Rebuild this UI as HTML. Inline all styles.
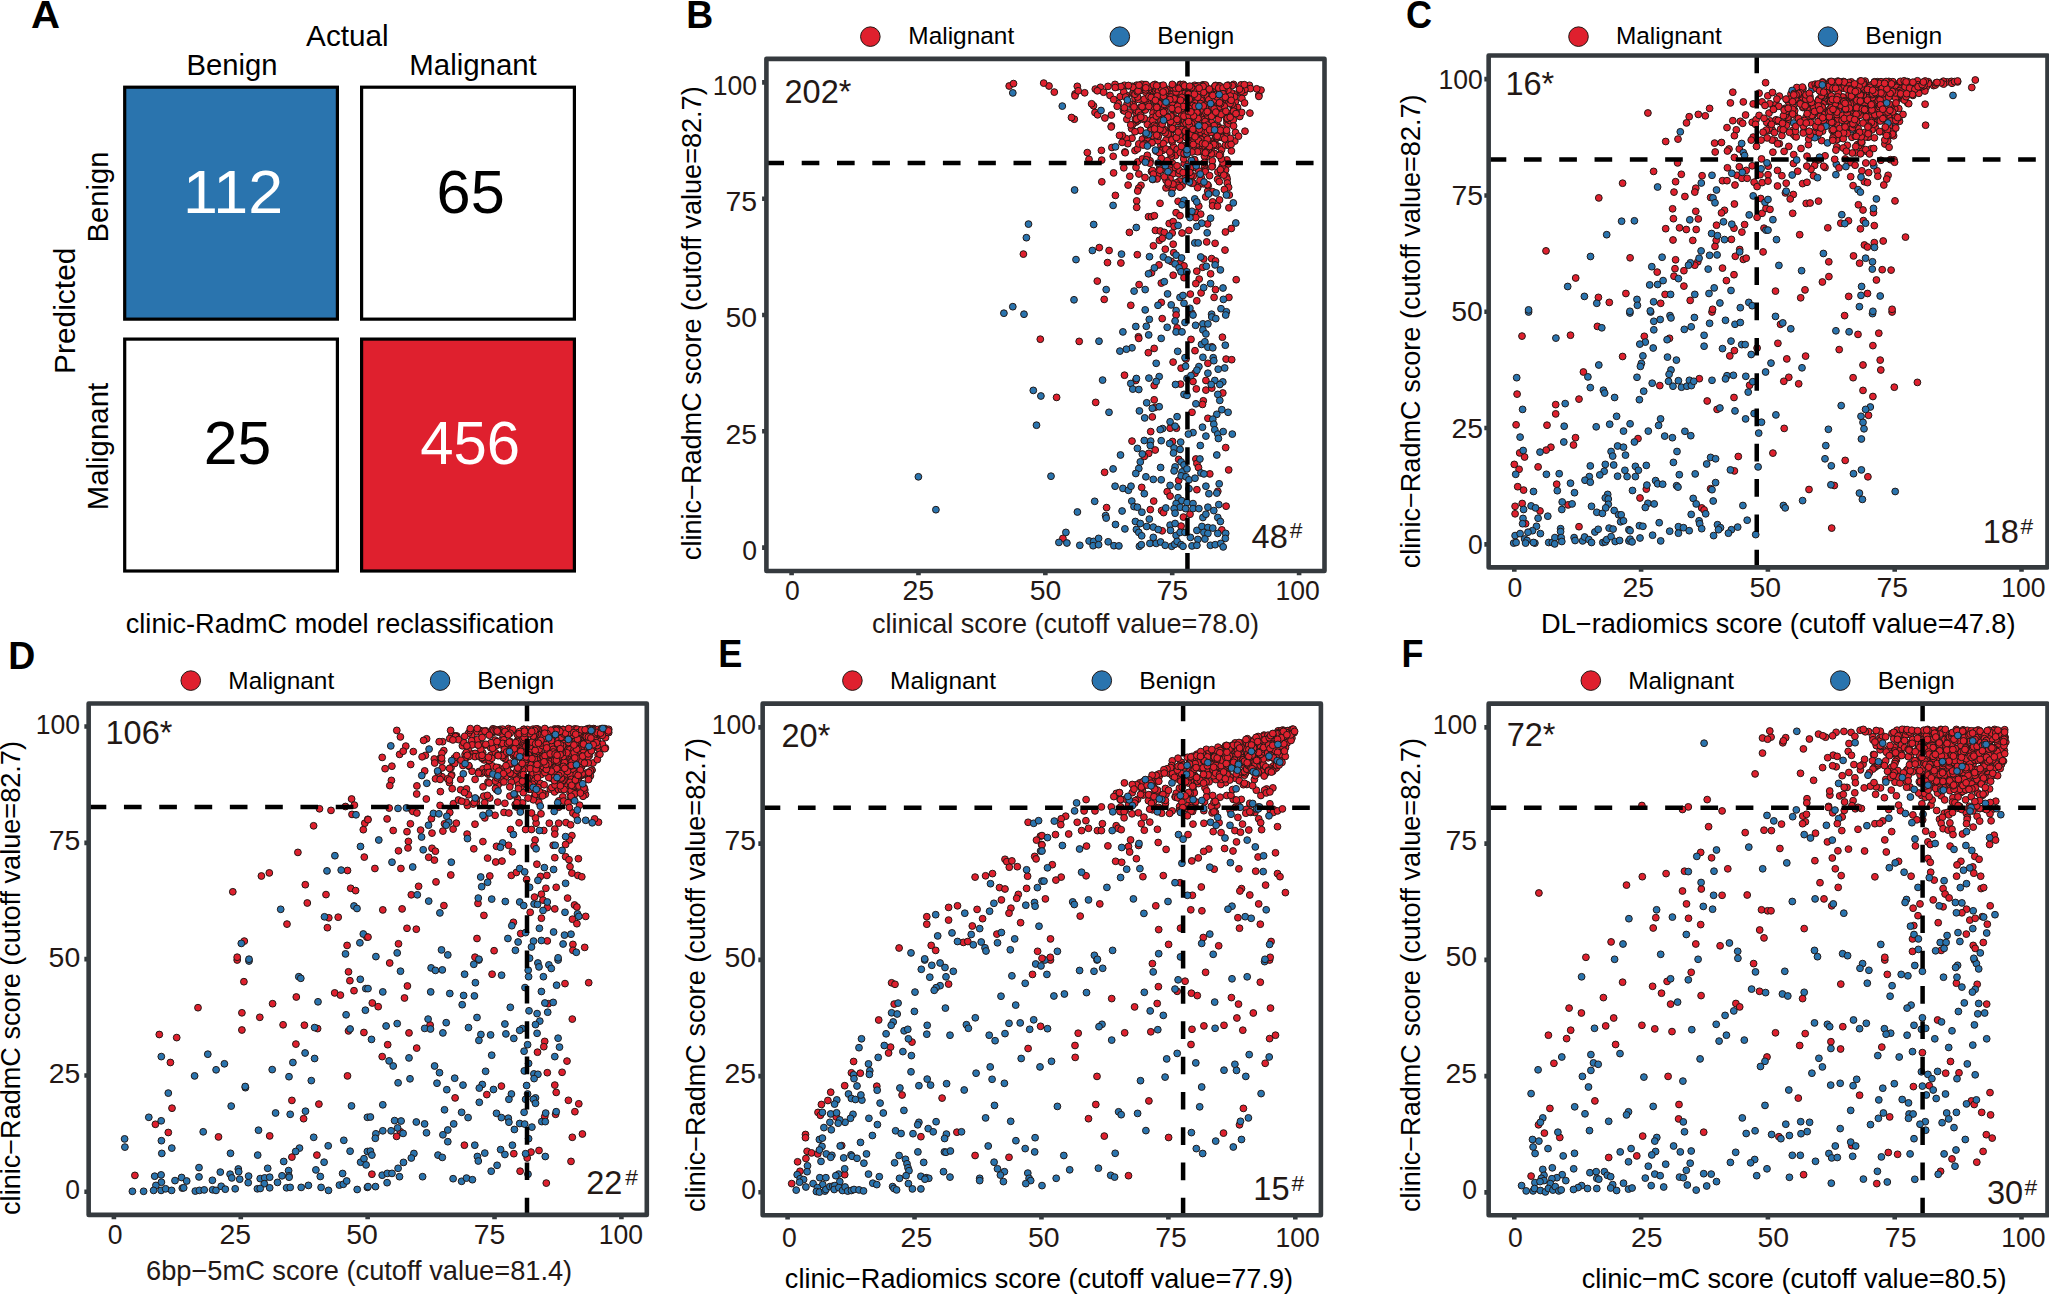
<!DOCTYPE html>
<html><head><meta charset="utf-8"><title>Figure</title>
<style>html,body{margin:0;padding:0;background:#fff}svg{display:block}text{font-family:"Liberation Sans", sans-serif;}</style>
</head><body>
<svg width="2049" height="1294" viewBox="0 0 2049 1294">
<rect width="2049" height="1294" fill="#fff"/>
<defs><circle id="r" r="3.4" fill="#df202e"/><circle id="b" r="3.4" fill="#2a74ae"/></defs>
<g id="panelA">
<text x="31.04" y="28.10" font-size="39" fill="#000" font-weight="bold" textLength="29.02" lengthAdjust="spacingAndGlyphs">A</text>
<rect x="124.70" y="87.20" width="212.70" height="231.95" fill="#2a74ae" stroke="#000" stroke-width="3.2"/>
<rect x="361.60" y="87.20" width="212.80" height="231.95" fill="#fff" stroke="#000" stroke-width="3.2"/>
<rect x="124.70" y="339.10" width="212.70" height="231.90" fill="#fff" stroke="#000" stroke-width="3.2"/>
<rect x="361.60" y="339.10" width="212.80" height="231.90" fill="#df202e" stroke="#000" stroke-width="3.2"/>
<text x="306.14" y="46.10" font-size="28.9" fill="#000" textLength="82.53" lengthAdjust="spacingAndGlyphs">Actual</text>
<text x="186.60" y="75.00" font-size="28.9" fill="#000" textLength="90.96" lengthAdjust="spacingAndGlyphs">Benign</text>
<text x="409.29" y="75.00" font-size="28.9" fill="#000" textLength="127.52" lengthAdjust="spacingAndGlyphs">Malignant</text>
<text x="75.20" y="373.95" transform="rotate(-90 75.20 373.95)" font-size="28.9" fill="#000" textLength="126.39" lengthAdjust="spacingAndGlyphs">Predicted</text>
<text x="108.40" y="242.40" transform="rotate(-90 108.40 242.40)" font-size="28.9" fill="#000" textLength="90.96" lengthAdjust="spacingAndGlyphs">Benign</text>
<text x="108.40" y="510.31" transform="rotate(-90 108.40 510.31)" font-size="28.9" fill="#000" textLength="127.52" lengthAdjust="spacingAndGlyphs">Malignant</text>
<text x="183.13" y="213.20" font-size="61" fill="#fff" textLength="100.02" lengthAdjust="spacingAndGlyphs">112</text>
<text x="436.63" y="212.50" font-size="61" fill="#000" textLength="68.20" lengthAdjust="spacingAndGlyphs">65</text>
<text x="203.66" y="463.60" font-size="61" fill="#000" textLength="67.54" lengthAdjust="spacingAndGlyphs">25</text>
<text x="420.18" y="463.50" font-size="61" fill="#fff" textLength="99.92" lengthAdjust="spacingAndGlyphs">456</text>
<text x="125.76" y="632.70" font-size="27.1" fill="#000" textLength="428.37" lengthAdjust="spacingAndGlyphs">clinic-RadmC model reclassification</text>
</g>
<g id="panelB">
<text x="686.24" y="28.10" font-size="39" fill="#000" font-weight="bold" textLength="26.95" lengthAdjust="spacingAndGlyphs">B</text>
<g stroke="#231815" stroke-width="1"><use href="#r" x="1175.6" y="155.6"/><use href="#r" x="1173" y="173.7"/><use href="#r" x="1179.4" y="181"/><use href="#r" x="1157.2" y="125.6"/><use href="#r" x="1191.6" y="183.2"/><use href="#r" x="1195.2" y="121.6"/><use href="#r" x="1054.3" y="92.1"/><use href="#r" x="1220.6" y="114.7"/><use href="#r" x="1140.3" y="130.6"/><use href="#r" x="1201.4" y="178.2"/><use href="#r" x="1200.2" y="117.5"/><use href="#r" x="1152.9" y="117.6"/><use href="#r" x="1204.5" y="135.6"/><use href="#r" x="1188.1" y="108.1"/><use href="#r" x="1132.4" y="105.3"/><use href="#r" x="1135.3" y="87.5"/><use href="#r" x="1087.3" y="152.6"/><use href="#r" x="1177.3" y="96.3"/><use href="#r" x="1178.9" y="173.7"/><use href="#r" x="1173.6" y="89.8"/><use href="#r" x="1217.9" y="89.1"/><use href="#r" x="1226.9" y="159.9"/><use href="#r" x="1214.7" y="86.6"/><use href="#r" x="1198.5" y="138"/><use href="#r" x="1151.4" y="142.2"/><use href="#r" x="1111.9" y="147.5"/><use href="#r" x="1212.3" y="101.9"/><use href="#r" x="1200.4" y="88.2"/><use href="#r" x="1217.9" y="91.6"/><use href="#r" x="1188.9" y="126.5"/><use href="#r" x="1226.9" y="122.6"/><use href="#r" x="1226.5" y="176.6"/><use href="#r" x="1142.4" y="139.1"/><use href="#r" x="1203.6" y="183.8"/><use href="#r" x="1225.6" y="169.9"/><use href="#r" x="1223.1" y="137.8"/><use href="#r" x="1206.9" y="156.3"/><use href="#r" x="1175.4" y="108"/><use href="#r" x="1144.2" y="109.5"/><use href="#r" x="1104.9" y="118"/><use href="#r" x="1120.2" y="96.6"/><use href="#r" x="1182.1" y="112.2"/><use href="#r" x="1153.1" y="91.2"/><use href="#r" x="1219.3" y="110.1"/><use href="#r" x="1160.7" y="112.9"/><use href="#r" x="1165.8" y="101.5"/><use href="#r" x="1161.5" y="169.8"/><use href="#r" x="1202.9" y="84.8"/><use href="#r" x="1136" y="167.4"/><use href="#r" x="1237.5" y="107.3"/><use href="#r" x="1118.3" y="103.4"/><use href="#r" x="1217.6" y="179.3"/><use href="#r" x="1133.5" y="105"/><use href="#r" x="1174.8" y="92.1"/><use href="#r" x="1217.3" y="137.7"/><use href="#r" x="1223.5" y="102"/><use href="#r" x="1101.7" y="160.1"/><use href="#r" x="1213" y="97.5"/><use href="#r" x="1160.6" y="110.1"/><use href="#r" x="1211.7" y="141.5"/><use href="#r" x="1219.4" y="115"/><use href="#r" x="1172.3" y="163.1"/><use href="#r" x="1184.2" y="163.6"/><use href="#r" x="1190.9" y="92.4"/><use href="#r" x="1140.5" y="90.4"/><use href="#r" x="1164.6" y="130.7"/><use href="#r" x="1173.9" y="110.5"/><use href="#r" x="1144.1" y="102.4"/><use href="#r" x="1168.4" y="167.7"/><use href="#r" x="1217.9" y="113.4"/><use href="#r" x="1182.2" y="185.3"/><use href="#r" x="1169.3" y="120.8"/><use href="#r" x="1213.7" y="129.2"/><use href="#r" x="1176" y="94"/><use href="#r" x="1174.3" y="88.6"/><use href="#r" x="1201.6" y="106"/><use href="#r" x="1190.3" y="125.3"/><use href="#r" x="1164" y="119.2"/><use href="#r" x="1220.9" y="103.1"/><use href="#r" x="1171" y="96"/><use href="#r" x="1074.3" y="119.2"/><use href="#r" x="1169" y="131.1"/><use href="#r" x="1202.2" y="113"/><use href="#r" x="1216.4" y="103.1"/><use href="#r" x="1203.8" y="85.6"/><use href="#r" x="1161.2" y="85.7"/><use href="#r" x="1183.8" y="94.4"/><use href="#r" x="1147.2" y="140.9"/><use href="#r" x="1183.3" y="123.4"/><use href="#r" x="1185.4" y="88.1"/><use href="#r" x="1200.4" y="132.1"/><use href="#r" x="1232.5" y="100"/><use href="#r" x="1206.7" y="112.8"/><use href="#r" x="1206.6" y="124.9"/><use href="#r" x="1234.1" y="94"/><use href="#r" x="1155" y="84.4"/><use href="#r" x="1126.5" y="95.5"/><use href="#r" x="1150.4" y="127.4"/><use href="#r" x="1152.5" y="107.9"/><use href="#r" x="1179.7" y="118.7"/><use href="#r" x="1194.7" y="100.5"/><use href="#r" x="1204.6" y="167"/><use href="#r" x="1214.1" y="143.6"/><use href="#r" x="1151.7" y="87.6"/><use href="#r" x="1193.3" y="166.8"/><use href="#r" x="1202.7" y="147.1"/><use href="#r" x="1145.6" y="106"/><use href="#r" x="1148.1" y="103.3"/><use href="#r" x="1212" y="123.9"/><use href="#r" x="1166.2" y="131.1"/><use href="#r" x="1235.4" y="101.6"/><use href="#r" x="1195.8" y="167.8"/><use href="#r" x="1184.5" y="121.1"/><use href="#r" x="1204.4" y="156.2"/><use href="#r" x="1170.2" y="187.8"/><use href="#r" x="1194.7" y="85.3"/><use href="#r" x="1186.7" y="122.9"/><use href="#r" x="1133.1" y="93.8"/><use href="#r" x="1212.7" y="88.8"/><use href="#r" x="1147.9" y="139"/><use href="#r" x="1084.7" y="92.8"/><use href="#r" x="1214.2" y="111.8"/><use href="#r" x="1214.5" y="153.5"/><use href="#r" x="1199.3" y="184.4"/><use href="#r" x="1215.7" y="137.7"/><use href="#r" x="1193.2" y="176"/><use href="#r" x="1219.7" y="106.8"/><use href="#r" x="1228.2" y="124"/><use href="#r" x="1123.5" y="110.5"/><use href="#r" x="1169.2" y="90.5"/><use href="#r" x="1144.5" y="88.4"/><use href="#r" x="1172.9" y="94.1"/><use href="#r" x="1171" y="135.4"/><use href="#r" x="1159.6" y="95.5"/><use href="#r" x="1206.5" y="113.8"/><use href="#r" x="1220.4" y="100.7"/><use href="#r" x="1218.1" y="126.3"/><use href="#r" x="1174.9" y="102"/><use href="#r" x="1144.9" y="109.4"/><use href="#r" x="1135" y="150.6"/><use href="#r" x="1172" y="121.2"/><use href="#r" x="1155.1" y="114.1"/><use href="#r" x="1172.8" y="188.1"/><use href="#r" x="1211" y="124.1"/><use href="#r" x="1184.3" y="92.7"/><use href="#r" x="1075.1" y="94"/><use href="#r" x="1215.6" y="85.4"/><use href="#r" x="1228.3" y="113.2"/><use href="#r" x="1195.5" y="163.4"/><use href="#r" x="1133" y="92.7"/><use href="#r" x="1194" y="115.6"/><use href="#r" x="1193.7" y="146.1"/><use href="#r" x="1196.9" y="121.9"/><use href="#r" x="1220.9" y="99"/><use href="#r" x="1220.1" y="170.5"/><use href="#r" x="1199.7" y="123.1"/><use href="#r" x="1218" y="146.1"/><use href="#r" x="1071.5" y="117.5"/><use href="#r" x="1132" y="138.2"/><use href="#r" x="1170.5" y="149.7"/><use href="#r" x="1228.5" y="103.4"/><use href="#r" x="1191" y="130.7"/><use href="#r" x="1151.5" y="171.5"/><use href="#r" x="1162.6" y="112.9"/><use href="#r" x="1123.7" y="91.8"/><use href="#r" x="1232" y="96.1"/><use href="#r" x="1153.7" y="86"/><use href="#r" x="1224.8" y="96.8"/><use href="#r" x="1201.6" y="102.1"/><use href="#r" x="1170.8" y="124.9"/><use href="#r" x="1186.7" y="106.5"/><use href="#r" x="1166.8" y="102"/><use href="#r" x="1190.6" y="116"/><use href="#r" x="1192.6" y="131.1"/><use href="#r" x="1159.5" y="91.4"/><use href="#r" x="1258.8" y="95"/><use href="#r" x="1190.6" y="136.5"/><use href="#r" x="1206.4" y="104.9"/><use href="#r" x="1137.7" y="161.9"/><use href="#r" x="1135" y="98.2"/><use href="#r" x="1188.5" y="137.1"/><use href="#r" x="1145.3" y="110"/><use href="#r" x="1124.9" y="152"/><use href="#r" x="1151.8" y="142.6"/><use href="#r" x="1148.2" y="159.7"/><use href="#r" x="1113.6" y="172.9"/><use href="#r" x="1201.6" y="123.5"/><use href="#r" x="1179.3" y="136.9"/><use href="#r" x="1216" y="138.2"/><use href="#r" x="1189.3" y="118.1"/><use href="#r" x="1126.2" y="138.6"/><use href="#r" x="1158.5" y="107.1"/><use href="#r" x="1188.5" y="164"/><use href="#r" x="1249.4" y="85.3"/><use href="#r" x="1195.7" y="128.8"/><use href="#r" x="1171.4" y="127.7"/><use href="#r" x="1224.7" y="90.7"/><use href="#r" x="1167.5" y="97"/><use href="#r" x="1170.2" y="159.4"/><use href="#r" x="1157.5" y="175.2"/><use href="#r" x="1187.6" y="124.2"/><use href="#r" x="1241.6" y="94.3"/><use href="#r" x="1180.1" y="84.4"/><use href="#r" x="1180.4" y="93.6"/><use href="#r" x="1138.5" y="99.4"/><use href="#r" x="1162" y="88.2"/><use href="#r" x="1222" y="166.9"/><use href="#r" x="1195.1" y="143.2"/><use href="#r" x="1218.9" y="127.8"/><use href="#r" x="1137.6" y="97"/><use href="#r" x="1110" y="95.4"/><use href="#r" x="1215" y="139.7"/><use href="#r" x="1198.5" y="101.5"/><use href="#r" x="1189.7" y="172.1"/><use href="#r" x="1217.9" y="172.1"/><use href="#r" x="1205.4" y="107"/><use href="#r" x="1217.6" y="95.7"/><use href="#r" x="1136.1" y="122.1"/><use href="#r" x="1179.4" y="87.2"/><use href="#r" x="1170.1" y="178.7"/><use href="#r" x="1148.1" y="95.5"/><use href="#r" x="1153" y="113"/><use href="#r" x="1146.5" y="98.8"/><use href="#r" x="1137.3" y="87"/><use href="#r" x="1184.4" y="146.8"/><use href="#r" x="1180.7" y="84.7"/><use href="#r" x="1216.5" y="89.9"/><use href="#r" x="1212.4" y="166"/><use href="#r" x="1135.2" y="91.4"/><use href="#r" x="1129.3" y="103.6"/><use href="#r" x="1204.9" y="96.6"/><use href="#r" x="1131.6" y="128.6"/><use href="#r" x="1240.2" y="88.9"/><use href="#r" x="1187.8" y="139"/><use href="#r" x="1221.7" y="132.2"/><use href="#r" x="1146" y="134.6"/><use href="#r" x="1214.8" y="112.4"/><use href="#r" x="1198.2" y="87"/><use href="#r" x="1191.6" y="86.7"/><use href="#r" x="1181.5" y="108.2"/><use href="#r" x="1218.8" y="89.2"/><use href="#r" x="1138.9" y="108.6"/><use href="#r" x="1152.6" y="117.5"/><use href="#r" x="1128.3" y="85.8"/><use href="#r" x="1136.6" y="85.2"/><use href="#r" x="1166.1" y="99.3"/><use href="#r" x="1200.9" y="86.1"/><use href="#r" x="1200.3" y="140.1"/><use href="#r" x="1204.9" y="146.4"/><use href="#r" x="1188.9" y="173.7"/><use href="#r" x="1208.8" y="92.9"/><use href="#r" x="1187.9" y="109.1"/><use href="#r" x="1176.8" y="120.9"/><use href="#r" x="1159.7" y="168.2"/><use href="#r" x="1159.7" y="119.2"/><use href="#r" x="1179.6" y="139.6"/><use href="#r" x="1177.5" y="121.5"/><use href="#r" x="1189.9" y="89.6"/><use href="#r" x="1149.3" y="120.4"/><use href="#r" x="1140.5" y="130.3"/><use href="#r" x="1176.8" y="121.6"/><use href="#r" x="1239.8" y="116.5"/><use href="#r" x="1192.6" y="99.2"/><use href="#r" x="1137.7" y="120.8"/><use href="#r" x="1230.9" y="120.1"/><use href="#r" x="1241.7" y="112.4"/><use href="#r" x="1250.4" y="88.6"/><use href="#r" x="1199.2" y="90.9"/><use href="#r" x="1101.8" y="181.8"/><use href="#r" x="1201" y="123.3"/><use href="#r" x="1176.2" y="89"/><use href="#r" x="1172.5" y="117.5"/><use href="#r" x="1173.4" y="106.5"/><use href="#r" x="1147.4" y="145"/><use href="#r" x="1158" y="136.5"/><use href="#r" x="1216.5" y="138"/><use href="#r" x="1207.7" y="191.2"/><use href="#r" x="1197.1" y="143.9"/><use href="#r" x="1196.6" y="97"/><use href="#r" x="1164.1" y="89.2"/><use href="#r" x="1198.3" y="85.8"/><use href="#r" x="1144.2" y="99.2"/><use href="#r" x="1172.7" y="87.7"/><use href="#r" x="1129.8" y="176.3"/><use href="#r" x="1133.9" y="90.8"/><use href="#r" x="1215.5" y="145.1"/><use href="#r" x="1244.1" y="92.6"/><use href="#r" x="1217.3" y="102.3"/><use href="#r" x="1224.4" y="106.2"/><use href="#r" x="1177.6" y="108"/><use href="#r" x="1179.4" y="170.5"/><use href="#r" x="1162.7" y="92.4"/><use href="#r" x="1219.4" y="96.4"/><use href="#r" x="1192.8" y="129.6"/><use href="#r" x="1217.8" y="87.3"/><use href="#r" x="1193.6" y="131"/><use href="#r" x="1122.3" y="135.4"/><use href="#r" x="1211.3" y="111.9"/><use href="#r" x="1202.7" y="110.7"/><use href="#r" x="1147.4" y="124.4"/><use href="#r" x="1111.4" y="126"/><use href="#r" x="1205.8" y="91.7"/><use href="#r" x="1211" y="149.4"/><use href="#r" x="1183.7" y="158.9"/><use href="#r" x="1144.7" y="161"/><use href="#r" x="1153.5" y="100.2"/><use href="#r" x="1190.6" y="126.7"/><use href="#r" x="1205.2" y="170.1"/><use href="#r" x="1163.5" y="114"/><use href="#r" x="1176.3" y="182.8"/><use href="#r" x="1177.7" y="185.3"/><use href="#r" x="1190" y="109"/><use href="#r" x="1241.9" y="98.4"/><use href="#r" x="1152.2" y="132.7"/><use href="#r" x="1142.4" y="159"/><use href="#r" x="1167" y="101.2"/><use href="#r" x="1225.1" y="113.5"/><use href="#r" x="1171.4" y="156.3"/><use href="#r" x="1212.3" y="160.8"/><use href="#r" x="1194.3" y="93.4"/><use href="#r" x="1191" y="175.5"/><use href="#r" x="1175.3" y="118.6"/><use href="#r" x="1245" y="131.2"/><use href="#r" x="1192" y="181.9"/><use href="#r" x="1137.7" y="113.7"/><use href="#r" x="1142.5" y="107"/><use href="#r" x="1161.3" y="126.8"/><use href="#r" x="1229.6" y="120.5"/><use href="#r" x="1230.5" y="139.2"/><use href="#r" x="1117.8" y="86.8"/><use href="#r" x="1185.4" y="177.3"/><use href="#r" x="1215" y="128.4"/><use href="#r" x="1184.1" y="103"/><use href="#r" x="1202" y="114.4"/><use href="#r" x="1221.6" y="149.8"/><use href="#r" x="1194.2" y="159.6"/><use href="#r" x="1198.9" y="171.1"/><use href="#r" x="1180.5" y="108.4"/><use href="#r" x="1148.7" y="89.7"/><use href="#r" x="1226.7" y="133.2"/><use href="#r" x="1145.8" y="92.2"/><use href="#r" x="1155.1" y="133.3"/><use href="#r" x="1231.4" y="92.8"/><use href="#r" x="1189.2" y="95.6"/><use href="#r" x="1211.3" y="153.7"/><use href="#r" x="1173.6" y="146.9"/><use href="#r" x="1157.3" y="112"/><use href="#r" x="1234.5" y="96.9"/><use href="#r" x="1202.8" y="115.4"/><use href="#r" x="1158.3" y="127.8"/><use href="#r" x="1124.4" y="85.3"/><use href="#r" x="1152.1" y="127"/><use href="#r" x="1261" y="90.1"/><use href="#r" x="1132.2" y="86.3"/><use href="#r" x="1113.7" y="99.5"/><use href="#r" x="1164.9" y="106.3"/><use href="#r" x="1154.3" y="96.7"/><use href="#r" x="1144" y="84.6"/><use href="#r" x="1177.2" y="99.4"/><use href="#r" x="1207.5" y="96.3"/><use href="#r" x="1168.6" y="136.3"/><use href="#r" x="1162.1" y="144.3"/><use href="#r" x="1155.6" y="90.5"/><use href="#r" x="1187.1" y="127.7"/><use href="#r" x="1190.5" y="167.8"/><use href="#r" x="1163.7" y="110.5"/><use href="#r" x="1172.9" y="123.6"/><use href="#r" x="1207.9" y="144.2"/><use href="#r" x="1178.9" y="105.2"/><use href="#r" x="1127.8" y="143.7"/><use href="#r" x="1200.6" y="115.4"/><use href="#r" x="1193.8" y="141.3"/><use href="#r" x="1189.5" y="104.7"/><use href="#r" x="1205.9" y="135.4"/><use href="#r" x="1182.6" y="102.9"/><use href="#r" x="1188.7" y="110.7"/><use href="#r" x="1194.6" y="123"/><use href="#r" x="1183.4" y="87.1"/><use href="#r" x="1235.9" y="112.2"/><use href="#r" x="1077.3" y="86.3"/><use href="#r" x="1188.3" y="172.3"/><use href="#r" x="1169.3" y="98.7"/><use href="#r" x="1129.2" y="112.1"/><use href="#r" x="1233.6" y="84.4"/><use href="#r" x="1205.8" y="86.2"/><use href="#r" x="1234.8" y="141.1"/><use href="#r" x="1191.7" y="107.9"/><use href="#r" x="1222.2" y="128.6"/><use href="#r" x="1193.9" y="102"/><use href="#r" x="1185.3" y="147.2"/><use href="#r" x="1172.2" y="141.7"/><use href="#r" x="1141.7" y="84.3"/><use href="#r" x="1171.5" y="139.5"/><use href="#r" x="1203.7" y="92.3"/><use href="#r" x="1158.6" y="99.1"/><use href="#r" x="1213.3" y="124.9"/><use href="#r" x="1152.8" y="120.6"/><use href="#r" x="1115" y="84.4"/><use href="#r" x="1171.1" y="104.2"/><use href="#r" x="1227.4" y="115.5"/><use href="#r" x="1154.3" y="125.4"/><use href="#r" x="1204.5" y="162.4"/><use href="#r" x="1184.4" y="93.6"/><use href="#r" x="1157.1" y="178.9"/><use href="#r" x="1211.9" y="95.9"/><use href="#r" x="1135" y="94.3"/><use href="#r" x="1199.1" y="108.4"/><use href="#r" x="1207.8" y="88.8"/><use href="#r" x="1212.5" y="101.4"/><use href="#r" x="1240.2" y="90.8"/><use href="#r" x="1159.6" y="111"/><use href="#r" x="1181.3" y="116.1"/><use href="#r" x="1191.4" y="96.8"/><use href="#r" x="1197.4" y="144"/><use href="#r" x="1188.3" y="126.5"/><use href="#r" x="1145.7" y="89.9"/><use href="#r" x="1213.6" y="143.9"/><use href="#r" x="1152.5" y="129.6"/><use href="#r" x="1167.8" y="134.3"/><use href="#r" x="1136.2" y="113"/><use href="#r" x="1181.8" y="108.6"/><use href="#r" x="1225.3" y="136.3"/><use href="#r" x="1225.6" y="115.5"/><use href="#r" x="1137.5" y="148.9"/><use href="#r" x="1244.6" y="103"/><use href="#r" x="1209.3" y="147.2"/><use href="#r" x="1155.7" y="126.9"/><use href="#r" x="1181.5" y="147.7"/><use href="#r" x="1232.3" y="85.5"/><use href="#r" x="1203.1" y="115.9"/><use href="#r" x="1203.6" y="92.3"/><use href="#r" x="1193.7" y="133.7"/><use href="#r" x="1221.2" y="172.6"/><use href="#r" x="1168.4" y="117.6"/><use href="#r" x="1186.9" y="154.2"/><use href="#r" x="1140.9" y="107.1"/><use href="#r" x="1258.9" y="96.4"/><use href="#r" x="1163.8" y="103.1"/><use href="#r" x="1169.1" y="116.5"/><use href="#r" x="1175.8" y="97.3"/><use href="#r" x="1191.6" y="101.3"/><use href="#r" x="1184.9" y="154.3"/><use href="#r" x="1166" y="187.9"/><use href="#r" x="1166.8" y="89.1"/><use href="#r" x="1179.5" y="135"/><use href="#r" x="1244" y="85.6"/><use href="#r" x="1123.8" y="167.8"/><use href="#r" x="1167" y="116.1"/><use href="#r" x="1216" y="136.6"/><use href="#r" x="1187" y="118.9"/><use href="#r" x="1151" y="130.3"/><use href="#r" x="1205.3" y="171.7"/><use href="#r" x="1160.9" y="145.1"/><use href="#r" x="1204.3" y="116.4"/><use href="#r" x="1233.3" y="119.9"/><use href="#r" x="1212.3" y="145.9"/><use href="#r" x="1134.3" y="88"/><use href="#r" x="1145" y="177.5"/><use href="#r" x="1152.5" y="135.8"/><use href="#r" x="1214.3" y="99.9"/><use href="#r" x="1205.5" y="122.7"/><use href="#r" x="1199.3" y="151.4"/><use href="#r" x="1227.1" y="179"/><use href="#r" x="1179.4" y="129"/><use href="#r" x="1220.6" y="99.2"/><use href="#r" x="1157.1" y="89.5"/><use href="#r" x="1170" y="97.9"/><use href="#r" x="1211.3" y="122.3"/><use href="#r" x="1183.9" y="116.2"/><use href="#r" x="1207.4" y="115.1"/><use href="#r" x="1192" y="89.5"/><use href="#r" x="1233.3" y="107.5"/><use href="#r" x="1194.6" y="114.1"/><use href="#r" x="1183.5" y="129.8"/><use href="#r" x="1209" y="128.2"/><use href="#r" x="1196.9" y="90.6"/><use href="#r" x="1208.3" y="150.1"/><use href="#r" x="1178.4" y="96.7"/><use href="#r" x="1175.5" y="111"/><use href="#r" x="1215.3" y="94.6"/><use href="#r" x="1125.2" y="152.7"/><use href="#r" x="1206.3" y="119"/><use href="#r" x="1164" y="109.1"/><use href="#r" x="1138.8" y="143.9"/><use href="#r" x="1166" y="140.1"/><use href="#r" x="1205.8" y="122"/><use href="#r" x="1162.1" y="87.2"/><use href="#r" x="1203.6" y="110.3"/><use href="#r" x="1149" y="96.5"/><use href="#r" x="1132.6" y="124.5"/><use href="#r" x="1235.5" y="132.5"/><use href="#r" x="1204.5" y="119.4"/><use href="#r" x="1197.8" y="103.6"/><use href="#r" x="1228.1" y="85.2"/><use href="#r" x="1170.8" y="153.8"/><use href="#r" x="1121" y="86.6"/><use href="#r" x="1177.2" y="149.3"/><use href="#r" x="1208.8" y="99.8"/><use href="#r" x="1172.4" y="102.5"/><use href="#r" x="1089" y="159.3"/><use href="#r" x="1215" y="133.8"/><use href="#r" x="1213.4" y="110.8"/><use href="#r" x="1186.5" y="134"/><use href="#r" x="1177.7" y="129.7"/><use href="#r" x="1117.2" y="106.3"/><use href="#r" x="1206.5" y="151.4"/><use href="#r" x="1164.6" y="129.7"/><use href="#r" x="1124.6" y="111"/><use href="#r" x="1168" y="134"/><use href="#r" x="1132.9" y="87.3"/><use href="#r" x="1182.1" y="86.7"/><use href="#r" x="1195.4" y="113.7"/><use href="#r" x="1211.9" y="166.8"/><use href="#r" x="1179" y="92.6"/><use href="#r" x="1195.2" y="131.9"/><use href="#r" x="1174.6" y="167.3"/><use href="#r" x="1177" y="119.4"/><use href="#r" x="1244.9" y="89.4"/><use href="#r" x="1111.4" y="115"/><use href="#r" x="1175.2" y="99.1"/><use href="#r" x="1164.2" y="104.4"/><use href="#r" x="1176" y="92"/><use href="#r" x="1156" y="151.1"/><use href="#r" x="1170.6" y="121.5"/><use href="#r" x="1225.5" y="145.2"/><use href="#r" x="1100.4" y="87.3"/><use href="#r" x="1219" y="85.7"/><use href="#r" x="1181.9" y="97.3"/><use href="#r" x="1189.9" y="92"/><use href="#r" x="1111.2" y="126.9"/><use href="#r" x="1196.1" y="86.7"/><use href="#r" x="1115.2" y="87.5"/><use href="#r" x="1144.9" y="143.5"/><use href="#r" x="1127.1" y="104"/><use href="#r" x="1190.3" y="126.3"/><use href="#r" x="1204.1" y="104.3"/><use href="#r" x="1168.3" y="184.8"/><use href="#r" x="1212" y="106.5"/><use href="#r" x="1136.1" y="110"/><use href="#r" x="1150.1" y="160.9"/><use href="#r" x="1156.3" y="116.2"/><use href="#r" x="1145.6" y="86.1"/><use href="#r" x="1160.3" y="127.1"/><use href="#r" x="1162.5" y="149.1"/><use href="#r" x="1158.5" y="91.1"/><use href="#r" x="1184.1" y="152.9"/><use href="#r" x="1232.2" y="104.4"/><use href="#r" x="1196.8" y="90.4"/><use href="#r" x="1223.6" y="90.6"/><use href="#r" x="1223.8" y="175.1"/><use href="#r" x="1187.7" y="105.7"/><use href="#r" x="1162.5" y="150.4"/><use href="#r" x="1182.5" y="145.4"/><use href="#r" x="1219.3" y="181.7"/><use href="#r" x="1225.4" y="88.7"/><use href="#r" x="1137.3" y="91.8"/><use href="#r" x="1205.4" y="152.8"/><use href="#r" x="1146.8" y="134.8"/><use href="#r" x="1093.5" y="105.8"/><use href="#r" x="1213.1" y="132.1"/><use href="#r" x="1233.6" y="126"/><use href="#r" x="1207.4" y="115.3"/><use href="#r" x="1152.8" y="179.5"/><use href="#r" x="1049" y="86"/><use href="#r" x="1197.5" y="92.5"/><use href="#r" x="1188.5" y="143.1"/><use href="#r" x="1233.6" y="111.2"/><use href="#r" x="1220.4" y="130.2"/><use href="#r" x="1101.4" y="150.4"/><use href="#r" x="1171.9" y="139.9"/><use href="#r" x="1144.3" y="144"/><use href="#r" x="1196.8" y="97.6"/><use href="#r" x="1195.6" y="103.1"/><use href="#r" x="1143" y="145"/><use href="#r" x="1228.4" y="163.9"/><use href="#r" x="1159.4" y="152.8"/><use href="#r" x="1171" y="97"/><use href="#r" x="1163.7" y="91.4"/><use href="#r" x="1176.3" y="137.5"/><use href="#r" x="1218.3" y="119.3"/><use href="#r" x="1226.7" y="119"/><use href="#r" x="1189.1" y="113.1"/><use href="#r" x="1163.3" y="143.5"/><use href="#r" x="1189.7" y="129.4"/><use href="#r" x="1126.8" y="119.3"/><use href="#r" x="1191" y="96.8"/><use href="#r" x="1230.3" y="138.3"/><use href="#r" x="1197.5" y="151.8"/><use href="#r" x="1136.7" y="119.5"/><use href="#r" x="1181.7" y="129.6"/><use href="#r" x="1191.4" y="91.1"/><use href="#r" x="1206" y="112.8"/><use href="#r" x="1095" y="112.5"/><use href="#r" x="1205.1" y="121.5"/><use href="#r" x="1168.6" y="150.1"/><use href="#r" x="1191.7" y="123.9"/><use href="#r" x="1241" y="84.9"/><use href="#r" x="1173" y="85.2"/><use href="#r" x="1184.6" y="150.6"/><use href="#r" x="1186.1" y="123.4"/><use href="#r" x="1138.9" y="174"/><use href="#r" x="1185.3" y="131.2"/><use href="#r" x="1161" y="121"/><use href="#r" x="1165.2" y="132.8"/><use href="#r" x="1157" y="102.3"/><use href="#r" x="1205.4" y="85"/><use href="#r" x="1200.9" y="139.4"/><use href="#r" x="1220.4" y="169.7"/><use href="#r" x="1183.1" y="172.6"/><use href="#r" x="1164.6" y="89.1"/><use href="#r" x="1138.6" y="112.3"/><use href="#r" x="1186.2" y="137.6"/><use href="#r" x="1125.7" y="97"/><use href="#r" x="1149.1" y="87.1"/><use href="#r" x="1222.5" y="137.5"/><use href="#r" x="1196.7" y="129.9"/><use href="#r" x="1174.2" y="98.8"/><use href="#r" x="1212.7" y="191.7"/><use href="#r" x="1226.3" y="117.6"/><use href="#r" x="1134" y="106.9"/><use href="#r" x="1188" y="93.6"/><use href="#r" x="1166.1" y="180.3"/><use href="#r" x="1141" y="185.3"/><use href="#r" x="1193.3" y="144.4"/><use href="#r" x="1215.1" y="85.9"/><use href="#r" x="1189.2" y="115.6"/><use href="#r" x="1202" y="125.9"/><use href="#r" x="1227.4" y="118.3"/><use href="#r" x="1198.7" y="140.8"/><use href="#r" x="1221.1" y="114.4"/><use href="#r" x="1151.7" y="97.5"/><use href="#r" x="1175.8" y="88.2"/><use href="#r" x="1202.5" y="143.5"/><use href="#r" x="1226.6" y="130.3"/><use href="#r" x="1214.1" y="125.6"/><use href="#r" x="1143.5" y="119.4"/><use href="#r" x="1158.1" y="104.1"/><use href="#r" x="1190.1" y="134.4"/><use href="#r" x="1197.2" y="117"/><use href="#r" x="1180.3" y="152.7"/><use href="#r" x="1197.6" y="187.7"/><use href="#r" x="1201.7" y="104.1"/><use href="#r" x="1157.8" y="140.7"/><use href="#r" x="1172.3" y="84.4"/><use href="#r" x="1161.3" y="88.2"/><use href="#r" x="1213.8" y="144.5"/><use href="#r" x="1188" y="151.5"/><use href="#r" x="1227.3" y="183"/><use href="#r" x="1177.1" y="165.8"/><use href="#r" x="1189.3" y="125.3"/><use href="#r" x="1158.5" y="96.5"/><use href="#r" x="1172.5" y="109.4"/><use href="#r" x="1203.1" y="86.4"/><use href="#r" x="1209.5" y="146.6"/><use href="#r" x="1155.7" y="101"/><use href="#r" x="1173" y="184.1"/><use href="#r" x="1173" y="129.3"/><use href="#r" x="1135.3" y="119"/><use href="#r" x="1178.8" y="88.3"/><use href="#r" x="1161.3" y="158.5"/><use href="#r" x="1119.5" y="135.4"/><use href="#r" x="1158.2" y="136.3"/><use href="#r" x="1170.9" y="116.1"/><use href="#r" x="1169.8" y="99.6"/><use href="#r" x="1188.5" y="94.3"/><use href="#r" x="1163" y="130.4"/><use href="#r" x="1219.9" y="86.2"/><use href="#r" x="1194.2" y="89.8"/><use href="#r" x="1189.7" y="172.4"/><use href="#r" x="1220.4" y="154.1"/><use href="#r" x="1191.5" y="87.5"/><use href="#r" x="1124.4" y="107.8"/><use href="#r" x="1183.3" y="106.5"/><use href="#r" x="1151.2" y="97.4"/><use href="#r" x="1226.2" y="91.4"/><use href="#r" x="1224.7" y="138.9"/><use href="#r" x="1172" y="108.4"/><use href="#r" x="1196.9" y="112.6"/><use href="#r" x="1238.5" y="136.2"/><use href="#r" x="1208.2" y="185.7"/><use href="#r" x="1231.4" y="150.9"/><use href="#r" x="1201" y="100.2"/><use href="#r" x="1152" y="142.7"/><use href="#r" x="1075" y="95.8"/><use href="#r" x="1203.9" y="130.4"/><use href="#r" x="1183.4" y="84.4"/><use href="#r" x="1194.7" y="160"/><use href="#r" x="1163.3" y="85.2"/><use href="#r" x="1207.5" y="125.1"/><use href="#r" x="1165.4" y="90.8"/><use href="#r" x="1223.1" y="162.8"/><use href="#r" x="1200.5" y="103.6"/><use href="#r" x="1140.7" y="115.3"/><use href="#r" x="1184" y="153.5"/><use href="#r" x="1221" y="98.2"/><use href="#r" x="1157.3" y="96"/><use href="#r" x="1097.6" y="114.8"/><use href="#r" x="1207.5" y="184.7"/><use href="#r" x="1154.8" y="129.8"/><use href="#r" x="1193" y="105.5"/><use href="#r" x="1136.5" y="119.1"/><use href="#r" x="1212.5" y="115"/><use href="#r" x="1227.9" y="90.3"/><use href="#r" x="1228.3" y="145.2"/><use href="#r" x="1142.9" y="106.8"/><use href="#r" x="1214.2" y="108.9"/><use href="#r" x="1144.2" y="118.3"/><use href="#r" x="1172.4" y="128.5"/><use href="#r" x="1154" y="85.4"/><use href="#r" x="1103.6" y="92.2"/><use href="#r" x="1149.9" y="163.2"/><use href="#r" x="1241.4" y="91.2"/><use href="#r" x="1180" y="187.2"/><use href="#r" x="1177.6" y="106.2"/><use href="#r" x="1230.2" y="103.5"/><use href="#r" x="1230.3" y="96"/><use href="#r" x="1207.3" y="131.8"/><use href="#r" x="1138.1" y="90.9"/><use href="#r" x="1218.7" y="88.1"/><use href="#r" x="1209.3" y="89.1"/><use href="#r" x="1231.1" y="144.4"/><use href="#r" x="1217.2" y="136.2"/><use href="#r" x="1223.8" y="90"/><use href="#r" x="1223" y="88"/><use href="#r" x="1163.5" y="96.2"/><use href="#r" x="1158.9" y="103.4"/><use href="#r" x="1221.4" y="158.9"/><use href="#r" x="1147.3" y="155.3"/><use href="#r" x="1211.1" y="132.5"/><use href="#r" x="1226.9" y="85.6"/><use href="#r" x="1211.6" y="116.3"/><use href="#r" x="1223" y="93.8"/><use href="#r" x="1091.6" y="103.8"/><use href="#r" x="1160" y="129.3"/><use href="#r" x="1165.9" y="149"/><use href="#r" x="1156.7" y="135.2"/><use href="#r" x="1197.8" y="97.2"/><use href="#r" x="1195" y="136.8"/><use href="#r" x="1184.6" y="85.8"/><use href="#r" x="1178.2" y="110"/><use href="#r" x="1244.3" y="84.7"/><use href="#r" x="1167.3" y="160.7"/><use href="#r" x="1188.6" y="121.6"/><use href="#r" x="1256.7" y="88.8"/><use href="#r" x="1095.3" y="89.1"/><use href="#r" x="1192.9" y="183"/><use href="#r" x="1220.7" y="103.6"/><use href="#r" x="1178.2" y="132"/><use href="#r" x="1130.8" y="124.9"/><use href="#r" x="1192.9" y="129.3"/><use href="#r" x="1209.1" y="128.2"/><use href="#r" x="1188.5" y="98.6"/><use href="#r" x="1195.2" y="106.5"/><use href="#r" x="1249.9" y="113.1"/><use href="#r" x="1113.2" y="156.3"/><use href="#r" x="1142.1" y="106.7"/><use href="#r" x="1199.1" y="88.2"/><use href="#r" x="1207.3" y="111.6"/><use href="#r" x="1146" y="84.6"/><use href="#r" x="1204.8" y="126.3"/><use href="#r" x="1217" y="96.9"/><use href="#r" x="1188.9" y="108.3"/><use href="#r" x="1230.2" y="117.3"/><use href="#r" x="1164.4" y="176.8"/><use href="#r" x="1212.8" y="95.5"/><use href="#r" x="1108" y="86.4"/><use href="#r" x="1203.3" y="105.9"/><use href="#r" x="1191.9" y="152"/><use href="#r" x="1163.1" y="92"/><use href="#r" x="1225.3" y="97.2"/><use href="#r" x="1209.6" y="129.8"/><use href="#r" x="1219.5" y="102.7"/><use href="#r" x="1139" y="85.2"/><use href="#r" x="1187" y="152.2"/><use href="#r" x="1159.1" y="113.7"/><use href="#r" x="1167.8" y="117.2"/><use href="#r" x="1207.4" y="139.2"/><use href="#r" x="1156.3" y="106.2"/><use href="#r" x="1169.2" y="166.2"/><use href="#r" x="1128.4" y="85.5"/><use href="#r" x="1153.5" y="85.1"/><use href="#r" x="1156.7" y="85.7"/><use href="#r" x="1200" y="180.4"/><use href="#r" x="1165" y="111.5"/><use href="#r" x="1163.5" y="112.3"/><use href="#r" x="1152.4" y="170.5"/><use href="#r" x="1180.5" y="100.2"/><use href="#r" x="1181.4" y="146.4"/><use href="#r" x="1219.4" y="155.4"/><use href="#r" x="1128.4" y="115"/><use href="#r" x="1148.8" y="106.4"/><use href="#r" x="1146.4" y="159.8"/><use href="#r" x="1140.8" y="117.2"/><use href="#r" x="1236" y="113.6"/><use href="#r" x="1169.4" y="170.2"/><use href="#r" x="1154.5" y="128.9"/><use href="#r" x="1189.7" y="86.2"/><use href="#r" x="1078.2" y="90.8"/><use href="#r" x="1122.1" y="142.4"/><use href="#r" x="1198" y="118.5"/><use href="#r" x="1188.5" y="111.3"/><use href="#r" x="1199.4" y="129.2"/><use href="#r" x="1189.2" y="99.1"/><use href="#r" x="1231.2" y="100.3"/><use href="#r" x="1097.3" y="90.8"/><use href="#r" x="1193.6" y="116"/><use href="#r" x="1225.9" y="111.3"/><use href="#r" x="1194.4" y="94.2"/><use href="#r" x="1168.2" y="183"/><use href="#r" x="1215.8" y="112.1"/><use href="#r" x="1155.4" y="100.3"/><use href="#r" x="1159.9" y="170.2"/><use href="#r" x="1162.2" y="124.1"/><use href="#r" x="1190.9" y="111.9"/><use href="#r" x="1153.3" y="174.1"/><use href="#r" x="1205.2" y="143.9"/><use href="#r" x="1156.8" y="107.4"/><use href="#r" x="1228.6" y="187.3"/><use href="#r" x="1169.9" y="152"/><use href="#r" x="1128.1" y="185.1"/><use href="#r" x="1145.8" y="87.8"/><use href="#r" x="1135" y="131.7"/><use href="#r" x="1209.6" y="175.7"/><use href="#r" x="1239.5" y="89.2"/><use href="#b" x="1101" y="110.5"/><use href="#b" x="1204" y="182"/><use href="#b" x="1165.4" y="165.7"/><use href="#b" x="1145.4" y="162.2"/><use href="#b" x="1148.7" y="134.5"/><use href="#b" x="1198.9" y="106.2"/><use href="#b" x="1198.8" y="125.7"/><use href="#b" x="1146.1" y="133.1"/><use href="#b" x="1187.1" y="153.7"/><use href="#b" x="1219.2" y="94.6"/><use href="#b" x="1062.3" y="106.1"/><use href="#b" x="1155.5" y="150.1"/><use href="#b" x="1166" y="102.1"/><use href="#b" x="1187" y="149.7"/><use href="#b" x="1196.2" y="165.9"/><use href="#b" x="1168" y="171.7"/><use href="#b" x="1115.5" y="146.8"/><use href="#b" x="1210.6" y="103.6"/><use href="#b" x="1191.5" y="160.5"/><use href="#b" x="1185.8" y="180.7"/><use href="#b" x="1127.4" y="100"/><use href="#b" x="1200.2" y="174.1"/><use href="#b" x="1189.5" y="182.1"/><use href="#b" x="1158.2" y="163.1"/><use href="#b" x="1187" y="166.6"/><use href="#b" x="1147.4" y="146"/><use href="#b" x="1214.6" y="129.9"/><use href="#b" x="1152.4" y="179.1"/><use href="#b" x="1163.5" y="120.2"/><use href="#r" x="1115.4" y="195.4"/><use href="#r" x="1138.7" y="188.1"/><use href="#r" x="1137.7" y="191"/><use href="#r" x="1136.7" y="200.9"/><use href="#r" x="1136.7" y="207.4"/><use href="#r" x="1160" y="203.3"/><use href="#r" x="1148.5" y="216.7"/><use href="#r" x="1151.5" y="216.7"/><use href="#r" x="1154.4" y="215.7"/><use href="#r" x="1129.4" y="232.4"/><use href="#r" x="1178.1" y="201.3"/><use href="#r" x="1176.1" y="212.7"/><use href="#r" x="1169.2" y="223.5"/><use href="#r" x="1173.2" y="221.6"/><use href="#r" x="1174.1" y="226.5"/><use href="#r" x="1155.4" y="230.4"/><use href="#r" x="1160.3" y="231"/><use href="#r" x="1164.3" y="232.4"/><use href="#r" x="1172.2" y="233"/><use href="#r" x="1182" y="233"/><use href="#r" x="1188.9" y="230.4"/><use href="#r" x="1159.4" y="240.3"/><use href="#r" x="1162.3" y="238.3"/><use href="#r" x="1153.4" y="245.8"/><use href="#r" x="1165.3" y="249.2"/><use href="#r" x="1173.2" y="244.2"/><use href="#r" x="1099.3" y="247.6"/><use href="#r" x="1109.1" y="250.5"/><use href="#r" x="1137.3" y="254.7"/><use href="#r" x="1107.5" y="262.6"/><use href="#r" x="1120.9" y="263"/><use href="#r" x="1173.7" y="252.7"/><use href="#r" x="1171.2" y="261.4"/><use href="#r" x="1180" y="263"/><use href="#r" x="1184" y="265.9"/><use href="#r" x="1159" y="264.9"/><use href="#r" x="1151.5" y="272.8"/><use href="#r" x="1173.2" y="275.2"/><use href="#r" x="1184" y="277.7"/><use href="#r" x="1097.3" y="281.1"/><use href="#r" x="1139.1" y="284.6"/><use href="#r" x="1161.3" y="283.1"/><use href="#r" x="1104.2" y="299.4"/><use href="#r" x="1130.8" y="305.3"/><use href="#r" x="1161.3" y="302.4"/><use href="#r" x="1190.3" y="294.1"/><use href="#r" x="1196.8" y="300.8"/><use href="#r" x="1191.9" y="313.2"/><use href="#r" x="1224.4" y="189.5"/><use href="#r" x="1229.3" y="195"/><use href="#r" x="1219.5" y="199.9"/><use href="#r" x="1212.6" y="201.9"/><use href="#r" x="1212.6" y="205.8"/><use href="#r" x="1217.5" y="206.2"/><use href="#r" x="1228.9" y="207.8"/><use href="#r" x="1205.7" y="196.9"/><use href="#r" x="1198.8" y="206.2"/><use href="#r" x="1195.8" y="212.7"/><use href="#r" x="1200.7" y="214.1"/><use href="#r" x="1195.8" y="217.6"/><use href="#r" x="1180" y="215.7"/><use href="#r" x="1207.6" y="223.9"/><use href="#r" x="1231.3" y="228.5"/><use href="#r" x="1225.4" y="232"/><use href="#r" x="1206.7" y="241.9"/><use href="#r" x="1215.1" y="243.3"/><use href="#r" x="1225" y="250.1"/><use href="#r" x="1203.7" y="259"/><use href="#r" x="1211.6" y="258.6"/><use href="#r" x="1215.5" y="261"/><use href="#r" x="1202.7" y="267.3"/><use href="#r" x="1196.8" y="271.2"/><use href="#r" x="1210.6" y="273.8"/><use href="#r" x="1199.2" y="279.1"/><use href="#r" x="1195.8" y="283.6"/><use href="#r" x="1236.2" y="279.7"/><use href="#r" x="1215.5" y="289.6"/><use href="#r" x="1201.1" y="292.9"/><use href="#r" x="1214.1" y="297.4"/><use href="#r" x="1228.9" y="297.4"/><use href="#b" x="1074.6" y="190"/><use href="#b" x="1113.1" y="205.4"/><use href="#b" x="1093.7" y="224.5"/><use href="#b" x="1136.3" y="227.5"/><use href="#b" x="1092.4" y="250.5"/><use href="#b" x="1076" y="259.6"/><use href="#b" x="1121.5" y="254.1"/><use href="#b" x="1149.5" y="256.7"/><use href="#b" x="1106.2" y="289.6"/><use href="#b" x="1074" y="299.8"/><use href="#b" x="1134.1" y="291.1"/><use href="#b" x="1145.2" y="289.6"/><use href="#b" x="1145.2" y="309.9"/><use href="#b" x="1158" y="305.3"/><use href="#b" x="1167.6" y="293.9"/><use href="#b" x="1164.3" y="281.7"/><use href="#b" x="1148.5" y="273.8"/><use href="#b" x="1154.4" y="267.9"/><use href="#b" x="1171.8" y="193.4"/><use href="#b" x="1184" y="200.3"/><use href="#b" x="1194.8" y="198.9"/><use href="#b" x="1196.8" y="201.9"/><use href="#b" x="1182" y="204.8"/><use href="#b" x="1191.9" y="211.3"/><use href="#b" x="1189.9" y="217.6"/><use href="#b" x="1178.1" y="225.5"/><use href="#b" x="1169.2" y="236"/><use href="#b" x="1163.3" y="257"/><use href="#b" x="1168.2" y="260"/><use href="#b" x="1176.1" y="255.1"/><use href="#b" x="1181.6" y="258"/><use href="#b" x="1175.1" y="263.9"/><use href="#b" x="1179.1" y="267.9"/><use href="#b" x="1181" y="271.8"/><use href="#b" x="1186.9" y="271.8"/><use href="#b" x="1180" y="297.4"/><use href="#b" x="1183" y="295.5"/><use href="#b" x="1184" y="303.3"/><use href="#b" x="1171.2" y="304.9"/><use href="#b" x="1176.1" y="310.6"/><use href="#b" x="1189.9" y="308.3"/><use href="#b" x="1208.6" y="194"/><use href="#b" x="1216.1" y="193"/><use href="#b" x="1226.4" y="195"/><use href="#b" x="1233.3" y="202.9"/><use href="#b" x="1210.6" y="218.2"/><use href="#b" x="1201.7" y="223.2"/><use href="#b" x="1196.8" y="226.5"/><use href="#b" x="1207.2" y="232.8"/><use href="#b" x="1235.8" y="223"/><use href="#b" x="1194.8" y="242.9"/><use href="#b" x="1198.2" y="242.9"/><use href="#b" x="1200.7" y="257"/><use href="#b" x="1206.3" y="266.3"/><use href="#b" x="1215.1" y="264.9"/><use href="#b" x="1220.4" y="269.9"/><use href="#b" x="1210.6" y="283.6"/><use href="#b" x="1203.7" y="287.6"/><use href="#b" x="1223" y="288"/><use href="#b" x="1223.4" y="299.4"/><use href="#b" x="1221" y="308.7"/><use href="#b" x="1226.4" y="311.8"/><use href="#b" x="1211.6" y="314.2"/><use href="#r" x="1162.2" y="318.6"/><use href="#r" x="1176.1" y="315"/><use href="#r" x="1177.1" y="327.9"/><use href="#r" x="1138.4" y="336.8"/><use href="#r" x="1138.8" y="338.4"/><use href="#r" x="1079.2" y="341.4"/><use href="#r" x="1191" y="339.4"/><use href="#r" x="1222.4" y="337.2"/><use href="#r" x="1154.2" y="348.4"/><use href="#r" x="1148.3" y="352.7"/><use href="#r" x="1195" y="350.7"/><use href="#r" x="1211.8" y="346.8"/><use href="#r" x="1173.1" y="362.1"/><use href="#r" x="1186" y="359.1"/><use href="#r" x="1181.1" y="368.2"/><use href="#r" x="1207.9" y="363.3"/><use href="#r" x="1226.1" y="359.1"/><use href="#r" x="1231.7" y="359.7"/><use href="#r" x="1124.5" y="375.2"/><use href="#r" x="1135.8" y="380.5"/><use href="#r" x="1195" y="373.2"/><use href="#r" x="1193" y="381.5"/><use href="#r" x="1205.9" y="380.5"/><use href="#r" x="1180.5" y="384.1"/><use href="#r" x="1154.2" y="385.5"/><use href="#r" x="1196.3" y="388.9"/><use href="#r" x="1205.9" y="390.1"/><use href="#r" x="1211.8" y="388.1"/><use href="#r" x="1222.8" y="393"/><use href="#r" x="1056.6" y="397.4"/><use href="#r" x="1095.7" y="402.4"/><use href="#r" x="1154.2" y="399.8"/><use href="#r" x="1203.3" y="400.8"/><use href="#r" x="1202.5" y="404.4"/><use href="#r" x="1155.2" y="407.3"/><use href="#r" x="1152.3" y="416.9"/><use href="#r" x="1192" y="412.3"/><use href="#r" x="1207.9" y="418.3"/><use href="#r" x="1170.1" y="428.2"/><use href="#r" x="1176.5" y="428.2"/><use href="#r" x="1150.7" y="431.6"/><use href="#r" x="1132" y="441.1"/><use href="#r" x="1172.5" y="441.5"/><use href="#r" x="1225.7" y="447.6"/><use href="#r" x="1155.2" y="450"/><use href="#r" x="1148.7" y="453.4"/><use href="#r" x="1144.3" y="456.4"/><use href="#r" x="1178.7" y="459.4"/><use href="#r" x="1195.9" y="459"/><use href="#r" x="1196.9" y="463.5"/><use href="#r" x="1198.5" y="467.5"/><use href="#r" x="1104.6" y="472.3"/><use href="#r" x="1209.8" y="473.9"/><use href="#r" x="1228.7" y="469.9"/><use href="#r" x="1178.7" y="480.4"/><use href="#r" x="1141.7" y="487.4"/><use href="#r" x="1167.2" y="491.7"/><use href="#r" x="1170.1" y="496.1"/><use href="#r" x="1196.9" y="489.7"/><use href="#r" x="1217.8" y="491.3"/><use href="#r" x="1153.7" y="501.1"/><use href="#r" x="1106.6" y="507.6"/><use href="#r" x="1150.3" y="509.6"/><use href="#r" x="1161.6" y="510.6"/><use href="#r" x="1163.6" y="512.6"/><use href="#r" x="1183.4" y="517.1"/><use href="#r" x="1190" y="514.2"/><use href="#r" x="1226.1" y="506.2"/><use href="#r" x="1181.1" y="526.1"/><use href="#r" x="1162.2" y="530.8"/><use href="#r" x="1221.8" y="529.9"/><use href="#r" x="1062.9" y="538.4"/><use href="#b" x="1149.3" y="319.4"/><use href="#b" x="1135.8" y="326.5"/><use href="#b" x="1146.3" y="326.3"/><use href="#b" x="1122.9" y="331.9"/><use href="#b" x="1148.7" y="334.9"/><use href="#b" x="1161.2" y="338.4"/><use href="#b" x="1099" y="341.2"/><use href="#b" x="1167.2" y="327.3"/><use href="#b" x="1175.1" y="321"/><use href="#b" x="1185" y="322.5"/><use href="#b" x="1193" y="315"/><use href="#b" x="1195.6" y="325.3"/><use href="#b" x="1202.9" y="323.9"/><use href="#b" x="1207.9" y="323.9"/><use href="#b" x="1202.9" y="329.9"/><use href="#b" x="1205.9" y="333.9"/><use href="#b" x="1211.8" y="317"/><use href="#b" x="1215.8" y="318.6"/><use href="#b" x="1225.7" y="315"/><use href="#b" x="1176.1" y="331.9"/><use href="#b" x="1182" y="331.9"/><use href="#b" x="1201.5" y="344.4"/><use href="#b" x="1204.9" y="341.8"/><use href="#b" x="1207.9" y="347.2"/><use href="#b" x="1212.8" y="347.8"/><use href="#b" x="1225.3" y="345.2"/><use href="#b" x="1132" y="347.8"/><use href="#b" x="1126.4" y="349.2"/><use href="#b" x="1119.9" y="351.1"/><use href="#b" x="1177.7" y="351.3"/><use href="#b" x="1185" y="357.7"/><use href="#b" x="1202.9" y="357.3"/><use href="#b" x="1213.2" y="357.7"/><use href="#b" x="1213.8" y="360.7"/><use href="#b" x="1156.2" y="363.3"/><use href="#b" x="1185.6" y="366.2"/><use href="#b" x="1198.9" y="366.6"/><use href="#b" x="1196.9" y="370.2"/><use href="#b" x="1218.2" y="369.2"/><use href="#b" x="1224.7" y="368"/><use href="#b" x="1207.9" y="373.2"/><use href="#b" x="1159.2" y="376.6"/><use href="#b" x="1148.9" y="378.1"/><use href="#b" x="1156.2" y="381.5"/><use href="#b" x="1102.6" y="380.1"/><use href="#b" x="1130.8" y="383.5"/><use href="#b" x="1136.4" y="378.5"/><use href="#b" x="1132.8" y="389.1"/><use href="#b" x="1138.8" y="389.5"/><use href="#b" x="1175.5" y="384.5"/><use href="#b" x="1187" y="378.5"/><use href="#b" x="1191" y="375.6"/><use href="#b" x="1214.8" y="380.5"/><use href="#b" x="1222.8" y="381.9"/><use href="#b" x="1219.8" y="384.5"/><use href="#b" x="1211.2" y="384.5"/><use href="#b" x="1184" y="394.4"/><use href="#b" x="1187" y="395.4"/><use href="#b" x="1217.8" y="394.4"/><use href="#b" x="1219.8" y="400.4"/><use href="#b" x="1195.9" y="403.8"/><use href="#b" x="1146.7" y="402.8"/><use href="#b" x="1159.2" y="406.7"/><use href="#b" x="1152.3" y="408.3"/><use href="#b" x="1139.4" y="410.9"/><use href="#b" x="1109" y="412.3"/><use href="#b" x="1144.7" y="417.9"/><use href="#b" x="1177.1" y="416.7"/><use href="#b" x="1170.1" y="421.8"/><use href="#b" x="1175.1" y="426.2"/><use href="#b" x="1162.6" y="428.6"/><use href="#b" x="1160.2" y="429.6"/><use href="#b" x="1221.8" y="409.7"/><use href="#b" x="1228.1" y="412.3"/><use href="#b" x="1216.8" y="414.3"/><use href="#b" x="1212.8" y="419.2"/><use href="#b" x="1213.8" y="424.2"/><use href="#b" x="1214.8" y="429.8"/><use href="#b" x="1217.8" y="434.1"/><use href="#b" x="1218.4" y="438.5"/><use href="#b" x="1223.2" y="431.6"/><use href="#b" x="1232.3" y="434.1"/><use href="#b" x="1202.5" y="427.2"/><use href="#b" x="1193" y="432.6"/><use href="#b" x="1188.4" y="434.1"/><use href="#b" x="1205.9" y="436.1"/><use href="#b" x="1200.3" y="445.5"/><use href="#b" x="1144.3" y="440.5"/><use href="#b" x="1150.7" y="441.1"/><use href="#b" x="1150.3" y="445.5"/><use href="#b" x="1161.2" y="440.7"/><use href="#b" x="1180.7" y="442.1"/><use href="#b" x="1169.7" y="443.5"/><use href="#b" x="1137.4" y="448.4"/><use href="#b" x="1142.3" y="454"/><use href="#b" x="1174.1" y="448"/><use href="#b" x="1180.1" y="449.4"/><use href="#b" x="1173.5" y="453"/><use href="#b" x="1120.5" y="455"/><use href="#b" x="1216.8" y="455"/><use href="#b" x="1140.3" y="461.9"/><use href="#b" x="1138.8" y="468.5"/><use href="#b" x="1135.8" y="473.5"/><use href="#b" x="1113.1" y="468.9"/><use href="#b" x="1160.6" y="467.5"/><use href="#b" x="1145.9" y="476.8"/><use href="#b" x="1153.3" y="479.4"/><use href="#b" x="1161.2" y="479.8"/><use href="#b" x="1051" y="476.2"/><use href="#b" x="1181.1" y="461.9"/><use href="#b" x="1184" y="464.9"/><use href="#b" x="1175.1" y="466.9"/><use href="#b" x="1174.1" y="470.9"/><use href="#b" x="1182" y="471.9"/><use href="#b" x="1187" y="468.9"/><use href="#b" x="1199.9" y="459"/><use href="#b" x="1200.9" y="472.9"/><use href="#b" x="1203.9" y="473.9"/><use href="#b" x="1181.1" y="475.8"/><use href="#b" x="1186" y="476.8"/><use href="#b" x="1189" y="479.8"/><use href="#b" x="1195" y="478.2"/><use href="#b" x="1115.1" y="486.2"/><use href="#b" x="1122.9" y="488.4"/><use href="#b" x="1128.4" y="490.3"/><use href="#b" x="1131" y="486.2"/><use href="#b" x="1144.3" y="493.7"/><use href="#b" x="1170.1" y="485.4"/><use href="#b" x="1178.1" y="486.8"/><use href="#b" x="1189" y="488.7"/><use href="#b" x="1205.9" y="486.2"/><use href="#b" x="1219.2" y="483.8"/><use href="#b" x="1208.9" y="493.7"/><use href="#b" x="1216.8" y="493.1"/><use href="#b" x="1131.8" y="501.1"/><use href="#b" x="1134" y="506.6"/><use href="#b" x="1137.4" y="507.2"/><use href="#b" x="1141.9" y="512.2"/><use href="#b" x="1094.7" y="501.3"/><use href="#b" x="1077.4" y="512"/><use href="#b" x="1122.1" y="511"/><use href="#b" x="1105.6" y="515.6"/><use href="#b" x="1106.2" y="518.1"/><use href="#b" x="1115.5" y="524.5"/><use href="#b" x="1124.9" y="528.9"/><use href="#b" x="1178.1" y="497.7"/><use href="#b" x="1181.7" y="500.7"/><use href="#b" x="1187" y="502.6"/><use href="#b" x="1193" y="503.6"/><use href="#b" x="1176.1" y="503.6"/><use href="#b" x="1180.1" y="507.2"/><use href="#b" x="1185.6" y="508.6"/><use href="#b" x="1174.1" y="508.6"/><use href="#b" x="1175.1" y="513.2"/><use href="#b" x="1193" y="508.6"/><use href="#b" x="1198.9" y="508.6"/><use href="#b" x="1207.9" y="507.2"/><use href="#b" x="1213.8" y="510.6"/><use href="#b" x="1218.8" y="504.6"/><use href="#b" x="1165.8" y="508"/><use href="#b" x="1149.3" y="519.1"/><use href="#b" x="1202.9" y="517.5"/><use href="#b" x="1205.9" y="514.2"/><use href="#b" x="1217.8" y="517.5"/><use href="#b" x="1220.4" y="521.5"/><use href="#b" x="1135.4" y="521.5"/><use href="#b" x="1140.3" y="523.5"/><use href="#b" x="1136.4" y="529.5"/><use href="#b" x="1146.7" y="526.5"/><use href="#b" x="1153.3" y="527.1"/><use href="#b" x="1158.2" y="529.5"/><use href="#b" x="1138.8" y="532.4"/><use href="#b" x="1141.7" y="535.8"/><use href="#b" x="1153.3" y="537.4"/><use href="#b" x="1170.1" y="525.1"/><use href="#b" x="1175.1" y="523.5"/><use href="#b" x="1170.5" y="530.4"/><use href="#b" x="1176.1" y="535.4"/><use href="#b" x="1180.1" y="532.4"/><use href="#b" x="1185" y="532.4"/><use href="#b" x="1190.4" y="537.4"/><use href="#b" x="1196.9" y="530.4"/><use href="#b" x="1201.9" y="526.5"/><use href="#b" x="1207.9" y="527.5"/><use href="#b" x="1212.8" y="528.1"/><use href="#b" x="1203.9" y="532.4"/><use href="#b" x="1207.9" y="533.4"/><use href="#b" x="1217.8" y="533.4"/><use href="#b" x="1225.7" y="533.4"/><use href="#b" x="1225.3" y="538.4"/><use href="#b" x="1197.9" y="539.4"/><use href="#b" x="1204.9" y="539"/><use href="#b" x="1065.9" y="532.4"/><use href="#b" x="1058.9" y="542.4"/><use href="#b" x="1066.9" y="543"/><use href="#b" x="1079.8" y="545.3"/><use href="#b" x="1089.1" y="541"/><use href="#b" x="1093.7" y="541.4"/><use href="#b" x="1098.6" y="538.4"/><use href="#b" x="1093.1" y="545.7"/><use href="#b" x="1098.6" y="544.7"/><use href="#b" x="1108.2" y="541.8"/><use href="#b" x="1113.9" y="545.7"/><use href="#b" x="1118.9" y="545.9"/><use href="#b" x="1139.4" y="546.3"/><use href="#b" x="1141.3" y="544.7"/><use href="#b" x="1149.9" y="543.4"/><use href="#b" x="1156.2" y="543.4"/><use href="#b" x="1160.6" y="542"/><use href="#b" x="1165.2" y="545.3"/><use href="#b" x="1171.7" y="546.3"/><use href="#b" x="1174.7" y="544.3"/><use href="#b" x="1177.1" y="541.4"/><use href="#b" x="1181.1" y="544.7"/><use href="#b" x="1183" y="546.3"/><use href="#b" x="1192" y="545.9"/><use href="#b" x="1196.9" y="545.3"/><use href="#b" x="1210.4" y="545.3"/><use href="#b" x="1215.2" y="544.7"/><use href="#b" x="1220.8" y="543.4"/><use href="#b" x="1223.2" y="546.9"/><use href="#r" x="1009.2" y="86"/><use href="#r" x="1013.5" y="83.6"/><use href="#r" x="1043.7" y="83.1"/><use href="#r" x="1023.4" y="254.1"/><use href="#b" x="1012.8" y="92.9"/><use href="#b" x="1028.5" y="224.1"/><use href="#b" x="1026.4" y="237.7"/><use href="#b" x="1012.8" y="306.7"/><use href="#b" x="1003.9" y="313.2"/><use href="#b" x="1024" y="314.2"/><use href="#r" x="1040.3" y="339.2"/><use href="#b" x="1033.3" y="390.4"/><use href="#b" x="1040.9" y="396"/><use href="#b" x="1036.5" y="425.2"/><use href="#b" x="918.4" y="476.8"/><use href="#b" x="935.9" y="509.7"/></g>
<path d="M766.40 162.88H1324.50M1187.45 58.85V570.95" stroke="#000" stroke-width="4.5" stroke-dasharray="17.65 17.65" fill="none"/>
<path d="M762.10 547.60H766.40M791.60 570.95V575.25M762.10 431.30H766.40M918.48 570.95V575.25M762.10 315.00H766.40M1045.35 570.95V575.25M762.10 198.70H766.40M1172.22 570.95V575.25M762.10 82.40H766.40M1299.10 570.95V575.25" stroke="#353a3e" stroke-width="4.6" fill="none"/>
<rect x="766.40" y="58.85" width="558.10" height="512.10" fill="none" stroke="#353a3e" stroke-width="4.6" stroke-linejoin="round"/>
<text x="742.26" y="559.90" font-size="28.4" fill="#231815" textLength="14.75" lengthAdjust="spacingAndGlyphs">0</text>
<text x="785.11" y="600.20" font-size="28.4" fill="#231815" textLength="14.75" lengthAdjust="spacingAndGlyphs">0</text>
<text x="725.58" y="443.60" font-size="28.4" fill="#231815">25</text>
<text x="902.56" y="600.20" font-size="28.4" fill="#231815">25</text>
<text x="725.50" y="327.30" font-size="28.4" fill="#231815">50</text>
<text x="1029.78" y="600.20" font-size="28.4" fill="#231815">50</text>
<text x="725.58" y="211.00" font-size="28.4" fill="#231815">75</text>
<text x="1156.59" y="600.20" font-size="28.4" fill="#231815">75</text>
<text x="712.76" y="94.70" font-size="28.4" fill="#231815" textLength="44.26" lengthAdjust="spacingAndGlyphs">100</text>
<text x="1275.57" y="600.20" font-size="28.4" fill="#231815" textLength="44.26" lengthAdjust="spacingAndGlyphs">100</text>
<text x="700.90" y="560.14" transform="rotate(-90 700.90 560.14)" font-size="27.1" fill="#000">clinic−RadmC score (cutoff value=82.7)</text>
<text x="872.06" y="632.80" font-size="27.1" fill="#231815" textLength="386.93" lengthAdjust="spacingAndGlyphs">clinical score (cutoff value=78.0)</text>
<circle cx="870.35" cy="36.65" r="9.8" fill="#df202e" stroke="#231815" stroke-width="1"/>
<circle cx="1119.8" cy="36.65" r="9.8" fill="#2a74ae" stroke="#231815" stroke-width="1"/>
<text x="908.30" y="44.40" font-size="24.5" fill="#000" textLength="105.87" lengthAdjust="spacingAndGlyphs">Malignant</text>
<text x="1157.27" y="44.40" font-size="24.5" fill="#000" textLength="76.90" lengthAdjust="spacingAndGlyphs">Benign</text>
<text x="784.47" y="102.90" font-size="33.4" fill="#231815" textLength="66.94" lengthAdjust="spacingAndGlyphs">202*</text>
<text x="1251.58" y="547.60" font-size="33.4" fill="#231815" textLength="36.19" lengthAdjust="spacingAndGlyphs">48</text>
<text x="1289.71" y="538.30" font-size="22.8" fill="#231815">#</text>
</g>
<g id="panelC">
<text x="1406.12" y="28.30" font-size="39" fill="#000" font-weight="bold" textLength="26.06" lengthAdjust="spacingAndGlyphs">C</text>
<g stroke="#231815" stroke-width="1"><use href="#r" x="1788.3" y="119.2"/><use href="#r" x="1885.6" y="82.9"/><use href="#r" x="1881.3" y="87.4"/><use href="#b" x="1812" y="89.5"/><use href="#r" x="1898.8" y="108.6"/><use href="#r" x="1921.5" y="87.8"/><use href="#r" x="1787.9" y="117.2"/><use href="#r" x="1816" y="161"/><use href="#r" x="1772.3" y="130"/><use href="#r" x="1873.1" y="120.8"/><use href="#r" x="1874.2" y="84.9"/><use href="#r" x="1829" y="99.5"/><use href="#r" x="1847.3" y="85"/><use href="#r" x="1833.8" y="135.8"/><use href="#r" x="1866.5" y="90.3"/><use href="#r" x="1852.4" y="96.1"/><use href="#r" x="1871.1" y="148.9"/><use href="#r" x="1901.4" y="86.7"/><use href="#r" x="1827.6" y="101.5"/><use href="#r" x="1881.9" y="115.3"/><use href="#r" x="1888.8" y="117.2"/><use href="#r" x="1815" y="108.9"/><use href="#r" x="1802.9" y="107.6"/><use href="#r" x="1885.2" y="130.3"/><use href="#r" x="1802.8" y="120.9"/><use href="#r" x="1821.6" y="140.6"/><use href="#r" x="1827.3" y="115.2"/><use href="#r" x="1834.5" y="87.5"/><use href="#r" x="1859" y="135.2"/><use href="#r" x="1883.2" y="89.1"/><use href="#r" x="1825.8" y="91.1"/><use href="#r" x="1933.6" y="85.6"/><use href="#r" x="1854" y="86.3"/><use href="#r" x="1811.7" y="85.1"/><use href="#r" x="1882" y="91.5"/><use href="#r" x="1897.8" y="99.1"/><use href="#r" x="1903.4" y="96.2"/><use href="#r" x="1882.5" y="97.6"/><use href="#r" x="1896.5" y="98.6"/><use href="#r" x="1825" y="167.5"/><use href="#r" x="1853.4" y="85.8"/><use href="#r" x="1867.3" y="86.5"/><use href="#r" x="1867.1" y="122.4"/><use href="#r" x="1874.7" y="110.4"/><use href="#r" x="1870.3" y="103.5"/><use href="#r" x="1881.6" y="113.5"/><use href="#r" x="1838.5" y="105.1"/><use href="#r" x="1853.6" y="92.3"/><use href="#r" x="1864.4" y="96.4"/><use href="#r" x="1858.7" y="85.8"/><use href="#r" x="1829.6" y="109.1"/><use href="#r" x="1860.6" y="86.5"/><use href="#r" x="1957.6" y="81.9"/><use href="#r" x="1902.3" y="91.3"/><use href="#r" x="1873.9" y="111.4"/><use href="#r" x="1854.3" y="116"/><use href="#r" x="1830" y="101.8"/><use href="#r" x="1850.9" y="105.1"/><use href="#r" x="1830.8" y="87.3"/><use href="#r" x="1892.9" y="81.7"/><use href="#r" x="1884.8" y="120.2"/><use href="#b" x="1844.6" y="113.9"/><use href="#r" x="1788.8" y="146.4"/><use href="#r" x="1878.4" y="91.7"/><use href="#r" x="1898.2" y="83.8"/><use href="#r" x="1870.6" y="91.1"/><use href="#r" x="1911.5" y="91.1"/><use href="#r" x="1863.1" y="114.5"/><use href="#r" x="1855.8" y="123.2"/><use href="#r" x="1856.6" y="117.3"/><use href="#r" x="1783.6" y="123.1"/><use href="#r" x="1857" y="111.1"/><use href="#r" x="1901.5" y="83.1"/><use href="#r" x="1812.5" y="116.3"/><use href="#r" x="1859.5" y="109.1"/><use href="#r" x="1860.6" y="106.8"/><use href="#r" x="1856" y="128.7"/><use href="#r" x="1951.2" y="81.8"/><use href="#r" x="1894.6" y="127.5"/><use href="#r" x="1851.9" y="137.3"/><use href="#r" x="1884.7" y="114.1"/><use href="#r" x="1787.6" y="112.2"/><use href="#r" x="1815.2" y="84.2"/><use href="#r" x="1885.4" y="111.9"/><use href="#r" x="1871.3" y="102.4"/><use href="#r" x="1863.5" y="109"/><use href="#r" x="1863.3" y="110.5"/><use href="#r" x="1843.5" y="81.5"/><use href="#r" x="1870.6" y="111.8"/><use href="#r" x="1847.5" y="114.3"/><use href="#r" x="1856.7" y="121.5"/><use href="#r" x="1805.4" y="106.2"/><use href="#r" x="1869.8" y="90.8"/><use href="#r" x="1891" y="92.5"/><use href="#r" x="1935.4" y="85"/><use href="#r" x="1808.4" y="144.7"/><use href="#b" x="1893.5" y="130.5"/><use href="#r" x="1858" y="116.1"/><use href="#r" x="1768.8" y="130.4"/><use href="#r" x="1912.2" y="86.3"/><use href="#r" x="1876.1" y="111.1"/><use href="#r" x="1894.8" y="109"/><use href="#r" x="1868.8" y="98.3"/><use href="#r" x="1845.8" y="149.6"/><use href="#r" x="1803" y="88.5"/><use href="#r" x="1804.1" y="105"/><use href="#r" x="1781.9" y="135.6"/><use href="#r" x="1947.2" y="81.9"/><use href="#r" x="1840.6" y="108.8"/><use href="#b" x="1846" y="129"/><use href="#r" x="1849.3" y="124.6"/><use href="#r" x="1809.8" y="98.8"/><use href="#r" x="1862.6" y="149.7"/><use href="#r" x="1791" y="93.9"/><use href="#r" x="1899.2" y="84.4"/><use href="#r" x="1834" y="82.2"/><use href="#r" x="1866.2" y="151.2"/><use href="#b" x="1852.1" y="129.6"/><use href="#r" x="1814.6" y="165.4"/><use href="#r" x="1928.5" y="82.8"/><use href="#r" x="1851" y="162.6"/><use href="#r" x="1839.5" y="86.6"/><use href="#r" x="1891.9" y="128.6"/><use href="#b" x="1881.4" y="118.9"/><use href="#r" x="1877.2" y="170.8"/><use href="#r" x="1951.5" y="81.4"/><use href="#r" x="1864.4" y="83.4"/><use href="#r" x="1819.1" y="159.7"/><use href="#r" x="1822.6" y="81.9"/><use href="#r" x="1777.5" y="170.4"/><use href="#r" x="1871" y="97.9"/><use href="#b" x="1838" y="138.9"/><use href="#r" x="1857.3" y="144.7"/><use href="#r" x="1836.1" y="134"/><use href="#r" x="1794.4" y="115"/><use href="#b" x="1836.3" y="164.2"/><use href="#r" x="1836.6" y="122.3"/><use href="#r" x="1854.2" y="105"/><use href="#r" x="1775.9" y="104.4"/><use href="#r" x="1875.4" y="127.7"/><use href="#r" x="1830" y="81.6"/><use href="#r" x="1925.1" y="104.2"/><use href="#r" x="1850.9" y="97.9"/><use href="#r" x="1808.8" y="131.6"/><use href="#r" x="1782.6" y="123.4"/><use href="#r" x="1888.9" y="122.2"/><use href="#r" x="1825.1" y="155.8"/><use href="#b" x="1819.5" y="157.2"/><use href="#r" x="1874.5" y="81.8"/><use href="#r" x="1843.9" y="117.4"/><use href="#r" x="1769" y="113.1"/><use href="#r" x="1802.4" y="97.1"/><use href="#r" x="1770.2" y="120.9"/><use href="#r" x="1879.7" y="106"/><use href="#r" x="1832" y="107.4"/><use href="#r" x="1890.5" y="159.7"/><use href="#r" x="1863.8" y="89"/><use href="#r" x="1803" y="106.9"/><use href="#r" x="1819.1" y="108.1"/><use href="#r" x="1877.2" y="115.2"/><use href="#r" x="1844.6" y="131.4"/><use href="#r" x="1872.7" y="102.3"/><use href="#r" x="1850.2" y="102.6"/><use href="#b" x="1827.5" y="142.9"/><use href="#r" x="1897.3" y="87.3"/><use href="#r" x="1889.6" y="110.5"/><use href="#r" x="1836.6" y="139.7"/><use href="#r" x="1855.3" y="101.2"/><use href="#r" x="1795.1" y="136.2"/><use href="#r" x="1858.9" y="96.7"/><use href="#r" x="1877.5" y="81.7"/><use href="#r" x="1895.1" y="90.8"/><use href="#r" x="1816.7" y="126.1"/><use href="#r" x="1894" y="87.2"/><use href="#r" x="1806.6" y="107.3"/><use href="#r" x="1868.1" y="137.2"/><use href="#r" x="1831" y="114.5"/><use href="#r" x="1826.4" y="84.3"/><use href="#r" x="1844.6" y="101.4"/><use href="#r" x="1813.3" y="109.3"/><use href="#r" x="1793.4" y="134.3"/><use href="#b" x="1817.6" y="135.9"/><use href="#r" x="1796.8" y="87.5"/><use href="#r" x="1912.9" y="95.4"/><use href="#r" x="1899.5" y="121.3"/><use href="#r" x="1860.1" y="81.1"/><use href="#r" x="1860.1" y="115.3"/><use href="#r" x="1849.6" y="126.1"/><use href="#r" x="1823" y="103.7"/><use href="#r" x="1806.1" y="116.9"/><use href="#r" x="1828.1" y="120.8"/><use href="#r" x="1823.4" y="92.7"/><use href="#r" x="1844.2" y="126.7"/><use href="#r" x="1899" y="117.4"/><use href="#r" x="1836.8" y="146.9"/><use href="#r" x="1848.9" y="95"/><use href="#r" x="1834.2" y="118.7"/><use href="#r" x="1894.9" y="119.1"/><use href="#r" x="1868.8" y="117"/><use href="#r" x="1847.3" y="133.4"/><use href="#b" x="1793.7" y="123"/><use href="#r" x="1880.1" y="131.7"/><use href="#r" x="1865.2" y="81.1"/><use href="#r" x="1808.3" y="97.8"/><use href="#r" x="1906.3" y="95.2"/><use href="#r" x="1887.9" y="112.1"/><use href="#r" x="1845.4" y="84.4"/><use href="#r" x="1832.2" y="111.5"/><use href="#r" x="1846.5" y="103.5"/><use href="#r" x="1809.9" y="96.3"/><use href="#r" x="1911.4" y="83.8"/><use href="#r" x="1837.8" y="81.1"/><use href="#r" x="1866.8" y="96"/><use href="#r" x="1863.4" y="82.1"/><use href="#r" x="1890.2" y="121.2"/><use href="#r" x="1896.5" y="87.4"/><use href="#r" x="1918.9" y="93.3"/><use href="#r" x="1975.3" y="80"/><use href="#r" x="1786.5" y="125.3"/><use href="#r" x="1891.4" y="106.2"/><use href="#r" x="1873.8" y="88.7"/><use href="#r" x="1799.7" y="94.2"/><use href="#r" x="1884.9" y="144"/><use href="#r" x="1863.1" y="123"/><use href="#r" x="1819.3" y="105.1"/><use href="#r" x="1793.5" y="163.5"/><use href="#r" x="1952" y="83.3"/><use href="#r" x="1836.6" y="123.7"/><use href="#r" x="1777.4" y="121.4"/><use href="#r" x="1885.3" y="84"/><use href="#r" x="1880.6" y="87.8"/><use href="#r" x="1839.8" y="128.4"/><use href="#r" x="1900.6" y="88.9"/><use href="#r" x="1784.1" y="151.4"/><use href="#r" x="1850.3" y="112.1"/><use href="#r" x="1817.1" y="111"/><use href="#r" x="1872" y="129.9"/><use href="#r" x="1810" y="110.1"/><use href="#r" x="1809.9" y="113.4"/><use href="#r" x="1832.4" y="114.8"/><use href="#r" x="1864.1" y="101.7"/><use href="#r" x="1779.4" y="96.1"/><use href="#r" x="1853.6" y="104.5"/><use href="#r" x="1889.1" y="147.3"/><use href="#r" x="1801" y="148.5"/><use href="#r" x="1850" y="119.1"/><use href="#r" x="1827.5" y="124.1"/><use href="#r" x="1794.7" y="110.5"/><use href="#r" x="1936" y="82.9"/><use href="#r" x="1776.1" y="119.8"/><use href="#r" x="1887.7" y="140.9"/><use href="#r" x="1895.6" y="97.8"/><use href="#r" x="1813.3" y="107"/><use href="#r" x="1858.2" y="128.6"/><use href="#r" x="1899.9" y="90.5"/><use href="#r" x="1909.6" y="85.5"/><use href="#r" x="1895.3" y="91.5"/><use href="#r" x="1875.2" y="122.8"/><use href="#r" x="1912" y="86"/><use href="#r" x="1871.4" y="121"/><use href="#r" x="1855.3" y="136.2"/><use href="#r" x="1848.6" y="89.3"/><use href="#r" x="1832.1" y="130.4"/><use href="#r" x="1869.7" y="85.8"/><use href="#r" x="1915" y="88.8"/><use href="#r" x="1887.4" y="87.1"/><use href="#r" x="1848.9" y="84.9"/><use href="#r" x="1859.9" y="132.8"/><use href="#r" x="1821.1" y="97.8"/><use href="#r" x="1899.5" y="94.1"/><use href="#r" x="1869.9" y="93.7"/><use href="#r" x="1894" y="159.8"/><use href="#r" x="1861" y="141.3"/><use href="#r" x="1885.9" y="100.3"/><use href="#r" x="1871" y="109.4"/><use href="#r" x="1832.9" y="109.5"/><use href="#r" x="1886.9" y="83.3"/><use href="#r" x="1796.2" y="136.9"/><use href="#r" x="1885.9" y="84.8"/><use href="#r" x="1793" y="130.3"/><use href="#r" x="1928.2" y="81.7"/><use href="#r" x="1883.9" y="85.8"/><use href="#r" x="1875.6" y="101.7"/><use href="#r" x="1845.2" y="121"/><use href="#b" x="1792.2" y="175"/><use href="#r" x="1807.3" y="102"/><use href="#r" x="1817" y="103.2"/><use href="#r" x="1903" y="114.4"/><use href="#r" x="1882.7" y="100.7"/><use href="#r" x="1888.2" y="105.8"/><use href="#r" x="1805.8" y="99.1"/><use href="#r" x="1837.8" y="118.9"/><use href="#r" x="1841.7" y="109.7"/><use href="#r" x="1907.6" y="81.6"/><use href="#r" x="1943.4" y="81.2"/><use href="#r" x="1785.3" y="115.3"/><use href="#r" x="1926.3" y="87"/><use href="#b" x="1851.8" y="119.5"/><use href="#r" x="1888.8" y="135.5"/><use href="#r" x="1864.7" y="105.9"/><use href="#r" x="1883.3" y="82.6"/><use href="#b" x="1894.8" y="122.2"/><use href="#r" x="1851.8" y="109.1"/><use href="#r" x="1766.7" y="122.4"/><use href="#r" x="1802.4" y="87.1"/><use href="#r" x="1845.3" y="159"/><use href="#r" x="1879.6" y="131.5"/><use href="#r" x="1915.4" y="83.4"/><use href="#r" x="1828.9" y="94.4"/><use href="#r" x="1860.8" y="94.6"/><use href="#r" x="1878.6" y="95.8"/><use href="#r" x="1842.3" y="102.5"/><use href="#b" x="1803.5" y="132"/><use href="#r" x="1823.9" y="83.7"/><use href="#r" x="1770.6" y="125.3"/><use href="#r" x="1854.5" y="91"/><use href="#r" x="1877.3" y="96.4"/><use href="#r" x="1855.8" y="152.8"/><use href="#r" x="1910.8" y="91.3"/><use href="#r" x="1795.4" y="131.3"/><use href="#r" x="1778.2" y="120.4"/><use href="#r" x="1861.2" y="87.2"/><use href="#r" x="1825.8" y="112.9"/><use href="#r" x="1779.3" y="143.7"/><use href="#r" x="1890.5" y="104.8"/><use href="#r" x="1818.4" y="100"/><use href="#r" x="1830.7" y="95.7"/><use href="#r" x="1849" y="101.4"/><use href="#r" x="1793.7" y="154.6"/><use href="#r" x="1847.3" y="145.3"/><use href="#r" x="1877.2" y="102.3"/><use href="#b" x="1881" y="105.2"/><use href="#r" x="1883.3" y="99.3"/><use href="#r" x="1884.8" y="139.9"/><use href="#r" x="1795.5" y="99.4"/><use href="#r" x="1808.7" y="139.1"/><use href="#r" x="1769.6" y="103.7"/><use href="#r" x="1788.5" y="102"/><use href="#r" x="1873.7" y="124.2"/><use href="#r" x="1925.6" y="125.2"/><use href="#r" x="1836.9" y="114.6"/><use href="#r" x="1900.4" y="81.4"/><use href="#r" x="1767.8" y="95.8"/><use href="#r" x="1820.5" y="127.7"/><use href="#r" x="1868.7" y="136.8"/><use href="#r" x="1906.2" y="83.3"/><use href="#r" x="1890.7" y="121"/><use href="#r" x="1924.9" y="91"/><use href="#r" x="1818.6" y="113.3"/><use href="#r" x="1816.2" y="88.2"/><use href="#r" x="1873.5" y="107.6"/><use href="#r" x="1854.6" y="105.6"/><use href="#r" x="1880.3" y="121"/><use href="#b" x="1873.8" y="165.7"/><use href="#r" x="1820.2" y="120.5"/><use href="#r" x="1819.6" y="85.6"/><use href="#r" x="1895.8" y="128"/><use href="#r" x="1826.8" y="92.8"/><use href="#r" x="1858.7" y="145.7"/><use href="#r" x="1843" y="88.1"/><use href="#r" x="1786.1" y="111.7"/><use href="#b" x="1844.4" y="111.2"/><use href="#b" x="1796.7" y="160"/><use href="#r" x="1919.8" y="83.5"/><use href="#b" x="1792.2" y="90.5"/><use href="#r" x="1822.9" y="109"/><use href="#r" x="1795.8" y="126.3"/><use href="#r" x="1819.9" y="124"/><use href="#r" x="1878.4" y="113.9"/><use href="#r" x="1869.4" y="98.8"/><use href="#r" x="1837.1" y="83.5"/><use href="#r" x="1904.2" y="80.8"/><use href="#r" x="1819.3" y="99"/><use href="#r" x="1878.9" y="107.7"/><use href="#r" x="1922.2" y="86.6"/><use href="#r" x="1865.7" y="149.6"/><use href="#r" x="1943.6" y="84.1"/><use href="#r" x="1821.8" y="119.8"/><use href="#r" x="1822.2" y="111.3"/><use href="#r" x="1780.6" y="129.1"/><use href="#r" x="1852.7" y="110.1"/><use href="#r" x="1865.3" y="134.4"/><use href="#r" x="1817.5" y="84.7"/><use href="#r" x="1851" y="103.9"/><use href="#r" x="1840.7" y="105.2"/><use href="#r" x="1851.4" y="92.8"/><use href="#r" x="1841.9" y="97.4"/><use href="#r" x="1861.9" y="108.5"/><use href="#r" x="1889.3" y="85.5"/><use href="#r" x="1851.3" y="81.9"/><use href="#r" x="1888.5" y="82.9"/><use href="#r" x="1811.9" y="115.4"/><use href="#r" x="1885.9" y="133.6"/><use href="#r" x="1849.2" y="88.1"/><use href="#r" x="1832.9" y="122.4"/><use href="#r" x="1828.4" y="86.4"/><use href="#r" x="1836.9" y="112.1"/><use href="#r" x="1848.5" y="88.7"/><use href="#r" x="1873.3" y="92.5"/><use href="#r" x="1794.3" y="93.4"/><use href="#r" x="1838.8" y="89"/><use href="#r" x="1807.2" y="113.6"/><use href="#r" x="1822.6" y="131.1"/><use href="#r" x="1852.3" y="153"/><use href="#r" x="1818.5" y="107.3"/><use href="#r" x="1905" y="87"/><use href="#r" x="1880.4" y="89.3"/><use href="#r" x="1803.3" y="133"/><use href="#r" x="1769.3" y="128.3"/><use href="#r" x="1798.5" y="118.5"/><use href="#r" x="1821.1" y="106.2"/><use href="#r" x="1928.5" y="83.5"/><use href="#r" x="1848.6" y="82.5"/><use href="#r" x="1880.9" y="91.9"/><use href="#r" x="1885.8" y="84.2"/><use href="#r" x="1851" y="90.7"/><use href="#r" x="1831.4" y="96"/><use href="#r" x="1843.8" y="98"/><use href="#r" x="1786.6" y="99.4"/><use href="#r" x="1895.6" y="116.5"/><use href="#r" x="1785" y="108.3"/><use href="#r" x="1800.1" y="92.7"/><use href="#r" x="1843.3" y="138.7"/><use href="#r" x="1901.4" y="92.2"/><use href="#r" x="1832.4" y="110.2"/><use href="#r" x="1895.4" y="92.9"/><use href="#r" x="1883.1" y="104.2"/><use href="#r" x="1873" y="162.7"/><use href="#r" x="1811" y="169.2"/><use href="#r" x="1874.9" y="114.8"/><use href="#r" x="1873.7" y="148.5"/><use href="#r" x="1806" y="94.9"/><use href="#r" x="1917.4" y="80.8"/><use href="#r" x="1940.9" y="82.8"/><use href="#r" x="1878.7" y="108.2"/><use href="#r" x="1774.8" y="140.4"/><use href="#r" x="1876.2" y="89"/><use href="#r" x="1846.8" y="101.8"/><use href="#r" x="1799.9" y="103.3"/><use href="#r" x="1861.9" y="170.8"/><use href="#r" x="1868.7" y="172.6"/><use href="#r" x="1865.1" y="137"/><use href="#r" x="1807" y="156.2"/><use href="#r" x="1871.7" y="93.4"/><use href="#r" x="1842.1" y="120.2"/><use href="#r" x="1831.7" y="122.3"/><use href="#r" x="1892.7" y="111.9"/><use href="#r" x="1918.4" y="84.7"/><use href="#r" x="1852.5" y="127.9"/><use href="#r" x="1789.8" y="99.3"/><use href="#r" x="1842.8" y="97"/><use href="#r" x="1907.7" y="103.1"/><use href="#r" x="1869.4" y="92.8"/><use href="#r" x="1888.8" y="81.4"/><use href="#r" x="1806.8" y="166.1"/><use href="#r" x="1823.9" y="124.4"/><use href="#r" x="1776.9" y="99.1"/><use href="#r" x="1793.3" y="107.2"/><use href="#r" x="1773.8" y="108.9"/><use href="#r" x="1909.6" y="88.2"/><use href="#r" x="1900.7" y="93.8"/><use href="#r" x="1886.8" y="82.9"/><use href="#r" x="1872.2" y="91.8"/><use href="#r" x="1893.6" y="135.8"/><use href="#r" x="1822.4" y="83.8"/><use href="#r" x="1831.2" y="107.7"/><use href="#r" x="1838.2" y="92.8"/><use href="#r" x="1908.7" y="103.7"/><use href="#r" x="1869.5" y="97.3"/><use href="#r" x="1882.4" y="84"/><use href="#r" x="1783.4" y="115.8"/><use href="#r" x="1869.5" y="153.9"/><use href="#r" x="1904.3" y="100.1"/><use href="#r" x="1864.3" y="132.6"/><use href="#r" x="1881.9" y="86.6"/><use href="#r" x="1822.2" y="107.3"/><use href="#r" x="1800.3" y="103.9"/><use href="#r" x="1768.3" y="166.2"/><use href="#r" x="1892.3" y="91.5"/><use href="#r" x="1833.1" y="129.6"/><use href="#r" x="1889.2" y="104"/><use href="#r" x="1843.6" y="132.9"/><use href="#r" x="1848" y="103.9"/><use href="#r" x="1858.7" y="132.9"/><use href="#r" x="1810.5" y="122.6"/><use href="#r" x="1815.4" y="131.7"/><use href="#r" x="1823" y="83.9"/><use href="#b" x="1878.9" y="99.1"/><use href="#r" x="1844.4" y="82.1"/><use href="#r" x="1842.6" y="115.3"/><use href="#r" x="1838.3" y="134.3"/><use href="#r" x="1778.8" y="106.3"/><use href="#r" x="1786" y="99.1"/><use href="#r" x="1823.4" y="87.6"/><use href="#b" x="1814.8" y="137.7"/><use href="#r" x="1878.1" y="100.7"/><use href="#r" x="1813.9" y="107.5"/><use href="#r" x="1895.8" y="120.5"/><use href="#r" x="1789.5" y="132.3"/><use href="#r" x="1832.9" y="88.3"/><use href="#r" x="1856.4" y="102.3"/><use href="#r" x="1792.7" y="109.3"/><use href="#r" x="1861.8" y="142.8"/><use href="#r" x="1824.5" y="94"/><use href="#r" x="1879.7" y="114"/><use href="#r" x="1855.5" y="109.5"/><use href="#r" x="1832.9" y="138"/><use href="#r" x="1906.1" y="96.7"/><use href="#r" x="1914.9" y="89.2"/><use href="#r" x="1860.3" y="95.1"/><use href="#r" x="1792.6" y="101.7"/><use href="#r" x="1837.6" y="96.9"/><use href="#r" x="1845.1" y="127"/><use href="#r" x="1872.5" y="84.8"/><use href="#r" x="1835.9" y="150.1"/><use href="#r" x="1850" y="89.8"/><use href="#r" x="1918.1" y="86.8"/><use href="#r" x="1810.2" y="134.9"/><use href="#r" x="1858.1" y="112.9"/><use href="#r" x="1870.6" y="85.3"/><use href="#r" x="1873.1" y="109.7"/><use href="#r" x="1888.8" y="85.9"/><use href="#r" x="1835.6" y="88.3"/><use href="#r" x="1835.4" y="103.7"/><use href="#r" x="1871.4" y="122.5"/><use href="#r" x="1819.3" y="132.8"/><use href="#b" x="1953" y="95.4"/><use href="#r" x="1784.4" y="109.7"/><use href="#r" x="1845.7" y="101.1"/><use href="#r" x="1869.9" y="87.3"/><use href="#r" x="1774.4" y="132.6"/><use href="#r" x="1797.7" y="171.2"/><use href="#r" x="1851.5" y="96"/><use href="#r" x="1804.5" y="120.5"/><use href="#r" x="1829.3" y="116.8"/><use href="#r" x="1912.9" y="82.2"/><use href="#r" x="1822.4" y="82.6"/><use href="#r" x="1830.7" y="101"/><use href="#r" x="1892.5" y="134.1"/><use href="#r" x="1868.7" y="126.1"/><use href="#r" x="1847.2" y="113.9"/><use href="#r" x="1849.6" y="85.7"/><use href="#r" x="1850.3" y="88.8"/><use href="#r" x="1840" y="100.6"/><use href="#r" x="1867.5" y="89.4"/><use href="#r" x="1887.7" y="135.2"/><use href="#r" x="1894.6" y="162.2"/><use href="#r" x="1823.4" y="120.6"/><use href="#r" x="1816.2" y="127.5"/><use href="#r" x="1954.6" y="81.6"/><use href="#r" x="1896" y="103"/><use href="#r" x="1872.5" y="97.5"/><use href="#r" x="1818.4" y="100.4"/><use href="#r" x="1832.8" y="140.3"/><use href="#r" x="1815.9" y="126.2"/><use href="#r" x="1861.5" y="142.1"/><use href="#r" x="1856.1" y="108.4"/><use href="#r" x="1875.4" y="90.5"/><use href="#r" x="1924" y="85.6"/><use href="#r" x="1773.4" y="109.4"/><use href="#r" x="1772.9" y="152.2"/><use href="#r" x="1863.1" y="83.8"/><use href="#r" x="1811.5" y="102.5"/><use href="#r" x="1818.4" y="105.9"/><use href="#r" x="1865.8" y="110.8"/><use href="#r" x="1822.6" y="114.2"/><use href="#r" x="1872" y="94.7"/><use href="#r" x="1830.3" y="111.2"/><use href="#r" x="1833" y="109.3"/><use href="#r" x="1809.3" y="93.3"/><use href="#r" x="1887.4" y="82"/><use href="#r" x="1868.5" y="132.7"/><use href="#r" x="1832.3" y="99.4"/><use href="#r" x="1820.2" y="116.4"/><use href="#r" x="1844.1" y="101"/><use href="#r" x="1912.4" y="94.4"/><use href="#r" x="1771.5" y="124.3"/><use href="#r" x="1821.4" y="95.8"/><use href="#r" x="1867.4" y="100.1"/><use href="#b" x="1825.9" y="126.2"/><use href="#r" x="1846.8" y="89.1"/><use href="#r" x="1792.6" y="114"/><use href="#r" x="1889.3" y="126"/><use href="#r" x="1922.2" y="84.6"/><use href="#r" x="1836.8" y="99.7"/><use href="#r" x="1846.2" y="109.6"/><use href="#r" x="1868.1" y="133.8"/><use href="#r" x="1866.2" y="116.8"/><use href="#r" x="1856.6" y="107.9"/><use href="#r" x="1823.7" y="166.2"/><use href="#r" x="1897.7" y="117.6"/><use href="#r" x="1861.2" y="136.8"/><use href="#r" x="1889.9" y="110.3"/><use href="#b" x="1887.9" y="123"/><use href="#r" x="1820.9" y="92"/><use href="#r" x="1849.5" y="108.2"/><use href="#r" x="1875.7" y="93.6"/><use href="#r" x="1803.5" y="126.3"/><use href="#r" x="1856.9" y="100.3"/><use href="#r" x="1878.4" y="108.3"/><use href="#r" x="1877.8" y="82.9"/><use href="#r" x="1887.5" y="129.7"/><use href="#r" x="1854" y="124.7"/><use href="#r" x="1843.8" y="101.8"/><use href="#r" x="1880.1" y="99.8"/><use href="#r" x="1818" y="121.6"/><use href="#r" x="1822.7" y="117.7"/><use href="#r" x="1885.3" y="127.1"/><use href="#r" x="1818.3" y="84"/><use href="#r" x="1854.9" y="85"/><use href="#r" x="1814.5" y="111.5"/><use href="#r" x="1772.5" y="92.5"/><use href="#r" x="1819.5" y="90.8"/><use href="#r" x="1881" y="81.7"/><use href="#r" x="1800.3" y="122.1"/><use href="#r" x="1881.6" y="93.8"/><use href="#r" x="1844.3" y="118.5"/><use href="#r" x="1860.5" y="153.8"/><use href="#r" x="1784.2" y="110.1"/><use href="#r" x="1859.1" y="86.2"/><use href="#r" x="1854.5" y="83.9"/><use href="#r" x="1884.5" y="92.2"/><use href="#r" x="1798.4" y="93.5"/><use href="#r" x="1788.2" y="108.3"/><use href="#r" x="1874.4" y="137.8"/><use href="#r" x="1838.8" y="81.6"/><use href="#r" x="1823.7" y="92.2"/><use href="#r" x="1867.9" y="127"/><use href="#r" x="1886" y="81.5"/><use href="#r" x="1865.8" y="163"/><use href="#r" x="1839" y="167.8"/><use href="#r" x="1882.9" y="118.6"/><use href="#r" x="1859.5" y="132.3"/><use href="#r" x="1831.5" y="81.4"/><use href="#r" x="1834.7" y="159.3"/><use href="#r" x="1772" y="140"/><use href="#r" x="1877.6" y="84.1"/><use href="#r" x="1971.8" y="87.5"/><use href="#r" x="1871.9" y="109.9"/><use href="#r" x="1879.6" y="106.8"/><use href="#r" x="1925.2" y="81"/><use href="#r" x="1845.7" y="108.8"/><use href="#r" x="1766.3" y="130.1"/><use href="#r" x="1861.1" y="80.9"/><use href="#r" x="1957.6" y="81"/><use href="#r" x="1843.2" y="148"/><use href="#r" x="1886.5" y="135.5"/><use href="#r" x="1888.7" y="97.2"/><use href="#r" x="1923.4" y="82"/><use href="#r" x="1864.9" y="108.6"/><use href="#r" x="1855.7" y="146.6"/><use href="#r" x="1846.3" y="151.2"/><use href="#b" x="1822.3" y="84.9"/><use href="#r" x="1879.2" y="83.3"/><use href="#b" x="1886.7" y="103"/><use href="#r" x="1872.7" y="93.8"/><use href="#r" x="1821" y="128"/><use href="#r" x="1862.3" y="108.9"/><use href="#r" x="1906.6" y="93.7"/><use href="#r" x="1805.1" y="105.8"/><use href="#r" x="1891.5" y="83.9"/><use href="#r" x="1845.1" y="103.3"/><use href="#r" x="1937" y="82.4"/><use href="#r" x="1809.2" y="131.2"/><use href="#r" x="1783.2" y="129.7"/><use href="#r" x="1880.5" y="104.8"/><use href="#r" x="1882.2" y="88.3"/><use href="#r" x="1890.1" y="93.4"/><use href="#r" x="1782.5" y="123.3"/><use href="#r" x="1857.6" y="90.9"/><use href="#r" x="1886.9" y="89"/><use href="#r" x="1882.8" y="109.2"/><use href="#r" x="1882.8" y="93.8"/><use href="#r" x="1796.1" y="94.8"/><use href="#r" x="1850.5" y="90"/><use href="#r" x="1777.7" y="143.8"/><use href="#r" x="1810" y="99.1"/><use href="#r" x="1906.1" y="81.9"/><use href="#r" x="1871.3" y="104.7"/><use href="#r" x="1767.1" y="137.9"/><use href="#r" x="1850" y="118.3"/><use href="#r" x="1881" y="93"/><use href="#r" x="1855.1" y="165.2"/><use href="#r" x="1860.3" y="101.1"/><use href="#r" x="1856.2" y="114.3"/><use href="#r" x="1855.3" y="91.6"/><use href="#r" x="1880.9" y="160.3"/><use href="#r" x="1864.6" y="109.6"/><use href="#r" x="1806.2" y="123"/><use href="#r" x="1884.6" y="83.4"/><use href="#r" x="1819.9" y="109.7"/><use href="#r" x="1875" y="92.6"/><use href="#r" x="1852.9" y="123.7"/><use href="#r" x="1793.8" y="94.9"/><use href="#r" x="1856.2" y="136.3"/><use href="#r" x="1872.7" y="90.2"/><use href="#r" x="1854.7" y="119.6"/><use href="#b" x="1845.9" y="166.6"/><use href="#r" x="1874.3" y="82.3"/><use href="#r" x="1522" y="336.1"/><use href="#r" x="1570.5" y="335.2"/><use href="#r" x="1597.4" y="326.4"/><use href="#r" x="1644.3" y="336.3"/><use href="#r" x="1669.5" y="338.3"/><use href="#r" x="1712" y="312"/><use href="#r" x="1622.6" y="356.5"/><use href="#r" x="1734.4" y="350.6"/><use href="#r" x="1729.8" y="355.9"/><use href="#r" x="1757.1" y="348"/><use href="#r" x="1583.4" y="372"/><use href="#r" x="1699.3" y="378.7"/><use href="#r" x="1659.8" y="385.6"/><use href="#r" x="1749.6" y="385.2"/><use href="#r" x="1517.1" y="394.1"/><use href="#r" x="1579" y="399.1"/><use href="#r" x="1555.7" y="404.6"/><use href="#r" x="1555.7" y="413.9"/><use href="#r" x="1734" y="397.5"/><use href="#r" x="1707.2" y="401"/><use href="#r" x="1717.1" y="409.4"/><use href="#r" x="1516.1" y="424.8"/><use href="#r" x="1547" y="425.2"/><use href="#r" x="1575.5" y="437.7"/><use href="#r" x="1573.5" y="445"/><use href="#r" x="1638" y="438.6"/><use href="#r" x="1550.9" y="447.2"/><use href="#r" x="1546.2" y="450.1"/><use href="#r" x="1519.7" y="452.9"/><use href="#r" x="1524.6" y="457"/><use href="#r" x="1738.3" y="456.5"/><use href="#r" x="1514.3" y="464.4"/><use href="#r" x="1519.1" y="469.3"/><use href="#r" x="1538.1" y="466.9"/><use href="#r" x="1734.4" y="470.9"/><use href="#r" x="1517.7" y="486.7"/><use href="#r" x="1523.6" y="490.1"/><use href="#r" x="1556.7" y="484.2"/><use href="#r" x="1646.3" y="489.1"/><use href="#r" x="1710.6" y="488.7"/><use href="#r" x="1640" y="498"/><use href="#r" x="1515.1" y="506.3"/><use href="#r" x="1522.2" y="503.5"/><use href="#r" x="1515.1" y="513.8"/><use href="#r" x="1540" y="510.9"/><use href="#r" x="1568.1" y="504.9"/><use href="#r" x="1701.7" y="507.9"/><use href="#r" x="1704.1" y="509.9"/><use href="#r" x="1525.6" y="523.7"/><use href="#r" x="1579" y="526.7"/><use href="#b" x="1528.6" y="312"/><use href="#b" x="1629.9" y="313"/><use href="#b" x="1650.7" y="312"/><use href="#b" x="1670" y="315.6"/><use href="#b" x="1671" y="317.9"/><use href="#b" x="1660.2" y="319.5"/><use href="#b" x="1653.8" y="321.3"/><use href="#b" x="1694.4" y="317.5"/><use href="#b" x="1709.6" y="323.3"/><use href="#b" x="1725.5" y="320.3"/><use href="#b" x="1735" y="324.3"/><use href="#b" x="1740.3" y="322.5"/><use href="#b" x="1601.8" y="327.8"/><use href="#b" x="1653.8" y="329.8"/><use href="#b" x="1684.3" y="329.4"/><use href="#b" x="1691.2" y="326.8"/><use href="#b" x="1704.1" y="335.3"/><use href="#b" x="1555.9" y="338.1"/><use href="#b" x="1645.3" y="342.1"/><use href="#b" x="1639.8" y="344.1"/><use href="#b" x="1667.1" y="339.7"/><use href="#b" x="1653.2" y="348"/><use href="#b" x="1704.1" y="346.2"/><use href="#b" x="1731" y="341.1"/><use href="#b" x="1722.5" y="348.6"/><use href="#b" x="1741.7" y="344.6"/><use href="#b" x="1745.2" y="344.6"/><use href="#b" x="1751.2" y="354.5"/><use href="#b" x="1642.9" y="355.9"/><use href="#b" x="1641.4" y="363.4"/><use href="#b" x="1640.4" y="366.4"/><use href="#b" x="1667.5" y="357.1"/><use href="#b" x="1676.4" y="360.1"/><use href="#b" x="1598.8" y="365"/><use href="#b" x="1671" y="370"/><use href="#b" x="1669.1" y="374.3"/><use href="#b" x="1765.6" y="372"/><use href="#b" x="1516.7" y="377.7"/><use href="#b" x="1587.9" y="376.9"/><use href="#b" x="1637" y="377.3"/><use href="#b" x="1652.2" y="383.2"/><use href="#b" x="1668.5" y="381.3"/><use href="#b" x="1673" y="386.2"/><use href="#b" x="1678.4" y="380.7"/><use href="#b" x="1681.5" y="387.2"/><use href="#b" x="1686.9" y="386.2"/><use href="#b" x="1689.4" y="380.3"/><use href="#b" x="1691.4" y="385.6"/><use href="#b" x="1693.8" y="381.3"/><use href="#b" x="1712" y="380.3"/><use href="#b" x="1727" y="375.7"/><use href="#b" x="1725.5" y="378.9"/><use href="#b" x="1733.4" y="375.3"/><use href="#b" x="1745.8" y="376.3"/><use href="#b" x="1752.8" y="381.7"/><use href="#b" x="1590.3" y="387.6"/><use href="#b" x="1603.4" y="390.2"/><use href="#b" x="1604.7" y="393.1"/><use href="#b" x="1614.6" y="397.5"/><use href="#b" x="1643.7" y="391.2"/><use href="#b" x="1639.4" y="399.7"/><use href="#b" x="1748.2" y="392.1"/><use href="#b" x="1565.2" y="403.6"/><use href="#b" x="1522.6" y="409.4"/><use href="#b" x="1719.9" y="408"/><use href="#b" x="1735" y="410.9"/><use href="#b" x="1745.6" y="418.9"/><use href="#b" x="1754.1" y="413.5"/><use href="#b" x="1761.5" y="422.2"/><use href="#b" x="1616.6" y="416.3"/><use href="#b" x="1609.7" y="424.2"/><use href="#b" x="1596.2" y="426.8"/><use href="#b" x="1564.2" y="426.2"/><use href="#b" x="1630.1" y="423.8"/><use href="#b" x="1623.5" y="431.1"/><use href="#b" x="1660.6" y="418.9"/><use href="#b" x="1658.6" y="425.4"/><use href="#b" x="1648.3" y="431.1"/><use href="#b" x="1664.7" y="436.1"/><use href="#b" x="1672.4" y="437.7"/><use href="#b" x="1684.9" y="431.3"/><use href="#b" x="1690.8" y="435.7"/><use href="#b" x="1758.7" y="433.1"/><use href="#b" x="1520.1" y="437.1"/><use href="#b" x="1563.8" y="442"/><use href="#b" x="1634.4" y="442"/><use href="#b" x="1617.6" y="446"/><use href="#b" x="1623.5" y="447.2"/><use href="#b" x="1611.1" y="451.5"/><use href="#b" x="1612.7" y="456.1"/><use href="#b" x="1625.5" y="455.1"/><use href="#b" x="1523.2" y="450.5"/><use href="#b" x="1540" y="452.1"/><use href="#b" x="1677" y="451.5"/><use href="#b" x="1673.4" y="462.4"/><use href="#b" x="1710.6" y="457.4"/><use href="#b" x="1715.6" y="458.8"/><use href="#b" x="1706.7" y="464"/><use href="#b" x="1758.1" y="466.9"/><use href="#b" x="1590.3" y="465.9"/><use href="#b" x="1605.3" y="464.4"/><use href="#b" x="1613.7" y="465"/><use href="#b" x="1604.2" y="471.3"/><use href="#b" x="1599.8" y="474.9"/><use href="#b" x="1624.9" y="470.3"/><use href="#b" x="1635.4" y="466.3"/><use href="#b" x="1638.4" y="470.3"/><use href="#b" x="1646.3" y="465.4"/><use href="#b" x="1617.6" y="476.2"/><use href="#b" x="1627.1" y="476.6"/><use href="#b" x="1635.4" y="476.6"/><use href="#b" x="1515.7" y="474.3"/><use href="#b" x="1546.4" y="474.3"/><use href="#b" x="1559.2" y="473.7"/><use href="#b" x="1730.4" y="469.9"/><use href="#b" x="1679.3" y="474.7"/><use href="#b" x="1695.2" y="473.9"/><use href="#b" x="1589.3" y="476.6"/><use href="#b" x="1585" y="480.2"/><use href="#b" x="1590.3" y="482.2"/><use href="#b" x="1570.5" y="483.2"/><use href="#b" x="1655.6" y="480.6"/><use href="#b" x="1657.6" y="483.8"/><use href="#b" x="1662.7" y="484.2"/><use href="#b" x="1646.9" y="485.1"/><use href="#b" x="1676.6" y="485.7"/><use href="#b" x="1678" y="487.1"/><use href="#b" x="1715.6" y="482.6"/><use href="#b" x="1712" y="489.7"/><use href="#b" x="1533.5" y="491.5"/><use href="#b" x="1557.3" y="490.7"/><use href="#b" x="1574.5" y="492.7"/><use href="#b" x="1632.5" y="490.5"/><use href="#b" x="1607.7" y="494.4"/><use href="#b" x="1605.3" y="498"/><use href="#b" x="1608.3" y="499"/><use href="#b" x="1693.2" y="498.4"/><use href="#b" x="1713.2" y="501"/><use href="#b" x="1696.2" y="503.9"/><use href="#b" x="1562.2" y="502"/><use href="#b" x="1572.1" y="503.9"/><use href="#b" x="1561.8" y="509.5"/><use href="#b" x="1591.5" y="506.3"/><use href="#b" x="1608.3" y="504.3"/><use href="#b" x="1605.7" y="507.9"/><use href="#b" x="1647.9" y="503.3"/><use href="#b" x="1654.2" y="503.9"/><use href="#b" x="1645.3" y="507.5"/><use href="#b" x="1742.9" y="505.5"/><use href="#b" x="1523.6" y="509.5"/><use href="#b" x="1531.1" y="505.9"/><use href="#b" x="1535.5" y="507.9"/><use href="#b" x="1596.8" y="512.3"/><use href="#b" x="1602.4" y="513.4"/><use href="#b" x="1614.2" y="510.5"/><use href="#b" x="1618.6" y="514.8"/><use href="#b" x="1621.2" y="514.8"/><use href="#b" x="1691.2" y="514.4"/><use href="#b" x="1705.7" y="513.8"/><use href="#b" x="1547.8" y="516.2"/><use href="#b" x="1538.1" y="518.2"/><use href="#b" x="1523" y="518.4"/><use href="#b" x="1522.6" y="523.7"/><use href="#b" x="1620.6" y="521.8"/><use href="#b" x="1623.5" y="520.8"/><use href="#b" x="1699.1" y="520.8"/><use href="#b" x="1699.7" y="523.7"/><use href="#b" x="1747.2" y="520.2"/><use href="#b" x="1659.2" y="522.7"/><use href="#b" x="1536.5" y="526.3"/><use href="#b" x="1532.5" y="530.7"/><use href="#b" x="1528" y="532.2"/><use href="#b" x="1540.4" y="533.6"/><use href="#b" x="1560.6" y="528.7"/><use href="#b" x="1560.6" y="531.6"/><use href="#b" x="1594.9" y="532"/><use href="#b" x="1598.2" y="529.3"/><use href="#b" x="1609.1" y="528.1"/><use href="#b" x="1613.1" y="529.1"/><use href="#b" x="1628.9" y="529.7"/><use href="#b" x="1630.1" y="530.7"/><use href="#b" x="1639.4" y="525.7"/><use href="#b" x="1642.9" y="526.3"/><use href="#b" x="1678.4" y="526.7"/><use href="#b" x="1683.5" y="527.7"/><use href="#b" x="1689.2" y="530.7"/><use href="#b" x="1678.4" y="533.2"/><use href="#b" x="1669.7" y="531.2"/><use href="#b" x="1701.7" y="528.7"/><use href="#b" x="1717.5" y="524.7"/><use href="#b" x="1720.5" y="527.7"/><use href="#b" x="1718.5" y="529.7"/><use href="#b" x="1713.6" y="535.6"/><use href="#b" x="1731.4" y="529.7"/><use href="#b" x="1737.7" y="527.1"/><use href="#b" x="1728.4" y="533.2"/><use href="#b" x="1755.7" y="534.6"/><use href="#b" x="1515.1" y="535.6"/><use href="#b" x="1520.1" y="533.6"/><use href="#b" x="1524.6" y="539"/><use href="#b" x="1527" y="540.5"/><use href="#b" x="1513.7" y="543.1"/><use href="#b" x="1516.1" y="542.5"/><use href="#b" x="1525.6" y="543.1"/><use href="#b" x="1534.9" y="543.1"/><use href="#b" x="1533.5" y="542.5"/><use href="#b" x="1548.7" y="542.5"/><use href="#b" x="1552.3" y="542.5"/><use href="#b" x="1554.9" y="537.6"/><use href="#b" x="1554.7" y="543.9"/><use href="#b" x="1561.2" y="537.6"/><use href="#b" x="1561.8" y="541.5"/><use href="#b" x="1574.1" y="537.6"/><use href="#b" x="1575.1" y="540.5"/><use href="#b" x="1582.6" y="540.9"/><use href="#b" x="1584.6" y="537"/><use href="#b" x="1588.9" y="539.6"/><use href="#b" x="1591.5" y="542.5"/><use href="#b" x="1602.8" y="542.5"/><use href="#b" x="1605.3" y="541.9"/><use href="#b" x="1606.7" y="539.6"/><use href="#b" x="1611.1" y="536.6"/><use href="#b" x="1615.2" y="541.5"/><use href="#b" x="1619.6" y="540.5"/><use href="#b" x="1628.9" y="540.9"/><use href="#b" x="1630.1" y="539.2"/><use href="#b" x="1632.1" y="541.9"/><use href="#b" x="1640" y="538"/><use href="#b" x="1652.6" y="535.2"/><use href="#b" x="1660.7" y="540.9"/><use href="#r" x="1844.6" y="315.6"/><use href="#r" x="1892.1" y="312"/><use href="#r" x="1780.5" y="324.3"/><use href="#r" x="1858" y="334.4"/><use href="#r" x="1878.8" y="333.2"/><use href="#r" x="1777.9" y="343.3"/><use href="#r" x="1872.9" y="345.6"/><use href="#r" x="1839.2" y="349.6"/><use href="#r" x="1805.6" y="356.1"/><use href="#r" x="1786.8" y="358.9"/><use href="#r" x="1880.2" y="360.1"/><use href="#r" x="1863" y="365"/><use href="#r" x="1880.8" y="370"/><use href="#r" x="1853.1" y="377.7"/><use href="#r" x="1788.8" y="377.3"/><use href="#r" x="1783.8" y="381.3"/><use href="#r" x="1798.7" y="383.8"/><use href="#r" x="1917.4" y="382.4"/><use href="#r" x="1894.3" y="387.2"/><use href="#r" x="1863" y="390.4"/><use href="#r" x="1872.9" y="396.5"/><use href="#r" x="1868.5" y="415.3"/><use href="#r" x="1784.2" y="428.4"/><use href="#r" x="1772.9" y="453.1"/><use href="#r" x="1845.2" y="460.4"/><use href="#r" x="1867.9" y="476.8"/><use href="#r" x="1834.3" y="485.5"/><use href="#r" x="1809" y="489.5"/><use href="#r" x="1831.7" y="528.1"/><use href="#b" x="1775.5" y="316.4"/><use href="#b" x="1782.8" y="322.9"/><use href="#b" x="1790.8" y="328.8"/><use href="#b" x="1872.5" y="313.6"/><use href="#b" x="1835.9" y="330.8"/><use href="#b" x="1849.1" y="331.8"/><use href="#b" x="1771" y="363.1"/><use href="#b" x="1802" y="367.8"/><use href="#b" x="1841.2" y="405.6"/><use href="#b" x="1870.3" y="407"/><use href="#b" x="1865.6" y="409.4"/><use href="#b" x="1861" y="416.3"/><use href="#b" x="1863" y="422.4"/><use href="#b" x="1864" y="428.8"/><use href="#b" x="1861.4" y="439"/><use href="#b" x="1775.9" y="414.9"/><use href="#b" x="1828.4" y="429.3"/><use href="#b" x="1825.8" y="445.6"/><use href="#b" x="1825" y="458.8"/><use href="#b" x="1831.3" y="465.8"/><use href="#b" x="1861.4" y="469.9"/><use href="#b" x="1853.5" y="473.7"/><use href="#b" x="1830.9" y="484.8"/><use href="#b" x="1859.4" y="493.1"/><use href="#b" x="1862.4" y="499.4"/><use href="#b" x="1895.2" y="491.5"/><use href="#b" x="1802.6" y="500.6"/><use href="#b" x="1783.4" y="505.5"/><use href="#b" x="1785.2" y="507.9"/><use href="#r" x="1647.9" y="113"/><use href="#r" x="1732.8" y="92.2"/><use href="#r" x="1709.6" y="108.4"/><use href="#r" x="1698.3" y="114.4"/><use href="#r" x="1705.3" y="115.8"/><use href="#r" x="1689.2" y="116.7"/><use href="#r" x="1686.5" y="122.9"/><use href="#r" x="1678" y="139.1"/><use href="#r" x="1665.7" y="141.5"/><use href="#r" x="1730.4" y="102.9"/><use href="#r" x="1743.3" y="101.9"/><use href="#r" x="1753.2" y="103.9"/><use href="#r" x="1759.1" y="93.2"/><use href="#r" x="1762.1" y="101.9"/><use href="#r" x="1765.6" y="82.7"/><use href="#r" x="1765" y="105.5"/><use href="#r" x="1745.6" y="115"/><use href="#r" x="1732.8" y="120.7"/><use href="#r" x="1740.3" y="121.3"/><use href="#r" x="1742.7" y="123.3"/><use href="#r" x="1727" y="127.6"/><use href="#r" x="1736.3" y="129.8"/><use href="#r" x="1734.4" y="135.7"/><use href="#r" x="1752.2" y="122.3"/><use href="#r" x="1756.1" y="119.7"/><use href="#r" x="1759.1" y="115.4"/><use href="#r" x="1764" y="118.3"/><use href="#r" x="1755.5" y="124.3"/><use href="#r" x="1753.2" y="137.1"/><use href="#r" x="1751.2" y="140.1"/><use href="#r" x="1761.1" y="140.1"/><use href="#r" x="1756.5" y="146.4"/><use href="#r" x="1763.1" y="132.2"/><use href="#r" x="1714.6" y="143.1"/><use href="#r" x="1721.5" y="142.5"/><use href="#r" x="1715.2" y="152"/><use href="#r" x="1729" y="149"/><use href="#r" x="1727.4" y="151"/><use href="#r" x="1739.3" y="149"/><use href="#r" x="1734.4" y="157.5"/><use href="#r" x="1761.5" y="158.9"/><use href="#r" x="1677.6" y="162.9"/><use href="#r" x="1653.6" y="171.4"/><use href="#r" x="1681.3" y="174.3"/><use href="#r" x="1702.1" y="175.7"/><use href="#r" x="1727.4" y="167.8"/><use href="#r" x="1739.3" y="166.8"/><use href="#r" x="1746.2" y="170.4"/><use href="#r" x="1752.2" y="165.8"/><use href="#r" x="1736.9" y="175.3"/><use href="#r" x="1741.9" y="178.3"/><use href="#r" x="1747.2" y="178.3"/><use href="#r" x="1722.5" y="180.7"/><use href="#r" x="1727" y="180.7"/><use href="#r" x="1735" y="185"/><use href="#r" x="1754.1" y="182.2"/><use href="#r" x="1757.1" y="186.6"/><use href="#r" x="1762.1" y="182.6"/><use href="#r" x="1760.1" y="174.7"/><use href="#r" x="1622.6" y="183.2"/><use href="#r" x="1675.6" y="181.7"/><use href="#r" x="1674" y="192.1"/><use href="#r" x="1695.8" y="188.2"/><use href="#r" x="1694.8" y="192.1"/><use href="#r" x="1684.9" y="196.5"/><use href="#r" x="1710.6" y="197.5"/><use href="#r" x="1598.8" y="197.9"/><use href="#r" x="1734.4" y="204"/><use href="#r" x="1760.7" y="198.5"/><use href="#r" x="1672.6" y="208.8"/><use href="#r" x="1695.8" y="211.3"/><use href="#r" x="1724.5" y="210.3"/><use href="#r" x="1721.5" y="212.9"/><use href="#r" x="1757.1" y="217.3"/><use href="#r" x="1762.1" y="213.3"/><use href="#r" x="1766" y="208.4"/><use href="#r" x="1673.4" y="218.7"/><use href="#r" x="1698.3" y="218.9"/><use href="#r" x="1716.5" y="225.2"/><use href="#r" x="1744.6" y="224.6"/><use href="#r" x="1734" y="228.2"/><use href="#r" x="1741.9" y="232.1"/><use href="#r" x="1764" y="228.2"/><use href="#r" x="1665.7" y="228.7"/><use href="#r" x="1679.5" y="227.8"/><use href="#r" x="1686.3" y="229.5"/><use href="#r" x="1696.2" y="229.5"/><use href="#r" x="1673" y="240"/><use href="#r" x="1692.8" y="240.4"/><use href="#r" x="1716.2" y="240.4"/><use href="#r" x="1731.4" y="239.4"/><use href="#r" x="1715" y="246.4"/><use href="#r" x="1739.7" y="249.5"/><use href="#r" x="1763.1" y="251.9"/><use href="#r" x="1735.3" y="256.3"/><use href="#r" x="1743.3" y="259.4"/><use href="#r" x="1746.2" y="258.2"/><use href="#r" x="1546" y="250.9"/><use href="#r" x="1630.1" y="257.8"/><use href="#r" x="1675.6" y="259.8"/><use href="#r" x="1697.8" y="261.8"/><use href="#r" x="1694.8" y="265.2"/><use href="#r" x="1675" y="268.7"/><use href="#r" x="1683.9" y="270.7"/><use href="#r" x="1657.2" y="272.1"/><use href="#r" x="1722.5" y="268.1"/><use href="#r" x="1734" y="274.7"/><use href="#r" x="1674" y="276.2"/><use href="#r" x="1726.4" y="280.6"/><use href="#r" x="1575.7" y="278"/><use href="#r" x="1683.9" y="286.1"/><use href="#r" x="1625.9" y="293.5"/><use href="#r" x="1665.1" y="294.4"/><use href="#r" x="1598.4" y="297.4"/><use href="#r" x="1609.3" y="302.4"/><use href="#r" x="1660.7" y="303.3"/><use href="#r" x="1690.2" y="300.4"/><use href="#r" x="1712.6" y="309.3"/><use href="#b" x="1680.3" y="131.8"/><use href="#b" x="1741.7" y="143.5"/><use href="#b" x="1743.3" y="152.6"/><use href="#b" x="1744.6" y="155.5"/><use href="#b" x="1767" y="162.9"/><use href="#b" x="1731.8" y="173.3"/><use href="#b" x="1742.3" y="172.4"/><use href="#b" x="1761.1" y="168.8"/><use href="#b" x="1712" y="175.3"/><use href="#b" x="1701.3" y="183"/><use href="#b" x="1657.6" y="187"/><use href="#b" x="1716.5" y="190"/><use href="#b" x="1753.2" y="195.9"/><use href="#b" x="1765" y="202.4"/><use href="#b" x="1713" y="197.9"/><use href="#b" x="1715" y="202.8"/><use href="#b" x="1749.2" y="214.9"/><use href="#b" x="1689.8" y="219.8"/><use href="#b" x="1621.6" y="221.2"/><use href="#b" x="1634.4" y="220.8"/><use href="#b" x="1723.5" y="221.8"/><use href="#b" x="1731.8" y="224.2"/><use href="#b" x="1766" y="230.1"/><use href="#b" x="1606.7" y="234.7"/><use href="#b" x="1711.6" y="233.5"/><use href="#b" x="1717.5" y="235.7"/><use href="#b" x="1724.5" y="239.6"/><use href="#b" x="1701.1" y="250.9"/><use href="#b" x="1739.7" y="251.9"/><use href="#b" x="1709.6" y="255.3"/><use href="#b" x="1717.1" y="254.9"/><use href="#b" x="1699.1" y="258.2"/><use href="#b" x="1590.5" y="256.5"/><use href="#b" x="1662.1" y="257.2"/><use href="#b" x="1690.4" y="262.8"/><use href="#b" x="1688.5" y="265.2"/><use href="#b" x="1651.8" y="266.7"/><use href="#b" x="1708.2" y="269.1"/><use href="#b" x="1678.4" y="278.6"/><use href="#b" x="1663.1" y="280.6"/><use href="#b" x="1657.6" y="284.5"/><use href="#b" x="1649.7" y="284.9"/><use href="#b" x="1567.7" y="286.5"/><use href="#b" x="1714.2" y="287.9"/><use href="#b" x="1731" y="290.5"/><use href="#b" x="1709" y="293.5"/><use href="#b" x="1694.8" y="294.4"/><use href="#b" x="1670.6" y="294.4"/><use href="#b" x="1584.4" y="296.4"/><use href="#b" x="1596.8" y="303.3"/><use href="#b" x="1637" y="299.4"/><use href="#b" x="1637.4" y="305.3"/><use href="#b" x="1653.6" y="301.8"/><use href="#b" x="1719.9" y="303"/><use href="#b" x="1748.8" y="302.4"/><use href="#b" x="1752.2" y="305.7"/><use href="#b" x="1740.3" y="307.7"/><use href="#b" x="1528.6" y="309.9"/><use href="#b" x="1629.9" y="311.3"/><use href="#b" x="1650.3" y="310.9"/><use href="#r" x="1781.9" y="175.7"/><use href="#r" x="1768" y="174.7"/><use href="#r" x="1768" y="181.1"/><use href="#r" x="1777.5" y="186"/><use href="#r" x="1786.2" y="183.2"/><use href="#r" x="1802.6" y="183.6"/><use href="#r" x="1807" y="182.3"/><use href="#r" x="1813.5" y="175.7"/><use href="#r" x="1850.7" y="176.7"/><use href="#r" x="1853.1" y="185.6"/><use href="#r" x="1864.4" y="181.7"/><use href="#r" x="1867.5" y="182.6"/><use href="#r" x="1877.8" y="176.3"/><use href="#r" x="1888.1" y="175.3"/><use href="#r" x="1886.7" y="179.1"/><use href="#r" x="1883.8" y="185"/><use href="#r" x="1793.3" y="194.5"/><use href="#r" x="1790.2" y="198.9"/><use href="#r" x="1785.4" y="192.9"/><use href="#r" x="1806.2" y="203.4"/><use href="#r" x="1810.1" y="203"/><use href="#r" x="1818.5" y="201.1"/><use href="#r" x="1770" y="209.4"/><use href="#r" x="1792.7" y="213.3"/><use href="#r" x="1858.4" y="204.8"/><use href="#r" x="1863" y="210"/><use href="#r" x="1895" y="200.9"/><use href="#r" x="1873.5" y="212.7"/><use href="#r" x="1863.4" y="220.6"/><use href="#r" x="1848.5" y="220.8"/><use href="#r" x="1840.8" y="223.2"/><use href="#r" x="1874.3" y="225.6"/><use href="#r" x="1860.4" y="228.8"/><use href="#r" x="1827.8" y="227.8"/><use href="#r" x="1799.7" y="234.7"/><use href="#r" x="1905.5" y="237.1"/><use href="#r" x="1883.2" y="241"/><use href="#r" x="1874.3" y="242.6"/><use href="#r" x="1864.4" y="245"/><use href="#r" x="1867.5" y="247"/><use href="#r" x="1853.5" y="255.9"/><use href="#r" x="1859.6" y="263.2"/><use href="#r" x="1828.8" y="261.8"/><use href="#r" x="1882.2" y="269.7"/><use href="#r" x="1891.1" y="270.1"/><use href="#r" x="1828.9" y="276.6"/><use href="#r" x="1822.4" y="282"/><use href="#r" x="1876.4" y="280"/><use href="#r" x="1775.5" y="291.1"/><use href="#r" x="1805" y="289.9"/><use href="#r" x="1800.7" y="297.8"/><use href="#r" x="1848.7" y="296.4"/><use href="#r" x="1867.5" y="293.5"/><use href="#r" x="1892.1" y="309.3"/><use href="#b" x="1817.5" y="177.7"/><use href="#b" x="1835.9" y="174.7"/><use href="#b" x="1861" y="177.1"/><use href="#b" x="1786.2" y="191.2"/><use href="#b" x="1858" y="189.6"/><use href="#b" x="1860.4" y="192.1"/><use href="#b" x="1768" y="199.5"/><use href="#b" x="1876.4" y="198.9"/><use href="#b" x="1873.5" y="208.4"/><use href="#b" x="1841.8" y="214.7"/><use href="#b" x="1772.9" y="219.7"/><use href="#b" x="1844.8" y="223.6"/><use href="#b" x="1865.6" y="223.2"/><use href="#b" x="1768" y="230.1"/><use href="#b" x="1776.5" y="239.6"/><use href="#b" x="1874.5" y="247.4"/><use href="#b" x="1823.4" y="253.5"/><use href="#b" x="1865.6" y="258.2"/><use href="#b" x="1872.5" y="261.8"/><use href="#b" x="1872.3" y="269.1"/><use href="#b" x="1778.9" y="265.4"/><use href="#b" x="1801.6" y="270.7"/><use href="#b" x="1861.6" y="286.5"/><use href="#b" x="1861" y="295.4"/><use href="#b" x="1880.2" y="296"/><use href="#b" x="1859.4" y="306.7"/><use href="#b" x="1872.9" y="311.3"/></g>
<path d="M1488.65 159.60H2047.50M1756.74 55.50V567.40" stroke="#000" stroke-width="4.5" stroke-dasharray="17.65 17.65" fill="none"/>
<path d="M1484.35 544.40H1488.65M1514.30 567.40V571.70M1484.35 428.07H1488.65M1641.10 567.40V571.70M1484.35 311.75H1488.65M1767.90 567.40V571.70M1484.35 195.43H1488.65M1894.70 567.40V571.70M1484.35 79.10H1488.65M2021.50 567.40V571.70" stroke="#353a3e" stroke-width="4.6" fill="none"/>
<rect x="1488.65" y="55.50" width="558.85" height="511.90" fill="none" stroke="#353a3e" stroke-width="4.6" stroke-linejoin="round"/>
<text x="1468.06" y="553.90" font-size="28.4" fill="#231815" textLength="14.75" lengthAdjust="spacingAndGlyphs">0</text>
<text x="1507.61" y="597.30" font-size="28.4" fill="#231815" textLength="14.75" lengthAdjust="spacingAndGlyphs">0</text>
<text x="1451.38" y="437.57" font-size="28.4" fill="#231815">25</text>
<text x="1622.38" y="597.30" font-size="28.4" fill="#231815">25</text>
<text x="1451.30" y="321.25" font-size="28.4" fill="#231815">50</text>
<text x="1749.38" y="597.30" font-size="28.4" fill="#231815">50</text>
<text x="1451.38" y="204.93" font-size="28.4" fill="#231815">75</text>
<text x="1876.47" y="597.30" font-size="28.4" fill="#231815">75</text>
<text x="1438.56" y="88.60" font-size="28.4" fill="#231815" textLength="44.26" lengthAdjust="spacingAndGlyphs">100</text>
<text x="2001.17" y="597.30" font-size="28.4" fill="#231815" textLength="44.26" lengthAdjust="spacingAndGlyphs">100</text>
<text x="1420.00" y="568.24" transform="rotate(-90 1420.00 568.24)" font-size="27.1" fill="#000">clinic−RadmC score (cutoff value=82.7)</text>
<text x="1540.97" y="632.80" font-size="27.1" fill="#000" textLength="474.61" lengthAdjust="spacingAndGlyphs">DL−radiomics score (cutoff value=47.8)</text>
<circle cx="1578.5" cy="36.65" r="9.8" fill="#df202e" stroke="#231815" stroke-width="1"/>
<circle cx="1828" cy="36.65" r="9.8" fill="#2a74ae" stroke="#231815" stroke-width="1"/>
<text x="1615.90" y="44.40" font-size="24.5" fill="#000" textLength="105.87" lengthAdjust="spacingAndGlyphs">Malignant</text>
<text x="1865.27" y="44.40" font-size="24.5" fill="#000" textLength="76.90" lengthAdjust="spacingAndGlyphs">Benign</text>
<text x="1505.43" y="95.20" font-size="33.4" fill="#231815" textLength="48.85" lengthAdjust="spacingAndGlyphs">16*</text>
<text x="1982.73" y="542.80" font-size="33.4" fill="#231815" textLength="36.19" lengthAdjust="spacingAndGlyphs">18</text>
<text x="2020.51" y="533.50" font-size="22.8" fill="#231815">#</text>
</g>
<g id="panelD">
<text x="8.23" y="668.80" font-size="39" fill="#000" font-weight="bold" textLength="27.01" lengthAdjust="spacingAndGlyphs">D</text>
<g stroke="#231815" stroke-width="1"><use href="#r" x="548.6" y="740.2"/><use href="#r" x="478.1" y="745"/><use href="#r" x="489.1" y="761.8"/><use href="#r" x="560.4" y="735.7"/><use href="#r" x="564.1" y="760.3"/><use href="#r" x="549.3" y="767"/><use href="#r" x="434.3" y="759"/><use href="#r" x="554.2" y="743.9"/><use href="#r" x="542.6" y="739.3"/><use href="#r" x="494.9" y="729.4"/><use href="#r" x="604.4" y="734.5"/><use href="#r" x="585.5" y="794.6"/><use href="#r" x="551.5" y="778.3"/><use href="#r" x="570.3" y="759.4"/><use href="#r" x="587.4" y="728.8"/><use href="#r" x="559.5" y="786"/><use href="#r" x="587.5" y="751.9"/><use href="#r" x="488.7" y="771.3"/><use href="#r" x="570.8" y="757.2"/><use href="#r" x="581.9" y="775.2"/><use href="#r" x="570.4" y="740.7"/><use href="#r" x="597.7" y="732.5"/><use href="#r" x="571.8" y="752.9"/><use href="#r" x="469" y="766.3"/><use href="#r" x="520.7" y="773.3"/><use href="#r" x="411.6" y="809.4"/><use href="#r" x="581.7" y="766.5"/><use href="#r" x="451" y="767.8"/><use href="#r" x="518.3" y="743.1"/><use href="#r" x="451.7" y="774.9"/><use href="#r" x="591.9" y="770.2"/><use href="#r" x="479.9" y="730.4"/><use href="#r" x="548.5" y="765.4"/><use href="#r" x="604.9" y="728.6"/><use href="#r" x="440.4" y="758"/><use href="#r" x="525.5" y="731.8"/><use href="#r" x="536.5" y="772.2"/><use href="#r" x="496.2" y="787.2"/><use href="#r" x="484.1" y="759.9"/><use href="#r" x="550.3" y="789.1"/><use href="#r" x="588.1" y="740.4"/><use href="#r" x="524" y="729.3"/><use href="#r" x="568.2" y="747.6"/><use href="#r" x="555.7" y="775.4"/><use href="#r" x="565.9" y="751.5"/><use href="#r" x="569.7" y="731.1"/><use href="#r" x="563.9" y="757.2"/><use href="#r" x="562.2" y="740.8"/><use href="#r" x="575.4" y="777.7"/><use href="#r" x="559.6" y="766.4"/><use href="#r" x="549.2" y="772.1"/><use href="#r" x="485.7" y="730.8"/><use href="#r" x="605.4" y="748"/><use href="#r" x="505.1" y="758.8"/><use href="#r" x="555.5" y="730.7"/><use href="#r" x="517.4" y="798.6"/><use href="#r" x="522.4" y="748.3"/><use href="#r" x="551.2" y="758.2"/><use href="#r" x="530.8" y="786.6"/><use href="#r" x="496.9" y="745.2"/><use href="#r" x="492.2" y="732.8"/><use href="#r" x="587.1" y="739.4"/><use href="#r" x="443.8" y="750.6"/><use href="#r" x="426.3" y="799"/><use href="#r" x="540.5" y="735.2"/><use href="#r" x="554.2" y="748.4"/><use href="#r" x="574" y="777.9"/><use href="#r" x="571.8" y="769.2"/><use href="#r" x="538" y="729.3"/><use href="#r" x="539.8" y="755.2"/><use href="#r" x="591.9" y="770.1"/><use href="#r" x="556" y="744.3"/><use href="#r" x="584.8" y="789.9"/><use href="#r" x="480.8" y="745.4"/><use href="#r" x="496.8" y="754.2"/><use href="#r" x="562.8" y="796.9"/><use href="#r" x="598.2" y="755"/><use href="#r" x="513.5" y="755.7"/><use href="#r" x="564.2" y="754.7"/><use href="#r" x="577.6" y="772.4"/><use href="#r" x="557.8" y="734"/><use href="#r" x="492.4" y="765.9"/><use href="#r" x="605.5" y="737.6"/><use href="#r" x="588.9" y="743.6"/><use href="#r" x="570.3" y="770.9"/><use href="#r" x="536.6" y="738.7"/><use href="#r" x="504.4" y="730.5"/><use href="#r" x="490.9" y="755.2"/><use href="#r" x="518.7" y="736.6"/><use href="#r" x="542.9" y="761.2"/><use href="#r" x="567.5" y="766.6"/><use href="#r" x="576" y="731.4"/><use href="#r" x="545.9" y="744.2"/><use href="#r" x="576.3" y="736.2"/><use href="#r" x="551.9" y="742.6"/><use href="#r" x="541.3" y="745.4"/><use href="#r" x="522.2" y="751.8"/><use href="#r" x="535.5" y="772.1"/><use href="#r" x="508.5" y="728.5"/><use href="#r" x="553.3" y="755.3"/><use href="#r" x="476.6" y="802.6"/><use href="#r" x="533.9" y="763.6"/><use href="#r" x="475.1" y="753.4"/><use href="#r" x="520.5" y="786.7"/><use href="#r" x="562.9" y="743.7"/><use href="#r" x="526.6" y="741.6"/><use href="#r" x="534.4" y="735.1"/><use href="#r" x="579.4" y="773.5"/><use href="#r" x="567.5" y="760.8"/><use href="#r" x="460.7" y="779.3"/><use href="#r" x="454.5" y="758"/><use href="#r" x="578.4" y="749.5"/><use href="#r" x="579.8" y="741.6"/><use href="#r" x="590.4" y="775.9"/><use href="#r" x="399.6" y="754.4"/><use href="#r" x="587.3" y="754.8"/><use href="#r" x="560" y="732.9"/><use href="#r" x="483.1" y="731.2"/><use href="#r" x="531.2" y="775"/><use href="#r" x="565.8" y="765.7"/><use href="#r" x="554.9" y="741.5"/><use href="#r" x="549.3" y="737"/><use href="#r" x="527.3" y="729.4"/><use href="#r" x="550.3" y="730.6"/><use href="#r" x="449.6" y="768.4"/><use href="#r" x="501.3" y="777"/><use href="#r" x="532" y="789.6"/><use href="#r" x="492.9" y="728.8"/><use href="#r" x="553.8" y="736.5"/><use href="#r" x="537.8" y="731.3"/><use href="#r" x="526.2" y="735.6"/><use href="#r" x="524" y="733.1"/><use href="#r" x="534" y="743.8"/><use href="#r" x="488" y="782"/><use href="#r" x="475.9" y="742.7"/><use href="#r" x="476.5" y="731.8"/><use href="#r" x="570.1" y="793.3"/><use href="#r" x="550.9" y="732.4"/><use href="#r" x="522.6" y="751.8"/><use href="#r" x="499.5" y="783.1"/><use href="#r" x="440.1" y="805.4"/><use href="#r" x="597.4" y="739.5"/><use href="#r" x="511.7" y="775"/><use href="#r" x="391.4" y="780.4"/><use href="#r" x="520.9" y="787.4"/><use href="#r" x="580.4" y="740.1"/><use href="#r" x="533.3" y="770.8"/><use href="#r" x="410.7" y="764.5"/><use href="#r" x="468.5" y="794.8"/><use href="#r" x="526.2" y="755.3"/><use href="#r" x="539.9" y="744.5"/><use href="#r" x="578.4" y="769.2"/><use href="#r" x="385.1" y="768.7"/><use href="#r" x="500" y="729.4"/><use href="#r" x="572.8" y="735.5"/><use href="#r" x="485.5" y="745"/><use href="#r" x="475" y="756.7"/><use href="#r" x="575.3" y="729.3"/><use href="#r" x="570" y="751.2"/><use href="#r" x="501.1" y="740.6"/><use href="#r" x="522.6" y="802.9"/><use href="#r" x="539.3" y="762.2"/><use href="#r" x="452.2" y="788.7"/><use href="#r" x="534.7" y="759.5"/><use href="#r" x="578.2" y="729.7"/><use href="#r" x="564" y="759.2"/><use href="#r" x="575" y="792.4"/><use href="#r" x="544.3" y="730.1"/><use href="#r" x="469.7" y="752.7"/><use href="#r" x="540.3" y="783.4"/><use href="#r" x="506.1" y="771.5"/><use href="#r" x="545.3" y="794.2"/><use href="#r" x="590" y="736.9"/><use href="#r" x="512.2" y="749.6"/><use href="#r" x="527.6" y="760.2"/><use href="#r" x="530.2" y="768.9"/><use href="#r" x="499.9" y="775.4"/><use href="#r" x="518" y="739.9"/><use href="#r" x="526.2" y="778.5"/><use href="#r" x="389.2" y="808.1"/><use href="#r" x="601.9" y="732.8"/><use href="#r" x="593" y="763"/><use href="#r" x="583.5" y="743.2"/><use href="#r" x="518.7" y="745.5"/><use href="#r" x="548" y="754.4"/><use href="#r" x="400.4" y="736.9"/><use href="#r" x="529.7" y="767.2"/><use href="#r" x="577.3" y="742.9"/><use href="#r" x="555.6" y="735.7"/><use href="#r" x="441.7" y="761.2"/><use href="#r" x="516.3" y="776.5"/><use href="#r" x="568.7" y="775.1"/><use href="#r" x="533" y="729.2"/><use href="#r" x="585.2" y="747.6"/><use href="#r" x="476.5" y="799.2"/><use href="#r" x="585.4" y="752.4"/><use href="#r" x="483.7" y="796.2"/><use href="#r" x="573.5" y="769.8"/><use href="#r" x="479.1" y="771.5"/><use href="#r" x="597.3" y="759.6"/><use href="#r" x="585.1" y="774.6"/><use href="#r" x="519.6" y="742.1"/><use href="#r" x="534.7" y="735.4"/><use href="#r" x="510.9" y="764.1"/><use href="#r" x="471.7" y="735"/><use href="#r" x="580.5" y="756.3"/><use href="#r" x="534" y="768.4"/><use href="#r" x="559" y="759.5"/><use href="#r" x="490.7" y="747.7"/><use href="#r" x="494.4" y="730.2"/><use href="#r" x="509" y="749"/><use href="#r" x="567.5" y="763.5"/><use href="#r" x="601.7" y="732.6"/><use href="#r" x="542.6" y="769.3"/><use href="#r" x="456.7" y="736"/><use href="#r" x="576.9" y="785.9"/><use href="#r" x="498.3" y="767.7"/><use href="#r" x="536.1" y="762.8"/><use href="#r" x="531.8" y="778.1"/><use href="#r" x="565.8" y="753.3"/><use href="#r" x="539.6" y="752.6"/><use href="#r" x="572.5" y="745.4"/><use href="#r" x="519" y="747.2"/><use href="#r" x="535" y="769.5"/><use href="#r" x="465.7" y="758.1"/><use href="#r" x="503.4" y="753.3"/><use href="#r" x="523.3" y="731.6"/><use href="#r" x="594.7" y="734.4"/><use href="#r" x="577.2" y="765.9"/><use href="#r" x="580" y="748.6"/><use href="#r" x="558.9" y="735.7"/><use href="#r" x="558.7" y="754.4"/><use href="#r" x="510.3" y="741.7"/><use href="#r" x="595.8" y="736.5"/><use href="#r" x="500.6" y="730.1"/><use href="#r" x="585.8" y="745.1"/><use href="#r" x="564.8" y="775.2"/><use href="#r" x="489.1" y="760.5"/><use href="#r" x="442" y="776.7"/><use href="#r" x="543.5" y="761.5"/><use href="#r" x="510.1" y="730"/><use href="#r" x="583.3" y="753.8"/><use href="#r" x="529.4" y="786.8"/><use href="#r" x="575.8" y="784.4"/><use href="#r" x="584.5" y="763.6"/><use href="#r" x="434.7" y="763"/><use href="#r" x="534.7" y="796"/><use href="#r" x="503" y="732"/><use href="#r" x="476.7" y="742.8"/><use href="#r" x="540.9" y="744.2"/><use href="#r" x="550.6" y="775.6"/><use href="#r" x="573.6" y="793"/><use href="#r" x="481.9" y="734.2"/><use href="#r" x="521.5" y="782.6"/><use href="#r" x="547.1" y="743"/><use href="#r" x="588" y="744.1"/><use href="#r" x="525" y="769"/><use href="#r" x="503.5" y="745.6"/><use href="#r" x="571.2" y="790.7"/><use href="#r" x="546.8" y="744.1"/><use href="#r" x="442.6" y="741.7"/><use href="#r" x="522.3" y="742.5"/><use href="#r" x="508.3" y="745.3"/><use href="#r" x="541.3" y="774.4"/><use href="#r" x="520.1" y="777.9"/><use href="#r" x="538.4" y="748.4"/><use href="#r" x="481.8" y="744.9"/><use href="#r" x="589.3" y="744.1"/><use href="#r" x="533.4" y="756.4"/><use href="#r" x="573.4" y="797.2"/><use href="#r" x="460.6" y="789.8"/><use href="#r" x="577.5" y="739.1"/><use href="#r" x="548.2" y="772"/><use href="#r" x="558.2" y="768.9"/><use href="#r" x="569.2" y="739.2"/><use href="#r" x="554.3" y="747.6"/><use href="#r" x="481.8" y="758.2"/><use href="#r" x="496.4" y="767.3"/><use href="#r" x="441.9" y="753.3"/><use href="#r" x="555.2" y="780.7"/><use href="#r" x="533.7" y="757"/><use href="#r" x="557.5" y="777.5"/><use href="#r" x="523.3" y="792.6"/><use href="#r" x="482.7" y="752.8"/><use href="#r" x="536.2" y="749.8"/><use href="#r" x="467.4" y="805.6"/><use href="#r" x="568" y="781.3"/><use href="#r" x="573.1" y="738.7"/><use href="#r" x="526.4" y="761.5"/><use href="#r" x="601.6" y="728.7"/><use href="#r" x="451.2" y="775.8"/><use href="#r" x="491.1" y="733.4"/><use href="#r" x="597.4" y="746.5"/><use href="#r" x="578.3" y="760.8"/><use href="#r" x="518" y="769.4"/><use href="#r" x="563.1" y="729.5"/><use href="#r" x="538.8" y="802.2"/><use href="#r" x="530.5" y="757.3"/><use href="#r" x="608.7" y="729.3"/><use href="#r" x="585.7" y="760.5"/><use href="#r" x="578.9" y="738.3"/><use href="#r" x="441.6" y="758.2"/><use href="#r" x="573.9" y="756.6"/><use href="#r" x="547.9" y="763.7"/><use href="#r" x="468.6" y="733.1"/><use href="#r" x="541.4" y="738.5"/><use href="#r" x="465.1" y="754.5"/><use href="#r" x="579.9" y="731.6"/><use href="#r" x="572" y="762"/><use href="#r" x="516.5" y="780"/><use href="#r" x="557.8" y="730"/><use href="#r" x="567.8" y="755.9"/><use href="#r" x="588.9" y="741.5"/><use href="#r" x="581.5" y="749.4"/><use href="#r" x="451.9" y="734.8"/><use href="#r" x="593.6" y="747.2"/><use href="#r" x="554.5" y="755.7"/><use href="#r" x="540" y="750.6"/><use href="#r" x="532.9" y="773"/><use href="#r" x="542.8" y="793.2"/><use href="#r" x="416.7" y="794"/><use href="#r" x="477.5" y="739.4"/><use href="#r" x="548.2" y="771.2"/><use href="#r" x="508.6" y="744.8"/><use href="#r" x="516" y="745.6"/><use href="#r" x="483" y="768.9"/><use href="#r" x="566.4" y="746.9"/><use href="#r" x="597.4" y="747"/><use href="#r" x="512.8" y="729.5"/><use href="#r" x="510.4" y="743.4"/><use href="#r" x="496.4" y="789.7"/><use href="#r" x="562.8" y="781.6"/><use href="#r" x="608.7" y="732.6"/><use href="#r" x="475.1" y="779.4"/><use href="#r" x="504.1" y="768.4"/><use href="#r" x="497.8" y="785.2"/><use href="#r" x="591" y="751.3"/><use href="#r" x="589.4" y="728.4"/><use href="#r" x="562.1" y="769.5"/><use href="#r" x="571.3" y="781.3"/><use href="#r" x="553.2" y="761.3"/><use href="#r" x="535.6" y="778.3"/><use href="#r" x="503.9" y="732.9"/><use href="#r" x="554.5" y="791.9"/><use href="#r" x="573.3" y="786.2"/><use href="#r" x="536.5" y="756.9"/><use href="#r" x="550.3" y="765.8"/><use href="#r" x="574.8" y="728.9"/><use href="#r" x="565.9" y="755.1"/><use href="#r" x="539.4" y="731.6"/><use href="#r" x="535.4" y="766.8"/><use href="#r" x="572.8" y="778.1"/><use href="#r" x="550.1" y="740.3"/><use href="#r" x="566.4" y="785.6"/><use href="#r" x="511.4" y="782.2"/><use href="#r" x="468.2" y="749.5"/><use href="#r" x="572.6" y="741.4"/><use href="#r" x="520.4" y="757.3"/><use href="#r" x="557.6" y="782.1"/><use href="#r" x="462.4" y="745.8"/><use href="#r" x="563.4" y="730.8"/><use href="#r" x="552.7" y="774.1"/><use href="#r" x="578.8" y="781.4"/><use href="#r" x="469.1" y="756.4"/><use href="#r" x="558.5" y="789.5"/><use href="#r" x="541" y="765.2"/><use href="#r" x="552" y="746.5"/><use href="#r" x="595.4" y="745.9"/><use href="#r" x="456.6" y="755.6"/><use href="#r" x="504" y="772"/><use href="#r" x="559.7" y="767.2"/><use href="#r" x="558.3" y="728.9"/><use href="#r" x="502.5" y="729.1"/><use href="#r" x="533.2" y="758.4"/><use href="#r" x="500.2" y="730.6"/><use href="#r" x="495.4" y="752.7"/><use href="#r" x="495.3" y="781.1"/><use href="#r" x="552.2" y="768.9"/><use href="#r" x="510.2" y="773.2"/><use href="#r" x="574.7" y="745.7"/><use href="#r" x="583" y="796.3"/><use href="#r" x="524.1" y="740.4"/><use href="#r" x="505.4" y="777.4"/><use href="#r" x="567.7" y="749.4"/><use href="#r" x="538.3" y="729.8"/><use href="#r" x="515.2" y="755.3"/><use href="#r" x="513.3" y="763.5"/><use href="#r" x="481.4" y="773.3"/><use href="#r" x="485.3" y="772.4"/><use href="#r" x="600.9" y="729.1"/><use href="#r" x="470.2" y="730.5"/><use href="#r" x="562" y="739.2"/><use href="#r" x="516.8" y="755.7"/><use href="#r" x="584.3" y="745.7"/><use href="#r" x="580.6" y="747.5"/><use href="#r" x="524.6" y="745"/><use href="#r" x="507.1" y="753.1"/><use href="#r" x="547.7" y="740.2"/><use href="#r" x="544.1" y="784.8"/><use href="#r" x="572.8" y="769.5"/><use href="#r" x="561.9" y="732.5"/><use href="#r" x="519.8" y="772.5"/><use href="#r" x="533.3" y="799.8"/><use href="#r" x="447.6" y="778.8"/><use href="#r" x="600.7" y="730.1"/><use href="#r" x="527" y="781.5"/><use href="#r" x="551" y="755.2"/><use href="#r" x="559" y="729.7"/><use href="#r" x="543.5" y="758.5"/><use href="#r" x="544.8" y="733.4"/><use href="#r" x="438.3" y="773.1"/><use href="#r" x="515.2" y="804.6"/><use href="#r" x="524.2" y="782.9"/><use href="#r" x="498.5" y="731.3"/><use href="#r" x="552.2" y="739.4"/><use href="#r" x="589.5" y="740.4"/><use href="#r" x="513.2" y="774.1"/><use href="#r" x="558.7" y="757.9"/><use href="#r" x="466.5" y="788.9"/><use href="#r" x="529.7" y="746.6"/><use href="#r" x="599.1" y="745"/><use href="#r" x="537.6" y="737.9"/><use href="#r" x="595.4" y="730.9"/><use href="#r" x="565.4" y="751.2"/><use href="#r" x="537" y="728.8"/><use href="#r" x="595.8" y="730.6"/><use href="#r" x="492.4" y="730.2"/><use href="#r" x="588.2" y="749.3"/><use href="#r" x="502.3" y="734.1"/><use href="#r" x="472.1" y="771.3"/><use href="#r" x="491.8" y="758.3"/><use href="#r" x="560.4" y="757"/><use href="#r" x="536.5" y="751.9"/><use href="#r" x="518.7" y="784.9"/><use href="#r" x="471.5" y="740.7"/><use href="#r" x="580.3" y="775.6"/><use href="#r" x="504.9" y="803.3"/><use href="#r" x="473.2" y="804.1"/><use href="#r" x="497.7" y="802.1"/><use href="#r" x="501.3" y="779.7"/><use href="#r" x="548.8" y="777.6"/><use href="#r" x="531.1" y="764.7"/><use href="#r" x="575.6" y="734"/><use href="#r" x="487.3" y="767.3"/><use href="#r" x="503.9" y="781.9"/><use href="#r" x="547.5" y="733"/><use href="#r" x="572.9" y="798.4"/><use href="#r" x="530.3" y="768.6"/><use href="#r" x="563.1" y="740.1"/><use href="#r" x="534.4" y="780.8"/><use href="#r" x="564.7" y="784.8"/><use href="#r" x="516.7" y="754.7"/><use href="#r" x="480.8" y="749.5"/><use href="#r" x="545.2" y="734.6"/><use href="#r" x="598.8" y="746.8"/><use href="#r" x="528.1" y="754.3"/><use href="#r" x="589.3" y="755.5"/><use href="#r" x="512.1" y="746.8"/><use href="#r" x="534.6" y="733.3"/><use href="#r" x="513.6" y="748.6"/><use href="#r" x="579.8" y="743.8"/><use href="#r" x="556.3" y="780"/><use href="#r" x="495.3" y="731.6"/><use href="#r" x="551.8" y="787.5"/><use href="#r" x="557" y="753.5"/><use href="#r" x="501.7" y="744.9"/><use href="#r" x="562.4" y="782.1"/><use href="#r" x="575" y="753.6"/><use href="#r" x="554.8" y="728.9"/><use href="#r" x="525.2" y="735.7"/><use href="#r" x="558.5" y="734.4"/><use href="#r" x="545.5" y="729.3"/><use href="#r" x="479.1" y="756.1"/><use href="#r" x="587.5" y="731.6"/><use href="#r" x="579.7" y="783.4"/><use href="#r" x="455.4" y="736"/><use href="#r" x="561.4" y="789.3"/><use href="#r" x="484.7" y="802.7"/><use href="#r" x="510.1" y="733.2"/><use href="#r" x="557.7" y="744.9"/><use href="#r" x="526.3" y="759.6"/><use href="#r" x="571.4" y="729.6"/><use href="#r" x="574.9" y="793.9"/><use href="#r" x="551.3" y="758.5"/><use href="#r" x="577.1" y="729.2"/><use href="#r" x="589" y="729.3"/><use href="#r" x="527.2" y="778"/><use href="#r" x="440.4" y="791.6"/><use href="#r" x="569.7" y="753.1"/><use href="#r" x="561.6" y="777.9"/><use href="#r" x="543" y="735.4"/><use href="#r" x="521.5" y="774.1"/><use href="#r" x="567" y="776.8"/><use href="#r" x="442.2" y="767.9"/><use href="#r" x="550.2" y="767.5"/><use href="#r" x="575.9" y="755.7"/><use href="#r" x="510.2" y="773.3"/><use href="#r" x="554.8" y="730.2"/><use href="#r" x="570.8" y="775.2"/><use href="#r" x="558.1" y="761.4"/><use href="#r" x="544.9" y="772.6"/><use href="#r" x="566.5" y="740.8"/><use href="#r" x="525.3" y="761.9"/><use href="#r" x="589.7" y="736"/><use href="#r" x="382.2" y="757.4"/><use href="#r" x="523.7" y="729.4"/><use href="#r" x="524.4" y="752"/><use href="#r" x="526.2" y="731.8"/><use href="#r" x="543.2" y="766.6"/><use href="#r" x="564.2" y="776.5"/><use href="#r" x="539" y="749.5"/><use href="#r" x="472.1" y="744.9"/><use href="#r" x="464.5" y="759.9"/><use href="#r" x="581.4" y="765.9"/><use href="#r" x="489.8" y="798"/><use href="#r" x="553.2" y="749.3"/><use href="#r" x="524.3" y="745"/><use href="#r" x="524.1" y="741.9"/><use href="#r" x="575.6" y="740.3"/><use href="#r" x="488.3" y="774.2"/><use href="#r" x="489.1" y="782.9"/><use href="#r" x="588.5" y="777.1"/><use href="#r" x="579.9" y="750.9"/><use href="#r" x="558.1" y="743.3"/><use href="#r" x="558.1" y="736.2"/><use href="#r" x="517.2" y="741.3"/><use href="#r" x="562.9" y="729.4"/><use href="#r" x="586.7" y="772.8"/><use href="#r" x="492.6" y="748.3"/><use href="#r" x="542" y="734.8"/><use href="#r" x="569.8" y="749.7"/><use href="#r" x="526.4" y="757.3"/><use href="#r" x="599" y="748.8"/><use href="#r" x="466.2" y="802.2"/><use href="#r" x="607.1" y="732.3"/><use href="#r" x="580.6" y="742.7"/><use href="#r" x="583.3" y="735.3"/><use href="#r" x="575.1" y="743.9"/><use href="#r" x="554.8" y="776.8"/><use href="#r" x="579.3" y="745.6"/><use href="#r" x="585.5" y="732.7"/><use href="#r" x="426.6" y="738.8"/><use href="#r" x="550.9" y="737.6"/><use href="#r" x="565.4" y="732.4"/><use href="#r" x="435.5" y="778.8"/><use href="#r" x="564.4" y="762.5"/><use href="#r" x="548.3" y="739.4"/><use href="#r" x="522.4" y="769.4"/><use href="#r" x="533" y="740.5"/><use href="#r" x="542.4" y="745.5"/><use href="#r" x="495.1" y="740.1"/><use href="#r" x="493.8" y="730.7"/><use href="#r" x="517.5" y="734.7"/><use href="#r" x="593.7" y="728.6"/><use href="#r" x="549.4" y="737.7"/><use href="#r" x="579" y="786"/><use href="#r" x="600.6" y="734.9"/><use href="#r" x="563.3" y="756.5"/><use href="#r" x="557.9" y="782.2"/><use href="#r" x="464.7" y="736.3"/><use href="#r" x="560.1" y="734.4"/><use href="#r" x="556.2" y="771.7"/><use href="#r" x="503" y="757.3"/><use href="#r" x="541.4" y="743"/><use href="#r" x="586.1" y="732.7"/><use href="#r" x="556" y="766.8"/><use href="#r" x="561.1" y="737.3"/><use href="#r" x="549.3" y="735.6"/><use href="#r" x="583.3" y="749.8"/><use href="#r" x="503" y="743.8"/><use href="#r" x="566.9" y="752.8"/><use href="#r" x="525.3" y="759.7"/><use href="#r" x="503.9" y="739.8"/><use href="#r" x="510.2" y="763.2"/><use href="#r" x="578.3" y="759.1"/><use href="#r" x="553.2" y="759.8"/><use href="#r" x="557.5" y="729.5"/><use href="#r" x="507.7" y="770"/><use href="#r" x="561.4" y="748.7"/><use href="#r" x="588" y="742"/><use href="#r" x="553.3" y="752"/><use href="#r" x="543.3" y="757.1"/><use href="#r" x="544.6" y="735.4"/><use href="#r" x="555.7" y="738.8"/><use href="#r" x="522" y="750"/><use href="#r" x="558.8" y="800.9"/><use href="#r" x="598.4" y="734.7"/><use href="#r" x="576.2" y="774.2"/><use href="#r" x="522.4" y="781.3"/><use href="#r" x="597.7" y="734"/><use href="#r" x="570.7" y="798.4"/><use href="#r" x="579.6" y="805.2"/><use href="#r" x="524.2" y="732"/><use href="#r" x="549.5" y="732.4"/><use href="#r" x="587.9" y="756.9"/><use href="#r" x="502.8" y="743.4"/><use href="#r" x="532" y="742.2"/><use href="#r" x="572.8" y="765.6"/><use href="#r" x="505" y="731.5"/><use href="#r" x="537.9" y="734.4"/><use href="#r" x="449.7" y="738.6"/><use href="#r" x="491" y="742.7"/><use href="#r" x="516.7" y="805.4"/><use href="#r" x="608.4" y="730.9"/><use href="#r" x="602.3" y="735.3"/><use href="#r" x="509.9" y="796.1"/><use href="#r" x="535.5" y="733.8"/><use href="#r" x="573.9" y="749.8"/><use href="#r" x="585.2" y="746.5"/><use href="#r" x="556.8" y="768.7"/><use href="#r" x="425.4" y="755.4"/><use href="#r" x="526.2" y="742.1"/><use href="#r" x="563.9" y="734"/><use href="#r" x="569" y="767.1"/><use href="#r" x="579.9" y="739.2"/><use href="#r" x="514.7" y="794.8"/><use href="#r" x="574.1" y="752.7"/><use href="#r" x="423.6" y="740.4"/><use href="#r" x="574.8" y="757.9"/><use href="#r" x="582.2" y="773.7"/><use href="#r" x="578.5" y="775.5"/><use href="#r" x="594.1" y="746"/><use href="#r" x="528" y="798.1"/><use href="#r" x="564.4" y="779.9"/><use href="#r" x="563.6" y="801.1"/><use href="#r" x="548.4" y="760.7"/><use href="#r" x="563.8" y="743.6"/><use href="#r" x="520.4" y="766"/><use href="#r" x="548.5" y="762"/><use href="#r" x="466.3" y="752.5"/><use href="#r" x="594.4" y="729.1"/><use href="#r" x="548.7" y="737.6"/><use href="#r" x="535.9" y="729"/><use href="#r" x="562.6" y="745.6"/><use href="#r" x="585.3" y="736"/><use href="#r" x="405.8" y="746.1"/><use href="#r" x="516.9" y="770.5"/><use href="#r" x="595.3" y="729.5"/><use href="#r" x="453.4" y="803.7"/><use href="#r" x="539.5" y="741.7"/><use href="#r" x="485" y="731.2"/><use href="#r" x="527.5" y="785.5"/><use href="#r" x="558.7" y="807.2"/><use href="#r" x="536.3" y="765.3"/><use href="#r" x="529.2" y="757.2"/><use href="#r" x="571.2" y="796.3"/><use href="#r" x="564.1" y="789.5"/><use href="#r" x="530.3" y="752.5"/><use href="#r" x="537" y="773"/><use href="#r" x="560.4" y="744.7"/><use href="#r" x="571.5" y="779.3"/><use href="#r" x="507.6" y="743.5"/><use href="#r" x="595.6" y="733.7"/><use href="#r" x="449.4" y="782.6"/><use href="#r" x="553.5" y="759.9"/><use href="#r" x="523.1" y="739"/><use href="#r" x="548.3" y="765.1"/><use href="#r" x="568.7" y="731.3"/><use href="#r" x="524.2" y="737.6"/><use href="#r" x="529.9" y="755.7"/><use href="#r" x="535.6" y="794.3"/><use href="#r" x="588.2" y="763"/><use href="#r" x="570.1" y="782.3"/><use href="#r" x="550.8" y="761.7"/><use href="#r" x="598.1" y="729.4"/><use href="#r" x="519.5" y="731.6"/><use href="#r" x="449.4" y="780"/><use href="#r" x="477.2" y="728.5"/><use href="#r" x="552.4" y="736"/><use href="#r" x="515.7" y="742.7"/><use href="#r" x="552.2" y="738.3"/><use href="#r" x="548.6" y="763.9"/><use href="#r" x="533.8" y="734.7"/><use href="#r" x="537.9" y="787.4"/><use href="#r" x="580.9" y="764.1"/><use href="#r" x="603.5" y="748.4"/><use href="#r" x="584.1" y="787.7"/><use href="#r" x="562.9" y="780.4"/><use href="#r" x="546.2" y="743.1"/><use href="#r" x="581.9" y="761.4"/><use href="#r" x="561.1" y="779.1"/><use href="#r" x="458.4" y="800"/><use href="#r" x="521.7" y="757.6"/><use href="#r" x="482.5" y="756"/><use href="#r" x="583" y="743.6"/><use href="#r" x="555.5" y="734.7"/><use href="#r" x="573" y="735.2"/><use href="#r" x="537.4" y="742.2"/><use href="#r" x="577.9" y="744.6"/><use href="#r" x="599.9" y="754.3"/><use href="#r" x="468.6" y="765.5"/><use href="#r" x="555" y="785"/><use href="#r" x="582.7" y="756.2"/><use href="#r" x="551.4" y="740.5"/><use href="#r" x="533.3" y="736.1"/><use href="#r" x="497" y="741.6"/><use href="#r" x="562.4" y="752.8"/><use href="#r" x="561.6" y="730.1"/><use href="#r" x="560.6" y="752.1"/><use href="#r" x="575.8" y="745"/><use href="#r" x="498.2" y="732.1"/><use href="#r" x="560.4" y="785.8"/><use href="#r" x="534.6" y="757.2"/><use href="#r" x="602.4" y="744.1"/><use href="#r" x="508.3" y="734.8"/><use href="#r" x="497.8" y="755.3"/><use href="#r" x="396.8" y="730.4"/><use href="#r" x="597.3" y="745.6"/><use href="#r" x="511.3" y="752.6"/><use href="#r" x="567.5" y="771.4"/><use href="#r" x="535.2" y="750.4"/><use href="#r" x="596.4" y="742.7"/><use href="#r" x="584" y="788.1"/><use href="#r" x="483" y="786.8"/><use href="#r" x="558" y="759.2"/><use href="#r" x="482.1" y="737.5"/><use href="#r" x="496.2" y="730"/><use href="#r" x="439.2" y="741.7"/><use href="#r" x="514.2" y="748.8"/><use href="#r" x="518.4" y="768.7"/><use href="#r" x="596.9" y="732.4"/><use href="#r" x="424.7" y="770.9"/><use href="#r" x="601.5" y="729"/><use href="#r" x="561.4" y="778"/><use href="#r" x="487.3" y="772.8"/><use href="#r" x="600.6" y="733.1"/><use href="#r" x="536.9" y="759.8"/><use href="#r" x="547.1" y="753.4"/><use href="#r" x="569.5" y="732.7"/><use href="#r" x="568" y="802.7"/><use href="#r" x="557.4" y="761.8"/><use href="#r" x="554.7" y="760.2"/><use href="#r" x="556.4" y="760.2"/><use href="#r" x="509.3" y="742.1"/><use href="#r" x="519.1" y="733.8"/><use href="#r" x="529.5" y="733.6"/><use href="#r" x="416.9" y="785.9"/><use href="#r" x="495.5" y="788.5"/><use href="#r" x="563.1" y="729.8"/><use href="#r" x="482.2" y="757.5"/><use href="#r" x="498.9" y="771.1"/><use href="#r" x="391.9" y="766.2"/><use href="#r" x="502.6" y="755.6"/><use href="#r" x="470.3" y="728.6"/><use href="#r" x="551.3" y="771.3"/><use href="#r" x="528.9" y="757.6"/><use href="#r" x="504.5" y="749.4"/><use href="#r" x="578.4" y="738.6"/><use href="#r" x="524.6" y="733.3"/><use href="#r" x="589.6" y="747.4"/><use href="#r" x="557.8" y="743.8"/><use href="#r" x="450.6" y="730.4"/><use href="#r" x="489.3" y="735.2"/><use href="#r" x="554.5" y="780.6"/><use href="#r" x="529.1" y="789.3"/><use href="#r" x="592.2" y="730.3"/><use href="#r" x="554.1" y="730.3"/><use href="#r" x="497.2" y="731.1"/><use href="#r" x="580.2" y="770"/><use href="#r" x="545.9" y="738.4"/><use href="#r" x="578.6" y="732.5"/><use href="#r" x="563.4" y="766.4"/><use href="#r" x="526.5" y="746.1"/><use href="#r" x="581.9" y="746.2"/><use href="#r" x="577.5" y="739.1"/><use href="#r" x="422.1" y="756.8"/><use href="#r" x="545" y="755.8"/><use href="#r" x="516.8" y="807.1"/><use href="#r" x="539.1" y="763.9"/><use href="#r" x="581.6" y="729.8"/><use href="#r" x="517.8" y="767.9"/><use href="#r" x="578" y="748.7"/><use href="#r" x="546.4" y="769.4"/><use href="#r" x="525.4" y="751.4"/><use href="#r" x="588.5" y="779.6"/><use href="#r" x="571.7" y="785.3"/><use href="#r" x="546.7" y="747.9"/><use href="#r" x="520.8" y="751.4"/><use href="#r" x="560.9" y="773.6"/><use href="#r" x="482" y="755.3"/><use href="#r" x="534.6" y="730.6"/><use href="#r" x="467.3" y="755.3"/><use href="#r" x="440.1" y="779.4"/><use href="#r" x="541.1" y="795.8"/><use href="#r" x="604.8" y="748.7"/><use href="#r" x="571.3" y="765.4"/><use href="#r" x="462.9" y="765.5"/><use href="#r" x="506" y="765.7"/><use href="#r" x="474.2" y="802.5"/><use href="#r" x="559" y="732"/><use href="#r" x="580.4" y="793.1"/><use href="#r" x="541.3" y="740.2"/><use href="#r" x="553.4" y="730.5"/><use href="#r" x="565.4" y="733.2"/><use href="#r" x="523.4" y="774.6"/><use href="#r" x="389.8" y="785.6"/><use href="#r" x="454.8" y="763.4"/><use href="#r" x="455.5" y="736.6"/><use href="#r" x="586.3" y="736.6"/><use href="#r" x="478.2" y="745.1"/><use href="#r" x="461" y="760.2"/><use href="#r" x="532.5" y="784.3"/><use href="#r" x="461.7" y="801.2"/><use href="#r" x="559.9" y="731.3"/><use href="#r" x="403.2" y="751.2"/><use href="#r" x="539.6" y="791.8"/><use href="#r" x="568.7" y="728.5"/><use href="#r" x="558.7" y="775.5"/><use href="#r" x="556.2" y="730.4"/><use href="#r" x="488.5" y="757.3"/><use href="#r" x="518.4" y="788.7"/><use href="#r" x="509.8" y="786.9"/><use href="#r" x="489.1" y="772.5"/><use href="#r" x="503.4" y="773.7"/><use href="#r" x="550.8" y="730.2"/><use href="#r" x="564.8" y="768.3"/><use href="#r" x="588.1" y="753.9"/><use href="#r" x="537.5" y="777.7"/><use href="#r" x="535.6" y="743.8"/><use href="#r" x="536.1" y="769.1"/><use href="#r" x="550.2" y="753.9"/><use href="#r" x="547" y="733.5"/><use href="#r" x="576.7" y="749.2"/><use href="#r" x="528.5" y="754.8"/><use href="#r" x="543.1" y="737"/><use href="#r" x="534.4" y="759.2"/><use href="#r" x="555.1" y="754"/><use href="#r" x="560.3" y="748.7"/><use href="#r" x="540.9" y="740.3"/><use href="#r" x="487.4" y="795.4"/><use href="#r" x="531.7" y="731.4"/><use href="#r" x="458.5" y="739.6"/><use href="#r" x="588.4" y="737.1"/><use href="#r" x="560.2" y="754.7"/><use href="#r" x="478.5" y="773.2"/><use href="#r" x="529.2" y="785"/><use href="#r" x="591.4" y="750.8"/><use href="#r" x="413.3" y="751.6"/><use href="#r" x="520.9" y="807.9"/><use href="#r" x="573.8" y="732.7"/><use href="#r" x="568.7" y="742.4"/><use href="#r" x="524.5" y="731.2"/><use href="#r" x="542.6" y="795.8"/><use href="#r" x="485.8" y="744.3"/><use href="#r" x="544.8" y="728.5"/><use href="#r" x="506.7" y="752"/><use href="#r" x="498.2" y="755.7"/><use href="#r" x="583.5" y="744.1"/><use href="#r" x="522.2" y="763.4"/><use href="#r" x="537.1" y="764.5"/><use href="#r" x="526.3" y="756.9"/><use href="#r" x="590.4" y="771"/><use href="#r" x="588.8" y="772.6"/><use href="#r" x="538.4" y="743.2"/><use href="#r" x="464.5" y="792.5"/><use href="#r" x="532" y="758.6"/><use href="#r" x="545.8" y="764.5"/><use href="#r" x="544.8" y="733.2"/><use href="#r" x="544" y="761.8"/><use href="#r" x="463.9" y="742.8"/><use href="#r" x="584.4" y="763.1"/><use href="#r" x="497.2" y="777.8"/><use href="#r" x="575.4" y="780.1"/><use href="#r" x="578.1" y="775.3"/><use href="#r" x="466.9" y="745.9"/><use href="#r" x="593.2" y="744.7"/><use href="#r" x="525.9" y="746.2"/><use href="#r" x="590.9" y="738"/><use href="#r" x="516.9" y="802.8"/><use href="#r" x="557.1" y="755.2"/><use href="#r" x="452.9" y="739.9"/><use href="#r" x="585.1" y="729.7"/><use href="#r" x="573.9" y="745"/><use href="#r" x="575.7" y="734.2"/><use href="#b" x="582.7" y="783.8"/><use href="#b" x="540.3" y="806.1"/><use href="#b" x="555.4" y="734.5"/><use href="#b" x="519.7" y="756.7"/><use href="#b" x="406.4" y="807.9"/><use href="#b" x="533.2" y="787.4"/><use href="#b" x="514.5" y="762.3"/><use href="#b" x="591.2" y="730.5"/><use href="#b" x="475.2" y="798"/><use href="#b" x="557.7" y="802.8"/><use href="#b" x="390.8" y="745.9"/><use href="#b" x="465.1" y="763.7"/><use href="#b" x="492.9" y="774.1"/><use href="#b" x="426.8" y="783.3"/><use href="#b" x="498" y="791"/><use href="#b" x="602.9" y="728.5"/><use href="#b" x="437.6" y="771"/><use href="#b" x="421.8" y="775.5"/><use href="#b" x="463.3" y="773.8"/><use href="#b" x="576.4" y="764.8"/><use href="#b" x="588.9" y="746.4"/><use href="#b" x="514" y="793.9"/><use href="#b" x="497.8" y="775.9"/><use href="#b" x="557" y="777.6"/><use href="#b" x="429.1" y="749.1"/><use href="#b" x="574.7" y="800.8"/><use href="#b" x="451.7" y="760.6"/><use href="#b" x="509.5" y="751.6"/><use href="#b" x="536.3" y="789.3"/><use href="#b" x="548.8" y="737.9"/><use href="#b" x="568.3" y="739.4"/><use href="#r" x="291.9" y="1100.4"/><use href="#r" x="318.9" y="1104.1"/><use href="#r" x="172" y="1108.2"/><use href="#r" x="303.6" y="1118.7"/><use href="#r" x="155.4" y="1124.3"/><use href="#r" x="168.3" y="1132.5"/><use href="#r" x="218.5" y="1136.9"/><use href="#r" x="269.7" y="1135.9"/><use href="#r" x="291.9" y="1157.1"/><use href="#r" x="316.9" y="1155.1"/><use href="#r" x="134.9" y="1175.4"/><use href="#b" x="168.3" y="1093.1"/><use href="#b" x="245.4" y="1087.7"/><use href="#b" x="231.2" y="1106.1"/><use href="#b" x="148.8" y="1117.3"/><use href="#b" x="161.2" y="1120.8"/><use href="#b" x="275.6" y="1113"/><use href="#b" x="290.2" y="1114.3"/><use href="#b" x="305.5" y="1111.2"/><use href="#b" x="351.5" y="1105.9"/><use href="#b" x="367.4" y="1117.3"/><use href="#b" x="203.2" y="1131.8"/><use href="#b" x="258.5" y="1130.2"/><use href="#b" x="124.6" y="1138.9"/><use href="#b" x="124.9" y="1147.1"/><use href="#b" x="161.4" y="1140.7"/><use href="#b" x="171.8" y="1148.1"/><use href="#b" x="161.8" y="1153.4"/><use href="#b" x="230.5" y="1153.3"/><use href="#b" x="257.7" y="1155.1"/><use href="#b" x="313.7" y="1137.3"/><use href="#b" x="343.8" y="1140.3"/><use href="#b" x="328.2" y="1145.8"/><use href="#b" x="299.5" y="1148.1"/><use href="#b" x="295.7" y="1151.5"/><use href="#b" x="350.1" y="1151.2"/><use href="#b" x="367.4" y="1151.5"/><use href="#b" x="283.7" y="1161.5"/><use href="#b" x="324.1" y="1162.2"/><use href="#b" x="360.6" y="1162.2"/><use href="#b" x="364" y="1158.7"/><use href="#b" x="366.1" y="1164.9"/><use href="#b" x="199" y="1167.6"/><use href="#b" x="238.3" y="1169"/><use href="#b" x="238.7" y="1171.7"/><use href="#b" x="267.7" y="1168.3"/><use href="#b" x="288.6" y="1170.6"/><use href="#b" x="315.9" y="1169.9"/><use href="#b" x="342.6" y="1173.5"/><use href="#b" x="220.3" y="1172.1"/><use href="#b" x="230.1" y="1174.2"/><use href="#b" x="231.8" y="1177.9"/><use href="#b" x="239.7" y="1179.2"/><use href="#b" x="248.6" y="1176.1"/><use href="#b" x="248.2" y="1182.7"/><use href="#b" x="260.2" y="1178.6"/><use href="#b" x="264.7" y="1177.9"/><use href="#b" x="269.7" y="1177.2"/><use href="#b" x="264.3" y="1183.7"/><use href="#b" x="277.5" y="1182.4"/><use href="#b" x="282" y="1175.8"/><use href="#b" x="288.9" y="1175.8"/><use href="#b" x="289.1" y="1177.2"/><use href="#b" x="320.3" y="1176.5"/><use href="#b" x="154.7" y="1176.2"/><use href="#b" x="161.1" y="1174.9"/><use href="#b" x="161.4" y="1182.2"/><use href="#b" x="155.9" y="1185.4"/><use href="#b" x="175" y="1180.6"/><use href="#b" x="181.6" y="1177.5"/><use href="#b" x="186.7" y="1181"/><use href="#b" x="199" y="1176.9"/><use href="#b" x="212.4" y="1180.3"/><use href="#b" x="132.4" y="1191.3"/><use href="#b" x="143.6" y="1191.3"/><use href="#b" x="153.6" y="1190.4"/><use href="#b" x="161.1" y="1190.4"/><use href="#b" x="165.6" y="1188.8"/><use href="#b" x="171.6" y="1190.4"/><use href="#b" x="182.3" y="1188.1"/><use href="#b" x="183.7" y="1187.8"/><use href="#b" x="195.3" y="1191.1"/><use href="#b" x="199.4" y="1190.4"/><use href="#b" x="204.2" y="1189.9"/><use href="#b" x="212.6" y="1189.8"/><use href="#b" x="216" y="1190.4"/><use href="#b" x="221.2" y="1186.3"/><use href="#b" x="225.3" y="1189.2"/><use href="#b" x="235.2" y="1188.8"/><use href="#b" x="257.4" y="1188.8"/><use href="#b" x="260.2" y="1188.5"/><use href="#b" x="269.7" y="1187.8"/><use href="#b" x="286.6" y="1187.8"/><use href="#b" x="290.2" y="1187.4"/><use href="#b" x="301.2" y="1187.4"/><use href="#b" x="308.4" y="1185.4"/><use href="#b" x="321.1" y="1187.4"/><use href="#b" x="328.5" y="1190.4"/><use href="#b" x="339.4" y="1185.1"/><use href="#b" x="343.3" y="1184.3"/><use href="#b" x="346.7" y="1181"/><use href="#b" x="357.2" y="1189.5"/><use href="#b" x="367.4" y="1187.4"/><use href="#r" x="237.2" y="960"/><use href="#r" x="243.9" y="981.7"/><use href="#r" x="348.5" y="971.8"/><use href="#r" x="349.9" y="980.7"/><use href="#r" x="354" y="990.7"/><use href="#r" x="334.7" y="992.9"/><use href="#r" x="340.4" y="995.1"/><use href="#r" x="296.3" y="997"/><use href="#r" x="272.6" y="1003.7"/><use href="#r" x="198" y="1007.7"/><use href="#r" x="241.9" y="1012.8"/><use href="#r" x="259.8" y="1017.3"/><use href="#r" x="283.1" y="1024.8"/><use href="#r" x="304.4" y="1025.2"/><use href="#r" x="317.6" y="1028.6"/><use href="#r" x="241.9" y="1030"/><use href="#r" x="159.3" y="1034.5"/><use href="#r" x="176.7" y="1037.6"/><use href="#r" x="348.5" y="1030.9"/><use href="#r" x="363.9" y="1032.5"/><use href="#r" x="295.9" y="1044.1"/><use href="#r" x="170.4" y="1062.5"/><use href="#r" x="347.5" y="1075.9"/><use href="#b" x="249" y="961"/><use href="#b" x="298.8" y="976.7"/><use href="#b" x="300.8" y="978.3"/><use href="#b" x="360.3" y="979.3"/><use href="#b" x="365.8" y="988.6"/><use href="#b" x="318" y="1001.8"/><use href="#b" x="365.4" y="1010.2"/><use href="#b" x="346.1" y="1014.8"/><use href="#b" x="314.6" y="1027.6"/><use href="#b" x="350.1" y="1029"/><use href="#b" x="161.3" y="1056.6"/><use href="#b" x="207.8" y="1054.2"/><use href="#b" x="224.4" y="1063.8"/><use href="#b" x="216.1" y="1069.8"/><use href="#b" x="194.6" y="1075.9"/><use href="#b" x="272.2" y="1069.6"/><use href="#b" x="292.9" y="1062.5"/><use href="#b" x="289" y="1076.7"/><use href="#b" x="305.1" y="1053"/><use href="#b" x="314.6" y="1058.5"/><use href="#b" x="311.3" y="1080.6"/><use href="#b" x="245.2" y="1086.5"/><use href="#r" x="389.7" y="963"/><use href="#r" x="492.1" y="974.2"/><use href="#r" x="407.4" y="986"/><use href="#r" x="404.5" y="998"/><use href="#r" x="372.3" y="1003"/><use href="#r" x="378.2" y="1006.7"/><use href="#r" x="565" y="983.6"/><use href="#r" x="588.7" y="982.7"/><use href="#r" x="548.3" y="1003.7"/><use href="#r" x="572.3" y="1019.1"/><use href="#r" x="430.1" y="1025"/><use href="#r" x="409" y="1032.9"/><use href="#r" x="387.7" y="1044.7"/><use href="#r" x="416.7" y="1048.1"/><use href="#r" x="382.2" y="1056.6"/><use href="#r" x="544.7" y="1041.4"/><use href="#r" x="543.8" y="1046.7"/><use href="#r" x="537.5" y="1052.2"/><use href="#r" x="567" y="1061.1"/><use href="#r" x="547.3" y="1072.7"/><use href="#r" x="562.1" y="1072.3"/><use href="#r" x="501.4" y="1086.1"/><use href="#r" x="486.8" y="1094.6"/><use href="#r" x="455.1" y="1097.9"/><use href="#r" x="554.8" y="1085.1"/><use href="#r" x="556.2" y="1092.4"/><use href="#r" x="568.4" y="1100.3"/><use href="#r" x="578.8" y="1103.8"/><use href="#r" x="574.9" y="1111.7"/><use href="#r" x="555.6" y="1114.3"/><use href="#r" x="544.7" y="1116.7"/><use href="#r" x="400.5" y="1131.8"/><use href="#r" x="396.6" y="1136.4"/><use href="#r" x="582.4" y="1134"/><use href="#r" x="572.3" y="1137.3"/><use href="#r" x="464.4" y="1145.2"/><use href="#r" x="513.8" y="1153.7"/><use href="#r" x="531" y="1152.1"/><use href="#r" x="539" y="1150.5"/><use href="#r" x="527.2" y="1158"/><use href="#r" x="571" y="1161.4"/><use href="#r" x="520.1" y="1171.2"/><use href="#r" x="371.9" y="1174.2"/><use href="#r" x="546.3" y="1183.1"/><use href="#b" x="478.9" y="960"/><use href="#b" x="473.8" y="964.3"/><use href="#b" x="431.1" y="967.9"/><use href="#b" x="435.4" y="970.4"/><use href="#b" x="442.3" y="969.9"/><use href="#b" x="400.5" y="971.2"/><use href="#b" x="464.6" y="974.2"/><use href="#b" x="501.6" y="975.2"/><use href="#b" x="475.4" y="982.7"/><use href="#b" x="537.9" y="963"/><use href="#b" x="539" y="966.9"/><use href="#b" x="548.9" y="964.9"/><use href="#b" x="551.3" y="968.5"/><use href="#b" x="558.1" y="960"/><use href="#b" x="528.2" y="970.2"/><use href="#b" x="528.6" y="976.7"/><use href="#b" x="543.4" y="976.7"/><use href="#b" x="556.6" y="985.2"/><use href="#b" x="525" y="987.6"/><use href="#b" x="541.4" y="991.5"/><use href="#b" x="368" y="988.6"/><use href="#b" x="382.8" y="991.9"/><use href="#b" x="430.7" y="991.9"/><use href="#b" x="449.8" y="993.5"/><use href="#b" x="463.6" y="995.5"/><use href="#b" x="474.4" y="995.9"/><use href="#b" x="462.2" y="1004.7"/><use href="#b" x="510.3" y="1007.3"/><use href="#b" x="544.9" y="1003"/><use href="#b" x="553.2" y="1002.4"/><use href="#b" x="529" y="1010.8"/><use href="#b" x="537.1" y="1013.6"/><use href="#b" x="547.7" y="1012.2"/><use href="#b" x="477" y="1017.5"/><use href="#b" x="428.1" y="1019.1"/><use href="#b" x="446.2" y="1022.7"/><use href="#b" x="386.1" y="1026"/><use href="#b" x="397.2" y="1023.6"/><use href="#b" x="424.7" y="1028.4"/><use href="#b" x="430.5" y="1029"/><use href="#b" x="442.9" y="1032.9"/><use href="#b" x="468.5" y="1027.6"/><use href="#b" x="504.9" y="1024"/><use href="#b" x="539.8" y="1021.1"/><use href="#b" x="535.5" y="1024.6"/><use href="#b" x="522.3" y="1028.6"/><use href="#b" x="519.7" y="1030.3"/><use href="#b" x="505.9" y="1033.9"/><use href="#b" x="537.1" y="1033.3"/><use href="#b" x="480.9" y="1034.5"/><use href="#b" x="490.6" y="1034.9"/><use href="#b" x="513.8" y="1038.4"/><use href="#b" x="478.9" y="1040.4"/><use href="#b" x="371.5" y="1039.4"/><use href="#b" x="558.1" y="1038.2"/><use href="#b" x="527.6" y="1044.7"/><use href="#b" x="559.5" y="1047.1"/><use href="#b" x="524.1" y="1051.2"/><use href="#b" x="491.7" y="1055.2"/><use href="#b" x="554.8" y="1056.6"/><use href="#b" x="409" y="1057.9"/><use href="#b" x="389.1" y="1060.9"/><use href="#b" x="393.2" y="1066"/><use href="#b" x="434.6" y="1066"/><use href="#b" x="439.5" y="1072.7"/><use href="#b" x="485.6" y="1071.3"/><use href="#b" x="528.6" y="1063.4"/><use href="#b" x="524.3" y="1070.9"/><use href="#b" x="454.7" y="1078.2"/><use href="#b" x="410" y="1078.8"/><use href="#b" x="398.1" y="1082.8"/><use href="#b" x="437" y="1083.2"/><use href="#b" x="463" y="1085.1"/><use href="#b" x="533.9" y="1073.9"/><use href="#b" x="537.9" y="1074.3"/><use href="#b" x="534.1" y="1078.6"/><use href="#b" x="526.6" y="1085.5"/><use href="#b" x="482.3" y="1084.5"/><use href="#b" x="479.3" y="1088.1"/><use href="#b" x="493.5" y="1089.5"/><use href="#b" x="446.8" y="1089.7"/><use href="#b" x="511.4" y="1094"/><use href="#b" x="508.9" y="1099.3"/><use href="#b" x="527.6" y="1094"/><use href="#b" x="525.6" y="1099.3"/><use href="#b" x="535.5" y="1097.9"/><use href="#b" x="533.5" y="1099.3"/><use href="#b" x="535.5" y="1103.3"/><use href="#b" x="479.3" y="1102.3"/><use href="#b" x="382.8" y="1104.8"/><use href="#b" x="444.5" y="1109.8"/><use href="#b" x="461.6" y="1112.3"/><use href="#b" x="468.1" y="1117.6"/><use href="#b" x="496.5" y="1113.3"/><use href="#b" x="501.4" y="1117.6"/><use href="#b" x="508.3" y="1118.2"/><use href="#b" x="508.9" y="1122.2"/><use href="#b" x="524.1" y="1112.3"/><use href="#b" x="545.7" y="1113.1"/><use href="#b" x="556.2" y="1111.7"/><use href="#b" x="370.4" y="1117"/><use href="#b" x="394.6" y="1120.6"/><use href="#b" x="401.1" y="1121"/><use href="#b" x="416.3" y="1122"/><use href="#b" x="424.6" y="1123.9"/><use href="#b" x="453.7" y="1123.9"/><use href="#b" x="519.7" y="1123.5"/><use href="#b" x="524.7" y="1124.1"/><use href="#b" x="531.9" y="1127.1"/><use href="#b" x="541.8" y="1121.6"/><use href="#b" x="545.3" y="1121.6"/><use href="#b" x="514.4" y="1129.5"/><use href="#b" x="447.8" y="1130"/><use href="#b" x="442.9" y="1134.8"/><use href="#b" x="426.5" y="1132.8"/><use href="#b" x="397.6" y="1127.9"/><use href="#b" x="391.1" y="1130.8"/><use href="#b" x="382.8" y="1130.8"/><use href="#b" x="375.9" y="1133.8"/><use href="#b" x="375.3" y="1138.3"/><use href="#b" x="403.1" y="1133.4"/><use href="#b" x="447.8" y="1141.7"/><use href="#b" x="528.6" y="1138.7"/><use href="#b" x="474.8" y="1145.2"/><use href="#b" x="512.4" y="1145.2"/><use href="#b" x="500.6" y="1149.6"/><use href="#b" x="504.9" y="1154.5"/><use href="#b" x="484.8" y="1153.1"/><use href="#b" x="477.4" y="1156.5"/><use href="#b" x="478.3" y="1161"/><use href="#b" x="370.4" y="1151.1"/><use href="#b" x="371.9" y="1155.1"/><use href="#b" x="413.9" y="1153.5"/><use href="#b" x="411.3" y="1158"/><use href="#b" x="403.5" y="1162.4"/><use href="#b" x="398.1" y="1168.3"/><use href="#b" x="438" y="1155.1"/><use href="#b" x="442.3" y="1157.4"/><use href="#b" x="525.6" y="1153.7"/><use href="#b" x="545.3" y="1156.5"/><use href="#b" x="497.1" y="1165.3"/><use href="#b" x="491.2" y="1171.2"/><use href="#b" x="382.2" y="1175.2"/><use href="#b" x="387.3" y="1173.4"/><use href="#b" x="392" y="1173.4"/><use href="#b" x="399.5" y="1176.7"/><use href="#b" x="422.6" y="1176.7"/><use href="#b" x="387.1" y="1182.7"/><use href="#b" x="375.5" y="1186.6"/><use href="#b" x="368" y="1186.6"/><use href="#b" x="453.1" y="1178.7"/><use href="#b" x="461.6" y="1181.3"/><use href="#b" x="466.5" y="1178.1"/><use href="#b" x="472.4" y="1179.7"/><use href="#b" x="528" y="1174.2"/><use href="#r" x="351.6" y="799"/><use href="#r" x="354.4" y="805.1"/><use href="#r" x="345.5" y="806.5"/><use href="#r" x="319.5" y="808.8"/><use href="#r" x="331" y="810.4"/><use href="#r" x="352" y="814.4"/><use href="#r" x="313.6" y="825.8"/><use href="#r" x="364.8" y="823.2"/><use href="#r" x="367.8" y="819.3"/><use href="#r" x="363.3" y="829.7"/><use href="#r" x="297.9" y="852.4"/><use href="#r" x="364.3" y="857.1"/><use href="#r" x="347.5" y="870.5"/><use href="#r" x="269.3" y="872.9"/><use href="#r" x="261.4" y="876"/><use href="#r" x="305.3" y="884.7"/><use href="#r" x="350.7" y="888.3"/><use href="#r" x="355.6" y="890.6"/><use href="#r" x="232.8" y="891.8"/><use href="#r" x="326" y="894.6"/><use href="#r" x="307.3" y="903"/><use href="#r" x="328.8" y="917.8"/><use href="#r" x="338.2" y="917.2"/><use href="#r" x="287" y="924.1"/><use href="#r" x="327.4" y="927.7"/><use href="#r" x="244.3" y="941.1"/><use href="#r" x="366.8" y="937.1"/><use href="#r" x="347.1" y="945.4"/><use href="#r" x="237.2" y="957.2"/><use href="#b" x="356" y="814.8"/><use href="#b" x="360.5" y="846.5"/><use href="#b" x="334.9" y="855.7"/><use href="#b" x="327" y="870.9"/><use href="#b" x="341.2" y="870.1"/><use href="#b" x="280.7" y="909.3"/><use href="#b" x="354" y="906"/><use href="#b" x="357" y="908.5"/><use href="#b" x="324.5" y="916.8"/><use href="#b" x="363.3" y="934"/><use href="#b" x="359.9" y="942.8"/><use href="#b" x="241.3" y="943.4"/><use href="#b" x="345.5" y="953.9"/><use href="#b" x="249" y="959.2"/><use href="#r" x="412.9" y="811.4"/><use href="#r" x="416.9" y="813"/><use href="#r" x="368" y="819.7"/><use href="#r" x="387.1" y="818.9"/><use href="#r" x="410.4" y="823.8"/><use href="#r" x="393.2" y="830.5"/><use href="#r" x="407" y="831.7"/><use href="#r" x="420.6" y="830.1"/><use href="#r" x="431.4" y="818.7"/><use href="#r" x="432" y="833.1"/><use href="#r" x="442.9" y="831.1"/><use href="#r" x="453.1" y="829.1"/><use href="#r" x="444.5" y="823.8"/><use href="#r" x="456.3" y="823.2"/><use href="#r" x="449.8" y="812.4"/><use href="#r" x="475" y="824.2"/><use href="#r" x="467.1" y="834.1"/><use href="#r" x="495.1" y="815.3"/><use href="#r" x="504" y="812.4"/><use href="#r" x="508.9" y="813"/><use href="#r" x="484.8" y="817.9"/><use href="#r" x="519.1" y="822.8"/><use href="#r" x="510.5" y="829.5"/><use href="#r" x="525.6" y="829.5"/><use href="#r" x="531.5" y="829.5"/><use href="#r" x="536.1" y="823.2"/><use href="#r" x="535.5" y="817.9"/><use href="#r" x="541" y="813.8"/><use href="#r" x="531.5" y="813"/><use href="#r" x="549.3" y="823.2"/><use href="#r" x="554.8" y="829.1"/><use href="#r" x="554.8" y="834.1"/><use href="#r" x="558.7" y="823.2"/><use href="#r" x="566" y="822.6"/><use href="#r" x="570.6" y="824.8"/><use href="#r" x="569.4" y="807.5"/><use href="#r" x="572.9" y="813"/><use href="#r" x="575.9" y="815.3"/><use href="#r" x="598.5" y="822.2"/><use href="#r" x="594.6" y="818.9"/><use href="#r" x="543.8" y="830.5"/><use href="#r" x="535.1" y="840"/><use href="#r" x="534.1" y="845.9"/><use href="#r" x="553.2" y="845.3"/><use href="#r" x="571.9" y="835.6"/><use href="#r" x="569.4" y="840"/><use href="#r" x="565.6" y="844.5"/><use href="#r" x="408.4" y="841.4"/><use href="#r" x="408" y="847.9"/><use href="#r" x="398.5" y="850.8"/><use href="#r" x="482.9" y="841.6"/><use href="#r" x="473.8" y="848.8"/><use href="#r" x="432" y="848.3"/><use href="#r" x="435.4" y="851.2"/><use href="#r" x="428.7" y="857.3"/><use href="#r" x="434.4" y="860.1"/><use href="#r" x="496.5" y="846.3"/><use href="#r" x="508.5" y="845.3"/><use href="#r" x="512.4" y="851.8"/><use href="#r" x="487.6" y="858.1"/><use href="#r" x="495.7" y="862"/><use href="#r" x="502" y="861.1"/><use href="#r" x="374.9" y="868.5"/><use href="#r" x="400.9" y="868.5"/><use href="#r" x="450.8" y="875"/><use href="#r" x="436" y="881.9"/><use href="#r" x="418.6" y="886.3"/><use href="#r" x="411.3" y="894.8"/><use href="#r" x="382.8" y="909.9"/><use href="#r" x="402.1" y="908.9"/><use href="#r" x="443.9" y="905.6"/><use href="#r" x="407" y="928.3"/><use href="#r" x="416.3" y="929.2"/><use href="#r" x="368" y="937.1"/><use href="#r" x="398.5" y="943.8"/><use href="#r" x="477" y="938.5"/><use href="#r" x="494.1" y="950.7"/><use href="#r" x="475" y="957.2"/><use href="#r" x="483.9" y="915.4"/><use href="#r" x="478" y="903.4"/><use href="#r" x="489.8" y="876"/><use href="#r" x="511.3" y="875.4"/><use href="#r" x="516.4" y="872.5"/><use href="#r" x="526.6" y="879.4"/><use href="#r" x="536.9" y="864.2"/><use href="#r" x="540.4" y="876.4"/><use href="#r" x="546.9" y="875.4"/><use href="#r" x="554.8" y="857.7"/><use href="#r" x="565.6" y="856.7"/><use href="#r" x="569" y="859.7"/><use href="#r" x="570" y="866.6"/><use href="#r" x="571.9" y="873.1"/><use href="#r" x="577.9" y="875.4"/><use href="#r" x="581.8" y="876.8"/><use href="#r" x="578.4" y="858.7"/><use href="#r" x="545.9" y="888.3"/><use href="#r" x="556.2" y="887.3"/><use href="#r" x="541.4" y="894.2"/><use href="#r" x="534.5" y="897.1"/><use href="#r" x="543" y="900.1"/><use href="#r" x="567.6" y="898.1"/><use href="#r" x="574.5" y="905"/><use href="#r" x="576.9" y="907"/><use href="#r" x="547.3" y="907.6"/><use href="#r" x="554.8" y="908.9"/><use href="#r" x="530.2" y="912.3"/><use href="#r" x="541.4" y="918.2"/><use href="#r" x="585.7" y="916.4"/><use href="#r" x="572.5" y="919.2"/><use href="#r" x="576.9" y="923.7"/><use href="#r" x="513.4" y="922.3"/><use href="#r" x="520.7" y="933.6"/><use href="#r" x="547.3" y="940.9"/><use href="#r" x="572.9" y="944.4"/><use href="#r" x="584.7" y="947.4"/><use href="#r" x="572.9" y="950.3"/><use href="#b" x="398" y="808.4"/><use href="#b" x="433.4" y="813.4"/><use href="#b" x="438.9" y="813.8"/><use href="#b" x="446.8" y="816.3"/><use href="#b" x="448.8" y="822.2"/><use href="#b" x="446.2" y="825.2"/><use href="#b" x="428.5" y="825.2"/><use href="#b" x="482.9" y="815.3"/><use href="#b" x="489.2" y="813"/><use href="#b" x="520.3" y="812"/><use href="#b" x="554.2" y="811.4"/><use href="#b" x="577.3" y="810"/><use href="#b" x="577.5" y="820.3"/><use href="#b" x="585.7" y="820.3"/><use href="#b" x="592.2" y="822.8"/><use href="#b" x="539.4" y="830.5"/><use href="#b" x="513.4" y="834.5"/><use href="#b" x="467.5" y="838.6"/><use href="#b" x="421.6" y="837"/><use href="#b" x="378.8" y="840"/><use href="#b" x="502.6" y="842.9"/><use href="#b" x="500.4" y="847.3"/><use href="#b" x="423.2" y="849.8"/><use href="#b" x="565.6" y="836.6"/><use href="#b" x="555.2" y="845.3"/><use href="#b" x="536.1" y="848.8"/><use href="#b" x="562.1" y="850.4"/><use href="#b" x="392" y="862.2"/><use href="#b" x="412.7" y="867"/><use href="#b" x="451.3" y="862.2"/><use href="#b" x="519.7" y="868.5"/><use href="#b" x="524.7" y="871.9"/><use href="#b" x="544.4" y="867.6"/><use href="#b" x="553.6" y="869.5"/><use href="#b" x="480.7" y="877"/><use href="#b" x="487.6" y="882.3"/><use href="#b" x="481.7" y="886.7"/><use href="#b" x="537.9" y="880.4"/><use href="#b" x="565.6" y="883.3"/><use href="#b" x="529.6" y="887.3"/><use href="#b" x="417.3" y="894.8"/><use href="#b" x="428.7" y="901.1"/><use href="#b" x="478.3" y="898.1"/><use href="#b" x="491.7" y="899.1"/><use href="#b" x="505.3" y="901.5"/><use href="#b" x="519.7" y="902"/><use href="#b" x="523.7" y="905.6"/><use href="#b" x="534.1" y="904"/><use href="#b" x="537.5" y="904.4"/><use href="#b" x="547.3" y="902"/><use href="#b" x="543" y="910.5"/><use href="#b" x="565" y="912.3"/><use href="#b" x="577.5" y="913.9"/><use href="#b" x="578.8" y="916.4"/><use href="#b" x="439.9" y="912.9"/><use href="#b" x="511.8" y="925.7"/><use href="#b" x="539.4" y="928.3"/><use href="#b" x="525.6" y="932.6"/><use href="#b" x="553.6" y="932"/><use href="#b" x="571" y="934.2"/><use href="#b" x="564.5" y="935.1"/><use href="#b" x="507.9" y="938.5"/><use href="#b" x="518.1" y="942"/><use href="#b" x="533.5" y="941.1"/><use href="#b" x="541.4" y="940.5"/><use href="#b" x="531.5" y="947"/><use href="#b" x="563.1" y="944"/><use href="#b" x="515.4" y="950.3"/><use href="#b" x="576.3" y="952.3"/><use href="#b" x="441.5" y="949.9"/><use href="#b" x="447.8" y="954.9"/><use href="#b" x="397.2" y="952.9"/><use href="#b" x="375.9" y="956.6"/><use href="#b" x="478.9" y="959.2"/><use href="#b" x="558.1" y="957.8"/><use href="#b" x="529.6" y="958.2"/></g>
<path d="M88.65 807.00H646.80M527.00 703.50V1214.90" stroke="#000" stroke-width="4.5" stroke-dasharray="17.65 17.65" fill="none"/>
<path d="M84.35 1191.80H88.65M113.90 1214.90V1219.20M84.35 1075.47H88.65M240.78 1214.90V1219.20M84.35 959.15H88.65M367.65 1214.90V1219.20M84.35 842.83H88.65M494.52 1214.90V1219.20M84.35 726.50H88.65M621.40 1214.90V1219.20" stroke="#353a3e" stroke-width="4.6" fill="none"/>
<rect x="88.65" y="703.50" width="558.15" height="511.40" fill="none" stroke="#353a3e" stroke-width="4.6" stroke-linejoin="round"/>
<text x="65.36" y="1199.20" font-size="28.4" fill="#231815" textLength="14.75" lengthAdjust="spacingAndGlyphs">0</text>
<text x="107.71" y="1244.20" font-size="28.4" fill="#231815" textLength="14.75" lengthAdjust="spacingAndGlyphs">0</text>
<text x="48.68" y="1082.88" font-size="28.4" fill="#231815">25</text>
<text x="219.56" y="1244.20" font-size="28.4" fill="#231815">25</text>
<text x="48.60" y="966.55" font-size="28.4" fill="#231815">50</text>
<text x="346.13" y="1244.20" font-size="28.4" fill="#231815">50</text>
<text x="48.68" y="850.23" font-size="28.4" fill="#231815">75</text>
<text x="473.79" y="1244.20" font-size="28.4" fill="#231815">75</text>
<text x="35.86" y="733.90" font-size="28.4" fill="#231815" textLength="44.26" lengthAdjust="spacingAndGlyphs">100</text>
<text x="598.67" y="1244.20" font-size="28.4" fill="#231815" textLength="44.26" lengthAdjust="spacingAndGlyphs">100</text>
<text x="20.00" y="1214.94" transform="rotate(-90 20.00 1214.94)" font-size="27.1" fill="#000">clinic−RadmC score (cutoff value=82.7)</text>
<text x="146.04" y="1279.70" font-size="27.1" fill="#231815" textLength="426.16" lengthAdjust="spacingAndGlyphs">6bp−5mC score (cutoff value=81.4)</text>
<circle cx="190.75" cy="680.6" r="9.8" fill="#df202e" stroke="#231815" stroke-width="1"/>
<circle cx="440.1" cy="680.6" r="9.8" fill="#2a74ae" stroke="#231815" stroke-width="1"/>
<text x="228.30" y="689.40" font-size="24.5" fill="#000" textLength="105.87" lengthAdjust="spacingAndGlyphs">Malignant</text>
<text x="477.27" y="689.40" font-size="24.5" fill="#000" textLength="76.90" lengthAdjust="spacingAndGlyphs">Benign</text>
<text x="105.53" y="743.80" font-size="33.4" fill="#231815" textLength="66.94" lengthAdjust="spacingAndGlyphs">106*</text>
<text x="586.27" y="1194.10" font-size="33.4" fill="#231815" textLength="36.19" lengthAdjust="spacingAndGlyphs">22</text>
<text x="625.31" y="1184.80" font-size="22.8" fill="#231815">#</text>
</g>
<g id="panelE">
<text x="718.32" y="666.70" font-size="39" fill="#000" font-weight="bold" textLength="24.09" lengthAdjust="spacingAndGlyphs">E</text>
<g stroke="#231815" stroke-width="1"><use href="#r" x="1223.6" y="780.5"/><use href="#r" x="1160.8" y="794.8"/><use href="#r" x="1210.9" y="757.3"/><use href="#r" x="1280.1" y="739.2"/><use href="#r" x="1177.6" y="773.6"/><use href="#r" x="1194.9" y="775.6"/><use href="#r" x="1223.6" y="752.8"/><use href="#r" x="1260.4" y="741.8"/><use href="#r" x="1191.3" y="756.6"/><use href="#r" x="1210.6" y="753.1"/><use href="#r" x="1154.4" y="788.8"/><use href="#r" x="1180.9" y="799.4"/><use href="#r" x="1285.2" y="737.1"/><use href="#r" x="1192.1" y="768.3"/><use href="#r" x="1269" y="749.8"/><use href="#r" x="1279.9" y="761.3"/><use href="#r" x="1192.6" y="811.4"/><use href="#r" x="1280.4" y="753.4"/><use href="#r" x="1279.7" y="733.6"/><use href="#r" x="1222.9" y="748.4"/><use href="#r" x="1235.5" y="807.2"/><use href="#r" x="1277.7" y="748.7"/><use href="#r" x="1242.9" y="745.6"/><use href="#r" x="1194.4" y="756.7"/><use href="#r" x="1261" y="752"/><use href="#r" x="1142.9" y="786.7"/><use href="#r" x="1229.9" y="746.9"/><use href="#r" x="1273.4" y="765.9"/><use href="#r" x="1255" y="746.9"/><use href="#r" x="1285.4" y="740.6"/><use href="#r" x="1192.4" y="798.1"/><use href="#r" x="1273.6" y="809.9"/><use href="#r" x="1262.3" y="742.5"/><use href="#r" x="1120.1" y="799.4"/><use href="#r" x="1268.2" y="757.8"/><use href="#r" x="1237.3" y="748.6"/><use href="#r" x="1280.4" y="733.7"/><use href="#r" x="1271.1" y="740.4"/><use href="#r" x="1221.4" y="757"/><use href="#r" x="1200.6" y="768.3"/><use href="#r" x="1245.4" y="744.5"/><use href="#r" x="1274.9" y="759.6"/><use href="#r" x="1279.8" y="731.1"/><use href="#r" x="1257.3" y="748.4"/><use href="#r" x="1214.8" y="757.6"/><use href="#r" x="1275" y="752.4"/><use href="#r" x="1191.8" y="774.4"/><use href="#r" x="1239.6" y="753"/><use href="#r" x="1154.1" y="806.9"/><use href="#r" x="1218" y="747.2"/><use href="#r" x="1212.7" y="758"/><use href="#r" x="1291.9" y="738.2"/><use href="#r" x="1201.1" y="768.1"/><use href="#r" x="1193.6" y="781.6"/><use href="#r" x="1278.2" y="738.6"/><use href="#r" x="1264" y="735.1"/><use href="#r" x="1191" y="763.2"/><use href="#r" x="1250.3" y="805"/><use href="#r" x="1254.4" y="779.6"/><use href="#r" x="1288.5" y="731.1"/><use href="#r" x="1273.4" y="734.4"/><use href="#r" x="1185.1" y="766.3"/><use href="#r" x="1254.5" y="745.1"/><use href="#r" x="1262.1" y="744.2"/><use href="#r" x="1222.6" y="759.7"/><use href="#r" x="1283" y="730.1"/><use href="#r" x="1125.3" y="799.1"/><use href="#r" x="1155" y="782.4"/><use href="#r" x="1258.5" y="765.9"/><use href="#r" x="1251.1" y="753.1"/><use href="#r" x="1174" y="770.9"/><use href="#r" x="1240.5" y="754.3"/><use href="#r" x="1235.2" y="742.9"/><use href="#r" x="1199.5" y="763.8"/><use href="#r" x="1181.2" y="762.2"/><use href="#r" x="1116.3" y="793.4"/><use href="#r" x="1234.1" y="799.6"/><use href="#r" x="1238.9" y="744.2"/><use href="#r" x="1251.6" y="759.5"/><use href="#r" x="1237.7" y="763.1"/><use href="#r" x="1277.5" y="734.7"/><use href="#r" x="1268.6" y="736.9"/><use href="#r" x="1245.2" y="762.2"/><use href="#r" x="1193.6" y="791.1"/><use href="#r" x="1277" y="761.3"/><use href="#r" x="1256.3" y="753.3"/><use href="#r" x="1241.8" y="743.1"/><use href="#r" x="1124.4" y="782.9"/><use href="#r" x="1278.2" y="730.8"/><use href="#r" x="1205" y="788"/><use href="#r" x="1238.7" y="774.7"/><use href="#r" x="1225.9" y="758"/><use href="#r" x="1152.6" y="786"/><use href="#r" x="1209.1" y="781.8"/><use href="#r" x="1266.1" y="773.1"/><use href="#r" x="1257.1" y="773.2"/><use href="#r" x="1250.3" y="749.1"/><use href="#r" x="1145.4" y="779.9"/><use href="#r" x="1237.4" y="757.6"/><use href="#r" x="1173" y="769.5"/><use href="#r" x="1242.9" y="757.8"/><use href="#r" x="1237.5" y="747.5"/><use href="#r" x="1195.4" y="779.8"/><use href="#r" x="1290.8" y="730.2"/><use href="#r" x="1185.9" y="808.4"/><use href="#r" x="1249.8" y="803.3"/><use href="#r" x="1172.3" y="760.8"/><use href="#r" x="1256.6" y="772.5"/><use href="#r" x="1276.9" y="763.8"/><use href="#r" x="1283.6" y="744.7"/><use href="#r" x="1283.7" y="745"/><use href="#r" x="1238.9" y="806.3"/><use href="#r" x="1179.7" y="808.6"/><use href="#r" x="1252.3" y="744.9"/><use href="#r" x="1194.3" y="792.9"/><use href="#r" x="1211.6" y="757.6"/><use href="#r" x="1289.1" y="731.2"/><use href="#r" x="1220.2" y="768.8"/><use href="#r" x="1263.1" y="737.4"/><use href="#r" x="1193.2" y="756.3"/><use href="#r" x="1280.7" y="747.9"/><use href="#r" x="1205.9" y="776"/><use href="#r" x="1271.8" y="757.3"/><use href="#r" x="1270.1" y="751.9"/><use href="#r" x="1219.7" y="757.1"/><use href="#r" x="1280.4" y="741.9"/><use href="#r" x="1243.5" y="765"/><use href="#r" x="1157.9" y="796"/><use href="#r" x="1286.7" y="740.7"/><use href="#r" x="1222.1" y="756.4"/><use href="#r" x="1292.4" y="729.2"/><use href="#r" x="1137.6" y="799.3"/><use href="#r" x="1246.1" y="747.6"/><use href="#r" x="1189.1" y="800"/><use href="#r" x="1281.9" y="741.3"/><use href="#r" x="1215.7" y="779.6"/><use href="#r" x="1177.4" y="772.1"/><use href="#r" x="1252.5" y="770.7"/><use href="#r" x="1235.4" y="778.3"/><use href="#r" x="1276.9" y="748.2"/><use href="#r" x="1279.5" y="732.5"/><use href="#r" x="1228.6" y="750.4"/><use href="#r" x="1262.4" y="739.3"/><use href="#r" x="1293.1" y="732.4"/><use href="#r" x="1181.2" y="762.4"/><use href="#r" x="1224.3" y="767.4"/><use href="#r" x="1260.8" y="748.6"/><use href="#r" x="1148.4" y="800.7"/><use href="#r" x="1218.4" y="770.3"/><use href="#r" x="1221.2" y="771.2"/><use href="#r" x="1287" y="743.2"/><use href="#r" x="1230.1" y="810.4"/><use href="#r" x="1203.1" y="768.6"/><use href="#r" x="1275.7" y="734.6"/><use href="#r" x="1243.8" y="762.6"/><use href="#r" x="1268.3" y="752.6"/><use href="#r" x="1199.1" y="778.6"/><use href="#r" x="1204.5" y="801.9"/><use href="#r" x="1225.6" y="782.7"/><use href="#r" x="1259" y="768.8"/><use href="#r" x="1157.1" y="791.7"/><use href="#r" x="1260.6" y="740.2"/><use href="#r" x="1210.2" y="760.6"/><use href="#r" x="1168.9" y="773.3"/><use href="#r" x="1261.9" y="772.8"/><use href="#r" x="1286.6" y="732.9"/><use href="#r" x="1159.3" y="776"/><use href="#r" x="1230.5" y="762.2"/><use href="#r" x="1254.6" y="768.4"/><use href="#r" x="1263.8" y="736.2"/><use href="#r" x="1294" y="732.8"/><use href="#r" x="1226.7" y="746.7"/><use href="#r" x="1247.6" y="760.9"/><use href="#r" x="1228.3" y="764.3"/><use href="#r" x="1224.8" y="764.5"/><use href="#r" x="1263.4" y="764.4"/><use href="#r" x="1129.4" y="802.6"/><use href="#r" x="1273.3" y="734.7"/><use href="#r" x="1244.5" y="775.2"/><use href="#r" x="1266.3" y="743"/><use href="#r" x="1172.3" y="775.6"/><use href="#r" x="1187.4" y="757.3"/><use href="#r" x="1196.7" y="759.9"/><use href="#r" x="1281.5" y="755.5"/><use href="#r" x="1236.9" y="753.2"/><use href="#r" x="1214.6" y="807.4"/><use href="#r" x="1285.4" y="738.3"/><use href="#r" x="1261" y="740.2"/><use href="#r" x="1272.9" y="787.9"/><use href="#r" x="1259.8" y="753.8"/><use href="#r" x="1279.6" y="736"/><use href="#r" x="1275.9" y="734.1"/><use href="#r" x="1287" y="730.8"/><use href="#r" x="1227.9" y="766.9"/><use href="#r" x="1211.9" y="769.1"/><use href="#r" x="1283.7" y="732.1"/><use href="#r" x="1191.9" y="768.9"/><use href="#r" x="1179.6" y="806.4"/><use href="#r" x="1172.6" y="773.4"/><use href="#r" x="1188.9" y="781.1"/><use href="#r" x="1189.3" y="780"/><use href="#r" x="1243.2" y="772.3"/><use href="#r" x="1192.3" y="777"/><use href="#r" x="1257.3" y="766.9"/><use href="#r" x="1156.6" y="775.2"/><use href="#r" x="1212.1" y="812.9"/><use href="#r" x="1192.4" y="779.9"/><use href="#r" x="1178.4" y="779.2"/><use href="#r" x="1189.7" y="793.9"/><use href="#r" x="1277.5" y="751.1"/><use href="#r" x="1142.6" y="791.1"/><use href="#r" x="1193" y="787.1"/><use href="#r" x="1209.5" y="764.8"/><use href="#r" x="1286.5" y="731.9"/><use href="#r" x="1230.6" y="756.6"/><use href="#r" x="1175.1" y="796.8"/><use href="#r" x="1196.9" y="754.2"/><use href="#r" x="1216.9" y="805.1"/><use href="#r" x="1215.4" y="770.8"/><use href="#r" x="1269.7" y="747.8"/><use href="#r" x="1224.3" y="763.3"/><use href="#r" x="1281.6" y="747.1"/><use href="#r" x="1256.3" y="790.2"/><use href="#r" x="1206.3" y="749.3"/><use href="#r" x="1229" y="749.2"/><use href="#r" x="1171.4" y="765.5"/><use href="#r" x="1271.4" y="757.3"/><use href="#r" x="1231.5" y="761.9"/><use href="#r" x="1194" y="759"/><use href="#r" x="1211.3" y="806.4"/><use href="#r" x="1191.9" y="773.7"/><use href="#r" x="1239.3" y="772"/><use href="#r" x="1253.1" y="767.6"/><use href="#r" x="1139.7" y="782.9"/><use href="#r" x="1276" y="746.3"/><use href="#r" x="1190.1" y="793.2"/><use href="#r" x="1189.1" y="769.4"/><use href="#r" x="1281.6" y="736.4"/><use href="#r" x="1199.3" y="758.1"/><use href="#r" x="1223.9" y="776"/><use href="#r" x="1262.5" y="747.7"/><use href="#r" x="1276.1" y="733.1"/><use href="#r" x="1277.4" y="733.7"/><use href="#r" x="1290.3" y="730.4"/><use href="#r" x="1253.7" y="767.3"/><use href="#r" x="1278.4" y="733.8"/><use href="#r" x="1229.4" y="747.9"/><use href="#r" x="1235.7" y="762.8"/><use href="#r" x="1250.5" y="763.6"/><use href="#r" x="1211.2" y="757.1"/><use href="#r" x="1263.3" y="758.9"/><use href="#r" x="1285.6" y="736.3"/><use href="#r" x="1238" y="754.1"/><use href="#r" x="1266.1" y="790.8"/><use href="#r" x="1283.5" y="732"/><use href="#r" x="1132.2" y="792.7"/><use href="#r" x="1228" y="774.2"/><use href="#r" x="1179.9" y="810.3"/><use href="#r" x="1207.2" y="754"/><use href="#r" x="1282.2" y="756.3"/><use href="#r" x="1221" y="776.8"/><use href="#r" x="1266.6" y="789"/><use href="#r" x="1234.9" y="748"/><use href="#r" x="1197.9" y="765.3"/><use href="#r" x="1206.7" y="791"/><use href="#r" x="1219.2" y="758.4"/><use href="#r" x="1189" y="777.9"/><use href="#r" x="1241.5" y="747"/><use href="#r" x="1257.5" y="759.1"/><use href="#r" x="1233.2" y="799.2"/><use href="#r" x="1248.7" y="741.4"/><use href="#r" x="1269.6" y="768.1"/><use href="#r" x="1239.6" y="760.2"/><use href="#r" x="1242.8" y="759.7"/><use href="#r" x="1279.1" y="739"/><use href="#r" x="1245.7" y="772.8"/><use href="#r" x="1260.7" y="754.3"/><use href="#r" x="1264.2" y="752.1"/><use href="#r" x="1204.7" y="758.7"/><use href="#r" x="1192.2" y="771.7"/><use href="#r" x="1290.6" y="731.6"/><use href="#r" x="1256.2" y="743.6"/><use href="#r" x="1251.8" y="746.3"/><use href="#r" x="1232.2" y="745.3"/><use href="#r" x="1196.7" y="782.3"/><use href="#r" x="1195.2" y="807.1"/><use href="#r" x="1209.6" y="764.5"/><use href="#r" x="1203.6" y="754.8"/><use href="#r" x="1215.4" y="812.4"/><use href="#r" x="1260.9" y="795.5"/><use href="#r" x="1220.2" y="753.4"/><use href="#r" x="1246.3" y="809.4"/><use href="#r" x="1292" y="730.6"/><use href="#r" x="1206.5" y="770.2"/><use href="#r" x="1278.8" y="733"/><use href="#r" x="1214.4" y="765.1"/><use href="#r" x="1233.9" y="765.8"/><use href="#r" x="1215.2" y="801.8"/><use href="#r" x="1163.2" y="796.8"/><use href="#r" x="1290.5" y="734.8"/><use href="#r" x="1182.3" y="780.6"/><use href="#r" x="1154.6" y="780.1"/><use href="#r" x="1241.5" y="748.3"/><use href="#r" x="1180.9" y="781.1"/><use href="#r" x="1220.9" y="766.6"/><use href="#r" x="1176.3" y="793.2"/><use href="#r" x="1179" y="796.7"/><use href="#r" x="1170.7" y="767.6"/><use href="#r" x="1254.9" y="812.5"/><use href="#r" x="1189" y="763.7"/><use href="#r" x="1259.6" y="747.1"/><use href="#r" x="1247.2" y="755"/><use href="#r" x="1179.4" y="788.1"/><use href="#r" x="1153.8" y="800.9"/><use href="#r" x="1246.2" y="749"/><use href="#r" x="1229.5" y="748.6"/><use href="#r" x="1233.5" y="767.3"/><use href="#r" x="1260.1" y="745.8"/><use href="#r" x="1203" y="756.8"/><use href="#r" x="1175.7" y="797.2"/><use href="#r" x="1158.6" y="807.4"/><use href="#r" x="1251.3" y="769.7"/><use href="#r" x="1210.7" y="764.3"/><use href="#r" x="1149.6" y="784.4"/><use href="#r" x="1253.9" y="762.4"/><use href="#r" x="1212.7" y="795.5"/><use href="#r" x="1229.5" y="746.6"/><use href="#r" x="1215" y="753.8"/><use href="#r" x="1244.2" y="761.1"/><use href="#r" x="1287.8" y="730.6"/><use href="#r" x="1187.6" y="805.8"/><use href="#r" x="1206.6" y="759.7"/><use href="#r" x="1276.2" y="734.7"/><use href="#r" x="1275.4" y="735.9"/><use href="#r" x="1165.9" y="788.8"/><use href="#r" x="1269.2" y="749.6"/><use href="#r" x="1141.2" y="787.8"/><use href="#r" x="1201.5" y="779.4"/><use href="#r" x="1142.9" y="795.1"/><use href="#r" x="1280.2" y="754.4"/><use href="#r" x="1279.8" y="732.1"/><use href="#r" x="1220.8" y="784.5"/><use href="#r" x="1282" y="762.4"/><use href="#r" x="1202.5" y="762.8"/><use href="#r" x="1281" y="745.3"/><use href="#r" x="1244.4" y="771.5"/><use href="#r" x="1288.5" y="732.8"/><use href="#r" x="1165.4" y="788.5"/><use href="#r" x="1165.4" y="803.6"/><use href="#r" x="1201.3" y="754.9"/><use href="#r" x="1194.3" y="769.5"/><use href="#r" x="1272.6" y="734.1"/><use href="#r" x="1220.1" y="750.4"/><use href="#r" x="1181.4" y="765.7"/><use href="#r" x="1273.8" y="768.5"/><use href="#r" x="1270.4" y="810.8"/><use href="#r" x="1220.1" y="797.2"/><use href="#r" x="1279.5" y="735.6"/><use href="#r" x="1264.7" y="743.7"/><use href="#r" x="1213.6" y="775.8"/><use href="#r" x="1239.3" y="780.8"/><use href="#r" x="1202.5" y="754.2"/><use href="#r" x="1203.8" y="810.7"/><use href="#r" x="1261.7" y="771.8"/><use href="#r" x="1264.2" y="776"/><use href="#r" x="1227.1" y="760.5"/><use href="#r" x="1229.4" y="755.9"/><use href="#r" x="1213.1" y="769.8"/><use href="#r" x="1225" y="759.3"/><use href="#r" x="1241.3" y="799.4"/><use href="#r" x="1250.3" y="749.9"/><use href="#r" x="1269" y="751.5"/><use href="#r" x="1223.6" y="772.2"/><use href="#r" x="1192.1" y="805.3"/><use href="#r" x="1215.6" y="773.1"/><use href="#r" x="1282.2" y="750.1"/><use href="#r" x="1285.5" y="747.6"/><use href="#r" x="1264.6" y="745.1"/><use href="#r" x="1264.6" y="790.1"/><use href="#r" x="1152.4" y="809.8"/><use href="#r" x="1281" y="731.6"/><use href="#r" x="1177.7" y="797.8"/><use href="#r" x="1198.4" y="783.6"/><use href="#r" x="1235" y="749.5"/><use href="#r" x="1262.9" y="749"/><use href="#r" x="1246.8" y="784.5"/><use href="#r" x="1167" y="768.8"/><use href="#r" x="1241.2" y="744.5"/><use href="#r" x="1248.7" y="744.9"/><use href="#r" x="1258.7" y="752.6"/><use href="#r" x="1274.9" y="745"/><use href="#r" x="1258.4" y="807"/><use href="#r" x="1222.8" y="759.8"/><use href="#r" x="1293" y="731.7"/><use href="#r" x="1250.1" y="754.8"/><use href="#r" x="1230.9" y="748.9"/><use href="#r" x="1265.3" y="743.2"/><use href="#r" x="1151.4" y="803.3"/><use href="#r" x="1267.7" y="736.6"/><use href="#r" x="1281" y="735.1"/><use href="#r" x="1285.1" y="735"/><use href="#r" x="1278.2" y="743.7"/><use href="#r" x="1261.4" y="739.9"/><use href="#r" x="1281.5" y="730.5"/><use href="#r" x="1292.5" y="732"/><use href="#r" x="1120.5" y="811.7"/><use href="#r" x="1242.1" y="743.8"/><use href="#r" x="1184.6" y="767"/><use href="#r" x="1253.6" y="750.9"/><use href="#r" x="1197.7" y="781.3"/><use href="#r" x="1213.9" y="802.2"/><use href="#r" x="1166" y="794.3"/><use href="#r" x="1151.1" y="781.9"/><use href="#r" x="1250.8" y="812.4"/><use href="#r" x="1182.6" y="765.1"/><use href="#r" x="1236" y="754.4"/><use href="#r" x="1191.2" y="758.4"/><use href="#r" x="1291.9" y="729.8"/><use href="#r" x="1208.1" y="774.9"/><use href="#r" x="1226.8" y="795.5"/><use href="#r" x="1143.1" y="781.6"/><use href="#r" x="1251" y="770.5"/><use href="#r" x="1230.2" y="777.2"/><use href="#r" x="1266.3" y="792.9"/><use href="#r" x="1198.1" y="761.2"/><use href="#r" x="1285.8" y="733.5"/><use href="#r" x="1283.1" y="731.6"/><use href="#r" x="1256.7" y="759.6"/><use href="#r" x="1252.2" y="755.1"/><use href="#r" x="1239.6" y="749.4"/><use href="#r" x="1268" y="739.3"/><use href="#r" x="1290.1" y="733.5"/><use href="#r" x="1135.4" y="800.6"/><use href="#r" x="1217.2" y="766.1"/><use href="#r" x="1278.5" y="733"/><use href="#r" x="1192.4" y="759.5"/><use href="#r" x="1239.1" y="745.5"/><use href="#r" x="1188.2" y="783"/><use href="#r" x="1255.4" y="775.6"/><use href="#r" x="1274.7" y="810.2"/><use href="#r" x="1159.2" y="773.9"/><use href="#r" x="1243.4" y="784.7"/><use href="#r" x="1157.5" y="790.1"/><use href="#r" x="1252.6" y="785.7"/><use href="#r" x="1190.6" y="761.6"/><use href="#r" x="1202" y="777.9"/><use href="#r" x="1191.4" y="807.6"/><use href="#r" x="1244.4" y="783.2"/><use href="#r" x="1199.8" y="762.4"/><use href="#r" x="1194.6" y="764.1"/><use href="#r" x="1216.9" y="752"/><use href="#r" x="1291" y="740.5"/><use href="#r" x="1236.2" y="751.6"/><use href="#r" x="1263.7" y="747.5"/><use href="#r" x="1233.1" y="745.3"/><use href="#r" x="1194.2" y="776.3"/><use href="#r" x="1267.8" y="752.8"/><use href="#r" x="1222.7" y="760.9"/><use href="#r" x="1246.6" y="758.5"/><use href="#r" x="1190.6" y="776.1"/><use href="#r" x="1222.4" y="769.5"/><use href="#r" x="1223" y="753.6"/><use href="#r" x="1181.7" y="773.7"/><use href="#r" x="1268.3" y="770.9"/><use href="#r" x="1254.3" y="745.4"/><use href="#r" x="1188.6" y="792.5"/><use href="#r" x="1219.6" y="774.6"/><use href="#r" x="1216.3" y="763.8"/><use href="#r" x="1225.5" y="745.8"/><use href="#r" x="1268.2" y="739.8"/><use href="#r" x="1254" y="739.9"/><use href="#r" x="1182" y="802.3"/><use href="#r" x="1195.2" y="763.7"/><use href="#r" x="1156.2" y="775.4"/><use href="#r" x="1240.3" y="744.6"/><use href="#r" x="1219.1" y="758.8"/><use href="#r" x="1226.7" y="761.8"/><use href="#r" x="1221.2" y="765.7"/><use href="#r" x="1125.3" y="810.2"/><use href="#r" x="1285.3" y="756.4"/><use href="#r" x="1221.7" y="760.1"/><use href="#r" x="1150.1" y="795"/><use href="#r" x="1246.8" y="769.1"/><use href="#r" x="1273.1" y="737.6"/><use href="#r" x="1276" y="746.2"/><use href="#r" x="1120.6" y="806.9"/><use href="#r" x="1183.5" y="765.2"/><use href="#r" x="1128.6" y="805"/><use href="#r" x="1182.2" y="787.3"/><use href="#r" x="1200" y="780.2"/><use href="#r" x="1247.8" y="754"/><use href="#r" x="1258.2" y="736.5"/><use href="#r" x="1273.7" y="748.7"/><use href="#r" x="1203.4" y="760.4"/><use href="#r" x="1257.9" y="760.5"/><use href="#r" x="1241" y="747.1"/><use href="#r" x="1203.2" y="767.8"/><use href="#r" x="1168.5" y="790.3"/><use href="#r" x="1251.9" y="764.2"/><use href="#r" x="1258.5" y="772.9"/><use href="#r" x="1178" y="758.2"/><use href="#r" x="1229" y="749.7"/><use href="#r" x="1190.9" y="757"/><use href="#r" x="1140.6" y="794.5"/><use href="#r" x="1235.9" y="763"/><use href="#r" x="1196.6" y="777.5"/><use href="#r" x="1243.1" y="759.8"/><use href="#r" x="1203.5" y="774.4"/><use href="#r" x="1182.2" y="808.6"/><use href="#r" x="1120.6" y="799.6"/><use href="#r" x="1274.9" y="750.5"/><use href="#r" x="1225.9" y="757.5"/><use href="#r" x="1293.3" y="729.2"/><use href="#r" x="1227.2" y="766.7"/><use href="#r" x="1119.3" y="792.7"/><use href="#r" x="1278.9" y="746.9"/><use href="#r" x="1235.5" y="763.9"/><use href="#r" x="1255.8" y="771.1"/><use href="#r" x="1268" y="735.2"/><use href="#r" x="1234.6" y="760.2"/><use href="#r" x="1290.8" y="734.9"/><use href="#r" x="1248.9" y="749.5"/><use href="#r" x="1206.4" y="797"/><use href="#r" x="1172.2" y="810.9"/><use href="#r" x="1286.1" y="732.4"/><use href="#r" x="1269.9" y="803.8"/><use href="#r" x="1278.9" y="733.5"/><use href="#r" x="1229.8" y="780"/><use href="#r" x="1182.8" y="807.6"/><use href="#r" x="1267.7" y="752.9"/><use href="#r" x="1265.8" y="766.8"/><use href="#r" x="1252.7" y="749.6"/><use href="#r" x="1215.5" y="759.2"/><use href="#r" x="1278" y="733.9"/><use href="#r" x="1148.7" y="794.7"/><use href="#r" x="1236.3" y="800"/><use href="#r" x="1255.7" y="769.9"/><use href="#r" x="1136.5" y="784.7"/><use href="#r" x="1132.3" y="784.5"/><use href="#r" x="1264.9" y="739.7"/><use href="#r" x="1239" y="742.5"/><use href="#r" x="1275.6" y="768.1"/><use href="#r" x="1282.2" y="732.7"/><use href="#r" x="1282.8" y="746.8"/><use href="#r" x="1213.9" y="811.9"/><use href="#r" x="1216.7" y="756.4"/><use href="#r" x="1283.8" y="743.8"/><use href="#r" x="1227.7" y="757.7"/><use href="#r" x="1246.7" y="769.1"/><use href="#r" x="1253.8" y="766"/><use href="#r" x="1152.1" y="775.2"/><use href="#r" x="1279.7" y="739.5"/><use href="#r" x="1256.9" y="742"/><use href="#r" x="1273.1" y="735.4"/><use href="#r" x="1221.7" y="779.3"/><use href="#r" x="1237.6" y="750.3"/><use href="#r" x="1177.3" y="770.1"/><use href="#r" x="1247.4" y="738.7"/><use href="#r" x="1226.9" y="752.2"/><use href="#r" x="1253.6" y="741.2"/><use href="#r" x="1225" y="775.2"/><use href="#r" x="1154.8" y="789.2"/><use href="#r" x="1247.4" y="758.9"/><use href="#r" x="1163.9" y="769.7"/><use href="#r" x="1158.8" y="781.3"/><use href="#r" x="1119.5" y="792.7"/><use href="#r" x="1226.5" y="745.4"/><use href="#r" x="1174.5" y="777.3"/><use href="#r" x="1283.6" y="736.7"/><use href="#r" x="1277.6" y="752.3"/><use href="#r" x="1185.2" y="795.9"/><use href="#r" x="1120" y="811.5"/><use href="#r" x="1248.5" y="765.6"/><use href="#r" x="1269.2" y="737.7"/><use href="#r" x="1158.9" y="810.8"/><use href="#r" x="1196.9" y="755.5"/><use href="#r" x="1190.7" y="774.1"/><use href="#r" x="1195.7" y="801.9"/><use href="#r" x="1248.8" y="756.5"/><use href="#r" x="1248.3" y="764.2"/><use href="#r" x="1235.8" y="765.8"/><use href="#r" x="1256.1" y="737.4"/><use href="#r" x="1228" y="765.2"/><use href="#r" x="1219.8" y="752.7"/><use href="#r" x="1276.4" y="767.9"/><use href="#r" x="1251" y="768"/><use href="#r" x="1141.4" y="787"/><use href="#r" x="1191" y="811.2"/><use href="#r" x="1226.3" y="763.6"/><use href="#r" x="1237.6" y="745.1"/><use href="#r" x="1253.6" y="748"/><use href="#r" x="1164.3" y="773.1"/><use href="#r" x="1154" y="796.7"/><use href="#r" x="1283.4" y="731.4"/><use href="#r" x="1237.9" y="753.9"/><use href="#r" x="1207.4" y="765.8"/><use href="#r" x="1206.1" y="781.9"/><use href="#r" x="1256.7" y="760.5"/><use href="#r" x="1276.5" y="765.4"/><use href="#r" x="1213.7" y="767.2"/><use href="#r" x="1258.2" y="772.2"/><use href="#r" x="1151.9" y="781.6"/><use href="#r" x="1272.8" y="771.2"/><use href="#r" x="1215.3" y="801.4"/><use href="#r" x="1211.8" y="749.6"/><use href="#r" x="1281.4" y="737.8"/><use href="#r" x="1270.7" y="735.6"/><use href="#r" x="1246" y="739.5"/><use href="#r" x="1196.1" y="767.6"/><use href="#r" x="1165.4" y="800.4"/><use href="#r" x="1203.6" y="783.1"/><use href="#r" x="1227.1" y="774.3"/><use href="#r" x="1178.1" y="766.3"/><use href="#r" x="1181.1" y="766.6"/><use href="#r" x="1207.5" y="756.9"/><use href="#r" x="1279.1" y="765"/><use href="#r" x="1162.9" y="794.5"/><use href="#r" x="1268.6" y="745.1"/><use href="#r" x="1200.8" y="751.6"/><use href="#r" x="1270.5" y="755.3"/><use href="#r" x="1276.3" y="757.8"/><use href="#r" x="1244.4" y="761.3"/><use href="#r" x="1270" y="748.5"/><use href="#r" x="1134.7" y="803.1"/><use href="#r" x="1230.9" y="795.2"/><use href="#r" x="1149.7" y="809.1"/><use href="#r" x="1247.2" y="762.7"/><use href="#r" x="1149" y="779.9"/><use href="#r" x="1239.6" y="748"/><use href="#r" x="1272.7" y="745.3"/><use href="#r" x="1268.9" y="770.2"/><use href="#r" x="1214.3" y="756.3"/><use href="#r" x="1185.7" y="781.7"/><use href="#r" x="1251.5" y="745"/><use href="#r" x="1217.2" y="759.2"/><use href="#r" x="1269.9" y="791.9"/><use href="#r" x="1223.6" y="772"/><use href="#r" x="1189.6" y="764.1"/><use href="#r" x="1233.7" y="762.3"/><use href="#r" x="1268.2" y="770.4"/><use href="#r" x="1294.6" y="731.4"/><use href="#r" x="1286.9" y="734.8"/><use href="#r" x="1273.6" y="757.9"/><use href="#r" x="1151" y="783.2"/><use href="#r" x="1253.3" y="769.9"/><use href="#r" x="1268.4" y="771"/><use href="#r" x="1204.5" y="760.9"/><use href="#r" x="1192.7" y="786.3"/><use href="#r" x="1226.7" y="745.6"/><use href="#r" x="1272.8" y="733.5"/><use href="#r" x="1271.4" y="772.1"/><use href="#r" x="1219.4" y="777"/><use href="#r" x="1200.5" y="756.4"/><use href="#r" x="1284.4" y="751.1"/><use href="#r" x="1147.1" y="785.1"/><use href="#r" x="1252.1" y="768.8"/><use href="#r" x="1273.2" y="812.5"/><use href="#r" x="1225.3" y="778.8"/><use href="#r" x="1214.4" y="757.1"/><use href="#r" x="1217.2" y="758.1"/><use href="#r" x="1236.2" y="773.9"/><use href="#r" x="1134" y="789.1"/><use href="#r" x="1277.5" y="739.3"/><use href="#r" x="1257.7" y="741.6"/><use href="#r" x="1232.5" y="789.6"/><use href="#b" x="1269" y="756.2"/><use href="#b" x="1277.9" y="744.4"/><use href="#b" x="1277.2" y="760.7"/><use href="#b" x="1279.8" y="762.1"/><use href="#b" x="1238.7" y="763.4"/><use href="#b" x="1207.8" y="762.6"/><use href="#b" x="1251.4" y="751.4"/><use href="#b" x="1231.6" y="768.1"/><use href="#b" x="1253.2" y="771.6"/><use href="#b" x="1238.4" y="764.5"/><use href="#b" x="1237.4" y="770.2"/><use href="#b" x="1256" y="772.8"/><use href="#b" x="1259.5" y="807"/><use href="#b" x="1201.8" y="800.5"/><use href="#b" x="1203.6" y="808.4"/><use href="#b" x="1236.1" y="788.8"/><use href="#b" x="1256.5" y="809"/><use href="#b" x="1193.1" y="799.7"/><use href="#b" x="1252.7" y="803.5"/><use href="#b" x="1240.1" y="807.3"/><use href="#b" x="1187.1" y="765.3"/><use href="#b" x="1161.8" y="799.4"/><use href="#b" x="1180.4" y="795.5"/><use href="#b" x="1172" y="782.9"/><use href="#b" x="1186.5" y="774.4"/><use href="#b" x="1159.3" y="798.9"/><use href="#b" x="1151.1" y="785.8"/><use href="#b" x="1129.2" y="799.9"/><use href="#b" x="1145.3" y="779.6"/><use href="#b" x="1127.8" y="796.4"/><use href="#b" x="1132.4" y="805.6"/><use href="#r" x="891.6" y="982.8"/><use href="#r" x="895" y="984.3"/><use href="#r" x="948.6" y="984.1"/><use href="#r" x="1032.5" y="974.4"/><use href="#r" x="894.2" y="1004.1"/><use href="#r" x="878.7" y="1020"/><use href="#r" x="1040.6" y="1026.3"/><use href="#r" x="912" y="1042.1"/><use href="#r" x="890.6" y="1047.1"/><use href="#r" x="888.6" y="1053"/><use href="#r" x="1028.1" y="1048.5"/><use href="#r" x="853.6" y="1061.5"/><use href="#r" x="851.4" y="1072.8"/><use href="#r" x="860.3" y="1073.2"/><use href="#r" x="844.7" y="1085.7"/><use href="#r" x="876.8" y="1086.2"/><use href="#r" x="830.7" y="1092.2"/><use href="#r" x="902.1" y="1095"/><use href="#r" x="942.1" y="1098.1"/><use href="#r" x="827.9" y="1100.5"/><use href="#r" x="821.4" y="1104.5"/><use href="#r" x="818" y="1112.4"/><use href="#r" x="820.4" y="1115.3"/><use href="#r" x="836.2" y="1116.9"/><use href="#r" x="805.5" y="1134.5"/><use href="#r" x="805.5" y="1137.7"/><use href="#r" x="920.9" y="1136.7"/><use href="#r" x="956.9" y="1132.2"/><use href="#r" x="841.7" y="1145.6"/><use href="#r" x="807.1" y="1151.3"/><use href="#r" x="811.5" y="1152.9"/><use href="#r" x="817.8" y="1153.9"/><use href="#r" x="805.9" y="1158.5"/><use href="#r" x="797.6" y="1161.8"/><use href="#r" x="975.1" y="1155.5"/><use href="#r" x="1009" y="1157.3"/><use href="#r" x="800" y="1171.3"/><use href="#r" x="844.7" y="1174.7"/><use href="#r" x="791.7" y="1183.6"/><use href="#b" x="924.7" y="960"/><use href="#b" x="931.8" y="965.3"/><use href="#b" x="940.1" y="963"/><use href="#b" x="945" y="967.5"/><use href="#b" x="921.3" y="969.3"/><use href="#b" x="953.3" y="971.3"/><use href="#b" x="929.8" y="977.2"/><use href="#b" x="946" y="976.8"/><use href="#b" x="1035.7" y="964"/><use href="#b" x="1041" y="965.9"/><use href="#b" x="1011.9" y="975.8"/><use href="#b" x="1025.2" y="983.3"/><use href="#b" x="915" y="992.1"/><use href="#b" x="940.1" y="985.7"/><use href="#b" x="936.1" y="987.7"/><use href="#b" x="934.2" y="990.3"/><use href="#b" x="1001" y="996.2"/><use href="#b" x="898.1" y="1003.1"/><use href="#b" x="945.4" y="1008.1"/><use href="#b" x="1015.7" y="1005.1"/><use href="#b" x="914.4" y="1011.4"/><use href="#b" x="891.6" y="1012.8"/><use href="#b" x="897.2" y="1014"/><use href="#b" x="975.3" y="1017.8"/><use href="#b" x="1033.7" y="1019.8"/><use href="#b" x="893.2" y="1021.9"/><use href="#b" x="891.2" y="1025.3"/><use href="#b" x="927.2" y="1025.3"/><use href="#b" x="966.4" y="1024.7"/><use href="#b" x="968.4" y="1028.3"/><use href="#b" x="1009" y="1023.3"/><use href="#b" x="1020.2" y="1022.9"/><use href="#b" x="1029.7" y="1029.3"/><use href="#b" x="904.1" y="1030.8"/><use href="#b" x="907.8" y="1029.3"/><use href="#b" x="886.1" y="1033.8"/><use href="#b" x="926.8" y="1034.2"/><use href="#b" x="950" y="1035.2"/><use href="#b" x="1005" y="1033.6"/><use href="#b" x="989.2" y="1035.2"/><use href="#b" x="995.1" y="1040.7"/><use href="#b" x="861.5" y="1038.8"/><use href="#b" x="908.4" y="1038.8"/><use href="#b" x="884.3" y="1045.5"/><use href="#b" x="859" y="1047.7"/><use href="#b" x="902.9" y="1051.6"/><use href="#b" x="911.4" y="1055.6"/><use href="#b" x="878.2" y="1057.4"/><use href="#b" x="1021.2" y="1058.5"/><use href="#b" x="868.5" y="1063.9"/><use href="#b" x="990.2" y="1066.9"/><use href="#b" x="1040" y="1066.9"/><use href="#b" x="869.8" y="1070.8"/><use href="#b" x="869.4" y="1074.4"/><use href="#b" x="853.6" y="1074.8"/><use href="#b" x="854" y="1078.7"/><use href="#b" x="911" y="1071.8"/><use href="#b" x="976.1" y="1073.2"/><use href="#b" x="927.2" y="1079.1"/><use href="#b" x="992.1" y="1079.3"/><use href="#b" x="1004.4" y="1083.3"/><use href="#b" x="857" y="1086"/><use href="#b" x="918.9" y="1085.7"/><use href="#b" x="930.6" y="1085.1"/><use href="#b" x="946.6" y="1083.7"/><use href="#b" x="899.9" y="1088"/><use href="#b" x="877.2" y="1090.2"/><use href="#b" x="964.2" y="1090"/><use href="#b" x="848.5" y="1094"/><use href="#b" x="851.4" y="1098.5"/><use href="#b" x="855.4" y="1099.5"/><use href="#b" x="861.9" y="1100.1"/><use href="#b" x="860.9" y="1095"/><use href="#b" x="836.8" y="1099.9"/><use href="#b" x="834.6" y="1104.1"/><use href="#b" x="880.1" y="1103.1"/><use href="#b" x="994.5" y="1105.4"/><use href="#b" x="903.9" y="1110.4"/><use href="#b" x="822.4" y="1112.4"/><use href="#b" x="830.7" y="1113.9"/><use href="#b" x="836.6" y="1112.8"/><use href="#b" x="853" y="1114.3"/><use href="#b" x="883.3" y="1113"/><use href="#b" x="850.5" y="1118.3"/><use href="#b" x="845.1" y="1122.3"/><use href="#b" x="839.8" y="1119.9"/><use href="#b" x="838.2" y="1123.2"/><use href="#b" x="829.9" y="1122.3"/><use href="#b" x="823.9" y="1127.6"/><use href="#b" x="831.3" y="1129.8"/><use href="#b" x="868.9" y="1118.3"/><use href="#b" x="877.4" y="1124.6"/><use href="#b" x="985.6" y="1117.9"/><use href="#b" x="1010.7" y="1121.3"/><use href="#b" x="918.9" y="1122.3"/><use href="#b" x="917.7" y="1124.8"/><use href="#b" x="936.1" y="1121.7"/><use href="#b" x="928.2" y="1128.6"/><use href="#b" x="933.2" y="1131.8"/><use href="#b" x="895.6" y="1130.8"/><use href="#b" x="901.1" y="1133.5"/><use href="#b" x="913" y="1133.7"/><use href="#b" x="961.5" y="1131.8"/><use href="#b" x="946.4" y="1134.1"/><use href="#b" x="944.6" y="1138.5"/><use href="#b" x="872.4" y="1135.5"/><use href="#b" x="819.4" y="1139.5"/><use href="#b" x="822.4" y="1138.1"/><use href="#b" x="860.5" y="1142.4"/><use href="#b" x="1035.1" y="1137.7"/><use href="#b" x="1015.9" y="1140.7"/><use href="#b" x="988.2" y="1146"/><use href="#b" x="822" y="1146.4"/><use href="#b" x="819.4" y="1150"/><use href="#b" x="840.2" y="1146"/><use href="#b" x="1025.2" y="1148.6"/><use href="#b" x="1034.7" y="1151.9"/><use href="#b" x="826.3" y="1153.9"/><use href="#b" x="831.9" y="1155.3"/><use href="#b" x="830.7" y="1157.3"/><use href="#b" x="821" y="1161.4"/><use href="#b" x="843.7" y="1157.9"/><use href="#b" x="851" y="1154.9"/><use href="#b" x="852" y="1156.3"/><use href="#b" x="857" y="1158.3"/><use href="#b" x="866.5" y="1153.9"/><use href="#b" x="863.9" y="1163.2"/><use href="#b" x="899.1" y="1155.5"/><use href="#b" x="905.5" y="1159.3"/><use href="#b" x="907" y="1163.8"/><use href="#b" x="894.6" y="1162.8"/><use href="#b" x="917.9" y="1151.9"/><use href="#b" x="923.7" y="1162.4"/><use href="#b" x="944.4" y="1151.9"/><use href="#b" x="946" y="1152.3"/><use href="#b" x="950.4" y="1151"/><use href="#b" x="994.1" y="1162.2"/><use href="#b" x="807.5" y="1165.8"/><use href="#b" x="807.1" y="1171.7"/><use href="#b" x="844.7" y="1168.8"/><use href="#b" x="908" y="1167.8"/><use href="#b" x="909" y="1170.7"/><use href="#b" x="906.1" y="1175.7"/><use href="#b" x="997.5" y="1168.8"/><use href="#b" x="1004.4" y="1171.7"/><use href="#b" x="1000.4" y="1175.1"/><use href="#b" x="943.5" y="1171.7"/><use href="#b" x="950" y="1177.1"/><use href="#b" x="868.5" y="1174.1"/><use href="#b" x="879.3" y="1176.7"/><use href="#b" x="838.6" y="1174.1"/><use href="#b" x="835.8" y="1175.7"/><use href="#b" x="819.8" y="1177.7"/><use href="#b" x="825.9" y="1177.7"/><use href="#b" x="797.2" y="1174.7"/><use href="#b" x="800.2" y="1178.7"/><use href="#b" x="803.6" y="1179.6"/><use href="#b" x="799.6" y="1182.2"/><use href="#b" x="839.8" y="1181.6"/><use href="#b" x="899.5" y="1178.3"/><use href="#b" x="920.9" y="1176.3"/><use href="#b" x="926.2" y="1177.7"/><use href="#b" x="928.8" y="1178.3"/><use href="#b" x="924.9" y="1179.2"/><use href="#b" x="979.7" y="1178.3"/><use href="#b" x="979.7" y="1180.6"/><use href="#b" x="1027.8" y="1173.1"/><use href="#b" x="1029.1" y="1178.3"/><use href="#b" x="1030.7" y="1180.6"/><use href="#b" x="1025.8" y="1183.6"/><use href="#b" x="1003.4" y="1181.6"/><use href="#b" x="908.4" y="1183.6"/><use href="#b" x="912.4" y="1188.9"/><use href="#b" x="920.9" y="1188.9"/><use href="#b" x="892.6" y="1186.6"/><use href="#b" x="894" y="1188.5"/><use href="#b" x="896.6" y="1189.9"/><use href="#b" x="872.8" y="1183.2"/><use href="#b" x="876.8" y="1184.6"/><use href="#b" x="813.1" y="1183.6"/><use href="#b" x="822.7" y="1184.6"/><use href="#b" x="805.9" y="1187"/><use href="#b" x="796.2" y="1190.1"/><use href="#b" x="817.4" y="1187.6"/><use href="#b" x="816.4" y="1191.5"/><use href="#b" x="819.4" y="1192.1"/><use href="#b" x="824.9" y="1191.1"/><use href="#b" x="825.9" y="1189.5"/><use href="#b" x="829.9" y="1186.6"/><use href="#b" x="832.8" y="1186.2"/><use href="#b" x="834.8" y="1185.6"/><use href="#b" x="834.2" y="1189.5"/><use href="#b" x="838.8" y="1187.6"/><use href="#b" x="842.5" y="1190.5"/><use href="#b" x="845.1" y="1187"/><use href="#b" x="847.7" y="1191.1"/><use href="#b" x="851.4" y="1190.5"/><use href="#b" x="854" y="1189.5"/><use href="#b" x="859" y="1189.9"/><use href="#b" x="863.5" y="1190.9"/><use href="#b" x="1042" y="1185.6"/><use href="#r" x="1050.5" y="960"/><use href="#r" x="1152.4" y="963.6"/><use href="#r" x="1205.6" y="972.3"/><use href="#r" x="1269.6" y="960"/><use href="#r" x="1185.1" y="981.2"/><use href="#r" x="1260.3" y="982.2"/><use href="#r" x="1158.4" y="986.7"/><use href="#r" x="1177.2" y="991.3"/><use href="#r" x="1191.4" y="993.2"/><use href="#r" x="1197.3" y="995.6"/><use href="#r" x="1111.7" y="998.6"/><use href="#r" x="1231.4" y="997.6"/><use href="#r" x="1157.2" y="1003.5"/><use href="#r" x="1238.5" y="1004.1"/><use href="#r" x="1134.6" y="1006.9"/><use href="#r" x="1270.5" y="1008.1"/><use href="#r" x="1253.3" y="1013"/><use href="#r" x="1236.9" y="1018"/><use href="#r" x="1203.9" y="1025.9"/><use href="#r" x="1224" y="1025.3"/><use href="#r" x="1192" y="1029.3"/><use href="#r" x="1242.8" y="1030.2"/><use href="#r" x="1078.2" y="1033.2"/><use href="#r" x="1124.7" y="1032.8"/><use href="#r" x="1150.8" y="1031.8"/><use href="#r" x="1275.5" y="1035.2"/><use href="#r" x="1269.6" y="1038.6"/><use href="#r" x="1075" y="1045.5"/><use href="#r" x="1191" y="1044.5"/><use href="#r" x="1075.2" y="1057.4"/><use href="#r" x="1265.2" y="1063.3"/><use href="#r" x="1097" y="1076.4"/><use href="#r" x="1148.9" y="1100.9"/><use href="#r" x="1095.8" y="1104.5"/><use href="#r" x="1243.4" y="1108.4"/><use href="#r" x="1088.5" y="1118.7"/><use href="#r" x="1239.5" y="1124.8"/><use href="#r" x="1223.5" y="1133.1"/><use href="#r" x="1104.3" y="1136.1"/><use href="#r" x="1168.6" y="1137.5"/><use href="#r" x="1128.5" y="1175.7"/><use href="#b" x="1045" y="960"/><use href="#b" x="1097" y="960"/><use href="#b" x="1264.6" y="961.6"/><use href="#b" x="1102.7" y="968.3"/><use href="#b" x="1079.6" y="970.5"/><use href="#b" x="1094" y="971.3"/><use href="#b" x="1046.9" y="974.4"/><use href="#b" x="1153.2" y="971.9"/><use href="#b" x="1178.1" y="979.8"/><use href="#b" x="1232" y="978.8"/><use href="#b" x="1247.2" y="976.8"/><use href="#b" x="1175" y="989.1"/><use href="#b" x="1144.3" y="992.3"/><use href="#b" x="1053.9" y="996"/><use href="#b" x="1064.4" y="994"/><use href="#b" x="1086.5" y="992.6"/><use href="#b" x="1214.7" y="1002.1"/><use href="#b" x="1150.2" y="1010.9"/><use href="#b" x="1163.3" y="1015.4"/><use href="#b" x="1102" y="1024.3"/><use href="#b" x="1099" y="1026.7"/><use href="#b" x="1047.5" y="1028.7"/><use href="#b" x="1157.8" y="1029.7"/><use href="#b" x="1215.1" y="1028.3"/><use href="#b" x="1111.7" y="1040.1"/><use href="#b" x="1177.2" y="1053.4"/><use href="#b" x="1166.7" y="1058.9"/><use href="#b" x="1051.5" y="1061.3"/><use href="#b" x="1195.8" y="1062.9"/><use href="#b" x="1249.2" y="1054.6"/><use href="#b" x="1269.2" y="1057"/><use href="#b" x="1234.9" y="1064.3"/><use href="#b" x="1224" y="1070.2"/><use href="#b" x="1236.5" y="1070.4"/><use href="#b" x="1245.8" y="1076.4"/><use href="#b" x="1165.1" y="1077.1"/><use href="#b" x="1140.5" y="1080.7"/><use href="#b" x="1201.7" y="1087"/><use href="#b" x="1261.1" y="1093.6"/><use href="#b" x="1057.4" y="1106.4"/><use href="#b" x="1199.7" y="1106.8"/><use href="#b" x="1118.6" y="1111.8"/><use href="#b" x="1121.2" y="1114.7"/><use href="#b" x="1137.6" y="1113.4"/><use href="#b" x="1248.4" y="1117.9"/><use href="#b" x="1240.5" y="1121.3"/><use href="#b" x="1145.9" y="1130.6"/><use href="#b" x="1191.4" y="1132.6"/><use href="#b" x="1215.7" y="1141.1"/><use href="#b" x="1241.5" y="1139.5"/><use href="#b" x="1233.3" y="1147"/><use href="#b" x="1196.3" y="1148.6"/><use href="#b" x="1202.7" y="1153.5"/><use href="#b" x="1063.8" y="1155.5"/><use href="#b" x="1115.2" y="1153.3"/><use href="#b" x="1069.7" y="1169.8"/><use href="#b" x="1098.4" y="1168.2"/><use href="#b" x="1110.7" y="1175.3"/><use href="#b" x="1114.6" y="1177.1"/><use href="#b" x="1056.2" y="1178.3"/><use href="#r" x="1028.1" y="822.3"/><use href="#r" x="1040.4" y="836.2"/><use href="#r" x="1036.5" y="840.1"/><use href="#r" x="1041.6" y="844.5"/><use href="#r" x="1034.7" y="856.4"/><use href="#r" x="1036.1" y="858.9"/><use href="#r" x="1005" y="859.3"/><use href="#r" x="1006.8" y="861.7"/><use href="#r" x="1011.9" y="860.9"/><use href="#r" x="1009.3" y="867.2"/><use href="#r" x="1017.3" y="866.7"/><use href="#r" x="992.5" y="873.6"/><use href="#r" x="985.6" y="875.8"/><use href="#r" x="975.1" y="877.1"/><use href="#r" x="1027.6" y="876.2"/><use href="#r" x="999.5" y="887.6"/><use href="#r" x="1005" y="889"/><use href="#r" x="1026.6" y="888.4"/><use href="#r" x="1018.3" y="894.4"/><use href="#r" x="1016.7" y="898.3"/><use href="#r" x="1001.4" y="899.9"/><use href="#r" x="948.6" y="907.4"/><use href="#r" x="957.5" y="905.8"/><use href="#r" x="977.1" y="909.4"/><use href="#r" x="1010.9" y="908.2"/><use href="#r" x="1009" y="913.2"/><use href="#r" x="926.8" y="916.7"/><use href="#r" x="948.6" y="920.1"/><use href="#r" x="982.6" y="918.7"/><use href="#r" x="926.8" y="924.2"/><use href="#r" x="972.3" y="926"/><use href="#r" x="1020.6" y="922.7"/><use href="#r" x="996.9" y="934.1"/><use href="#r" x="963.4" y="942.4"/><use href="#r" x="967.8" y="941.5"/><use href="#r" x="931.2" y="945.4"/><use href="#r" x="935.7" y="950.4"/><use href="#r" x="899.1" y="948"/><use href="#r" x="1037.6" y="951.3"/><use href="#b" x="1033.7" y="823.3"/><use href="#b" x="1038.6" y="820.7"/><use href="#b" x="1040.6" y="851"/><use href="#b" x="1026.6" y="869.8"/><use href="#b" x="990.5" y="883.7"/><use href="#b" x="1042" y="881.1"/><use href="#b" x="1037.4" y="887.6"/><use href="#b" x="993.9" y="903.3"/><use href="#b" x="1025.8" y="905.2"/><use href="#b" x="1034.5" y="902.5"/><use href="#b" x="1035.1" y="906.2"/><use href="#b" x="989.6" y="911.2"/><use href="#b" x="964.8" y="913.2"/><use href="#b" x="935.7" y="914.7"/><use href="#b" x="979.7" y="928.6"/><use href="#b" x="1039" y="926.2"/><use href="#b" x="952" y="932.9"/><use href="#b" x="1001.4" y="932.5"/><use href="#b" x="971.2" y="934.5"/><use href="#b" x="937.7" y="935.9"/><use href="#b" x="1014.7" y="938.9"/><use href="#b" x="957.5" y="941.5"/><use href="#b" x="981.2" y="942"/><use href="#b" x="997.5" y="942.8"/><use href="#b" x="973.3" y="944.8"/><use href="#b" x="985" y="947.8"/><use href="#b" x="986" y="951"/><use href="#b" x="1010.3" y="949.8"/><use href="#b" x="911" y="952.9"/><use href="#b" x="924.7" y="958.9"/><use href="#r" x="1086.1" y="799.6"/><use href="#r" x="1113.8" y="796.6"/><use href="#r" x="1101.4" y="806.9"/><use href="#r" x="1111.3" y="806.9"/><use href="#r" x="1084.1" y="810.9"/><use href="#r" x="1095" y="810.9"/><use href="#r" x="1065.7" y="816.2"/><use href="#r" x="1061.2" y="818.8"/><use href="#r" x="1060.8" y="824.7"/><use href="#r" x="1077.2" y="822.3"/><use href="#r" x="1085.9" y="820.7"/><use href="#r" x="1088.5" y="828.3"/><use href="#r" x="1081.6" y="830.6"/><use href="#r" x="1102.4" y="823.7"/><use href="#r" x="1097.4" y="830.6"/><use href="#r" x="1101.4" y="830.6"/><use href="#r" x="1055.5" y="834.6"/><use href="#r" x="1068.7" y="834"/><use href="#r" x="1042" y="835.6"/><use href="#r" x="1116.2" y="825.7"/><use href="#r" x="1118.2" y="828.3"/><use href="#r" x="1121.2" y="829.7"/><use href="#r" x="1124.1" y="811.8"/><use href="#r" x="1124.1" y="817.8"/><use href="#r" x="1132" y="813.8"/><use href="#r" x="1138.4" y="812.8"/><use href="#r" x="1143.9" y="817.2"/><use href="#r" x="1141.3" y="823.7"/><use href="#r" x="1149.8" y="822.1"/><use href="#r" x="1144.3" y="830.2"/><use href="#r" x="1157.4" y="829.3"/><use href="#r" x="1161.7" y="813.2"/><use href="#r" x="1169.6" y="813.4"/><use href="#r" x="1187.4" y="815.8"/><use href="#r" x="1193" y="824.1"/><use href="#r" x="1203.9" y="823.3"/><use href="#r" x="1188" y="834.6"/><use href="#r" x="1219.1" y="822.7"/><use href="#r" x="1237.9" y="817.4"/><use href="#r" x="1245.8" y="813.2"/><use href="#r" x="1249.8" y="811.8"/><use href="#r" x="1258.7" y="818.8"/><use href="#r" x="1260.7" y="822.7"/><use href="#r" x="1242.5" y="824.1"/><use href="#r" x="1234.9" y="830.6"/><use href="#r" x="1240.5" y="832.2"/><use href="#r" x="1248.8" y="830"/><use href="#r" x="1261.6" y="829.7"/><use href="#r" x="1277.5" y="826.7"/><use href="#r" x="1277.5" y="810.9"/><use href="#r" x="1282.4" y="808.9"/><use href="#r" x="1213.2" y="831.6"/><use href="#r" x="1221.1" y="832.6"/><use href="#r" x="1236.5" y="841.9"/><use href="#r" x="1224.6" y="848.5"/><use href="#r" x="1233" y="851"/><use href="#r" x="1208.8" y="849"/><use href="#r" x="1203.7" y="851.4"/><use href="#r" x="1198.3" y="857.9"/><use href="#r" x="1191.8" y="860.9"/><use href="#r" x="1086.5" y="846.1"/><use href="#r" x="1107.9" y="845.9"/><use href="#r" x="1130.6" y="839.9"/><use href="#r" x="1128.5" y="846.5"/><use href="#r" x="1138.6" y="845.5"/><use href="#r" x="1129.7" y="852"/><use href="#r" x="1158.2" y="842.5"/><use href="#r" x="1166.1" y="849.4"/><use href="#r" x="1136.4" y="858.7"/><use href="#r" x="1115.6" y="861.3"/><use href="#r" x="1121.7" y="862.3"/><use href="#r" x="1042" y="844.9"/><use href="#r" x="1052.3" y="864.7"/><use href="#r" x="1061.2" y="877.1"/><use href="#r" x="1055.9" y="880.1"/><use href="#r" x="1086.1" y="875.8"/><use href="#r" x="1142.9" y="876.7"/><use href="#r" x="1163.3" y="875.6"/><use href="#r" x="1180.1" y="882.7"/><use href="#r" x="1045.4" y="898.9"/><use href="#r" x="1099.8" y="903.9"/><use href="#r" x="1080.2" y="916.1"/><use href="#r" x="1155.8" y="905.8"/><use href="#r" x="1158.7" y="929.6"/><use href="#r" x="1180.5" y="928.2"/><use href="#r" x="1050.5" y="938.9"/><use href="#r" x="1168.6" y="944.4"/><use href="#r" x="1050.3" y="957.3"/><use href="#r" x="1042" y="958.3"/><use href="#r" x="1201.3" y="887"/><use href="#r" x="1192.4" y="895.3"/><use href="#r" x="1190.8" y="909.8"/><use href="#r" x="1201.9" y="910.8"/><use href="#r" x="1214.2" y="869.2"/><use href="#r" x="1238.9" y="868.8"/><use href="#r" x="1255.7" y="871.2"/><use href="#r" x="1258.1" y="857"/><use href="#r" x="1275.5" y="852.8"/><use href="#r" x="1277.5" y="873.6"/><use href="#r" x="1280" y="876.7"/><use href="#r" x="1265.6" y="885.1"/><use href="#r" x="1241.5" y="888.6"/><use href="#r" x="1239.9" y="891"/><use href="#r" x="1249.8" y="895"/><use href="#r" x="1285.4" y="892.6"/><use href="#r" x="1258.7" y="903.9"/><use href="#r" x="1237.9" y="917.7"/><use href="#r" x="1239.5" y="928.2"/><use href="#r" x="1260.3" y="924.2"/><use href="#r" x="1203.3" y="937.5"/><use href="#r" x="1218.7" y="945.8"/><use href="#r" x="1271.1" y="941.5"/><use href="#r" x="1270.2" y="957.3"/><use href="#b" x="1076.6" y="802.9"/><use href="#b" x="1074.6" y="810.9"/><use href="#b" x="1112.8" y="811.8"/><use href="#b" x="1054.3" y="821.1"/><use href="#b" x="1112.2" y="830.6"/><use href="#b" x="1157.4" y="811.8"/><use href="#b" x="1180.5" y="812.4"/><use href="#b" x="1178.5" y="834.6"/><use href="#b" x="1183.1" y="839.2"/><use href="#b" x="1217.7" y="817.4"/><use href="#b" x="1231" y="814.2"/><use href="#b" x="1210.6" y="822.3"/><use href="#b" x="1216.1" y="825.3"/><use href="#b" x="1230" y="825.3"/><use href="#b" x="1258.3" y="808.9"/><use href="#b" x="1269" y="815.8"/><use href="#b" x="1225" y="838"/><use href="#b" x="1247.2" y="840.1"/><use href="#b" x="1255.3" y="846.9"/><use href="#b" x="1263.6" y="855.8"/><use href="#b" x="1047.5" y="837.6"/><use href="#b" x="1062.4" y="845.5"/><use href="#b" x="1042" y="851"/><use href="#b" x="1079.6" y="849"/><use href="#b" x="1121.7" y="847.5"/><use href="#b" x="1139" y="843.5"/><use href="#b" x="1047.5" y="867.8"/><use href="#b" x="1081.6" y="872.2"/><use href="#b" x="1126.7" y="869.2"/><use href="#b" x="1139.9" y="868.6"/><use href="#b" x="1120.6" y="877.5"/><use href="#b" x="1181.9" y="863.3"/><use href="#b" x="1209.8" y="867.2"/><use href="#b" x="1230.4" y="862.7"/><use href="#b" x="1263.2" y="871.6"/><use href="#b" x="1044" y="881.1"/><use href="#b" x="1106.9" y="887.4"/><use href="#b" x="1175" y="882.7"/><use href="#b" x="1187.4" y="895.3"/><use href="#b" x="1088.5" y="899.9"/><use href="#b" x="1072.7" y="901.9"/><use href="#b" x="1074.3" y="904.5"/><use href="#b" x="1133.4" y="898.9"/><use href="#b" x="1168" y="901.5"/><use href="#b" x="1143.9" y="913.4"/><use href="#b" x="1232" y="906.2"/><use href="#b" x="1228" y="909.2"/><use href="#b" x="1245.2" y="916.7"/><use href="#b" x="1251.2" y="918.3"/><use href="#b" x="1266.2" y="909.8"/><use href="#b" x="1209.8" y="934.1"/><use href="#b" x="1201.7" y="943.4"/><use href="#b" x="1213.2" y="954.3"/><use href="#b" x="1158.7" y="953.7"/><use href="#b" x="1112.6" y="950.4"/><use href="#b" x="1057.4" y="951.3"/><use href="#b" x="1094.4" y="955.3"/><use href="#b" x="1097.4" y="959.3"/><use href="#b" x="1180.5" y="956.9"/><use href="#b" x="1269.6" y="944.4"/><use href="#b" x="1265" y="959.3"/></g>
<path d="M762.65 807.83H1320.90M1183.10 703.65V1215.30" stroke="#000" stroke-width="4.5" stroke-dasharray="17.65 17.65" fill="none"/>
<path d="M758.35 1192.30H762.65M787.60 1215.30V1219.60M758.35 1076.08H762.65M914.52 1215.30V1219.60M758.35 959.85H762.65M1041.45 1215.30V1219.60M758.35 843.62H762.65M1168.38 1215.30V1219.60M758.35 727.40H762.65M1295.30 1215.30V1219.60" stroke="#353a3e" stroke-width="4.6" fill="none"/>
<rect x="762.65" y="703.65" width="558.25" height="511.65" fill="none" stroke="#353a3e" stroke-width="4.6" stroke-linejoin="round"/>
<text x="741.26" y="1199.10" font-size="28.4" fill="#231815" textLength="14.75" lengthAdjust="spacingAndGlyphs">0</text>
<text x="782.01" y="1247.10" font-size="28.4" fill="#231815" textLength="14.75" lengthAdjust="spacingAndGlyphs">0</text>
<text x="724.58" y="1082.88" font-size="28.4" fill="#231815">25</text>
<text x="900.61" y="1247.10" font-size="28.4" fill="#231815">25</text>
<text x="724.50" y="966.65" font-size="28.4" fill="#231815">50</text>
<text x="1028.08" y="1247.10" font-size="28.4" fill="#231815">50</text>
<text x="724.58" y="850.42" font-size="28.4" fill="#231815">75</text>
<text x="1155.14" y="1247.10" font-size="28.4" fill="#231815">75</text>
<text x="711.76" y="734.20" font-size="28.4" fill="#231815" textLength="44.26" lengthAdjust="spacingAndGlyphs">100</text>
<text x="1275.57" y="1247.10" font-size="28.4" fill="#231815" textLength="44.26" lengthAdjust="spacingAndGlyphs">100</text>
<text x="704.90" y="1211.94" transform="rotate(-90 704.90 1211.94)" font-size="27.1" fill="#000">clinic−RadmC score (cutoff value=82.7)</text>
<text x="784.86" y="1287.60" font-size="27.1" fill="#000" textLength="508.12" lengthAdjust="spacingAndGlyphs">clinic−Radiomics score (cutoff value=77.9)</text>
<circle cx="852.4" cy="680.6" r="9.8" fill="#df202e" stroke="#231815" stroke-width="1"/>
<circle cx="1101.8" cy="680.6" r="9.8" fill="#2a74ae" stroke="#231815" stroke-width="1"/>
<text x="890.10" y="689.40" font-size="24.5" fill="#000" textLength="105.87" lengthAdjust="spacingAndGlyphs">Malignant</text>
<text x="1139.17" y="689.40" font-size="24.5" fill="#000" textLength="76.90" lengthAdjust="spacingAndGlyphs">Benign</text>
<text x="781.47" y="746.90" font-size="33.4" fill="#231815" textLength="48.85" lengthAdjust="spacingAndGlyphs">20*</text>
<text x="1253.33" y="1200.00" font-size="33.4" fill="#231815" textLength="36.19" lengthAdjust="spacingAndGlyphs">15</text>
<text x="1291.61" y="1190.70" font-size="22.8" fill="#231815">#</text>
</g>
<g id="panelF">
<text x="1401.43" y="666.70" font-size="39" fill="#000" font-weight="bold" textLength="21.96" lengthAdjust="spacingAndGlyphs">F</text>
<g stroke="#231815" stroke-width="1"><use href="#r" x="1932" y="753.9"/><use href="#r" x="1924.2" y="781.2"/><use href="#r" x="1930.1" y="759.5"/><use href="#r" x="1961.8" y="758.7"/><use href="#r" x="1979.4" y="782.4"/><use href="#r" x="1966.6" y="752.2"/><use href="#r" x="1993" y="809.1"/><use href="#r" x="2004.4" y="750.6"/><use href="#r" x="1940.4" y="788.7"/><use href="#r" x="1957.8" y="762.4"/><use href="#r" x="1938.8" y="769.6"/><use href="#r" x="1959" y="733"/><use href="#r" x="1875.5" y="767"/><use href="#r" x="1972.8" y="733.8"/><use href="#r" x="1892" y="733.4"/><use href="#r" x="1986.4" y="741.6"/><use href="#r" x="1935.5" y="737.1"/><use href="#r" x="1984.1" y="761.9"/><use href="#r" x="1861.4" y="808.5"/><use href="#r" x="1959.7" y="753.9"/><use href="#r" x="1943.1" y="781.4"/><use href="#r" x="1963" y="780.6"/><use href="#r" x="1989.9" y="754.6"/><use href="#r" x="2003.9" y="730.6"/><use href="#r" x="1931.9" y="784.8"/><use href="#r" x="1930.6" y="774.2"/><use href="#r" x="1979.7" y="781.5"/><use href="#r" x="1910.9" y="742.4"/><use href="#r" x="1880.1" y="749.8"/><use href="#r" x="1990" y="813.8"/><use href="#r" x="1969.3" y="806.3"/><use href="#r" x="1999.9" y="749"/><use href="#r" x="1921.6" y="773.6"/><use href="#r" x="1896.6" y="741"/><use href="#r" x="1942.4" y="772.1"/><use href="#r" x="1944.3" y="813.2"/><use href="#r" x="1885.8" y="779.4"/><use href="#r" x="1934.4" y="733.6"/><use href="#r" x="1991.3" y="770.6"/><use href="#r" x="1978.3" y="742.6"/><use href="#r" x="1940.9" y="762.2"/><use href="#r" x="1971.4" y="759.2"/><use href="#r" x="1948.8" y="747.2"/><use href="#r" x="1962" y="742.1"/><use href="#r" x="1771.1" y="737.1"/><use href="#r" x="1908.2" y="775.8"/><use href="#r" x="1980" y="743.3"/><use href="#r" x="1955.7" y="761.8"/><use href="#r" x="1900.4" y="735.4"/><use href="#r" x="1936.4" y="739"/><use href="#r" x="1934.6" y="730.7"/><use href="#r" x="1921.3" y="756.4"/><use href="#r" x="1970" y="756.2"/><use href="#r" x="1960.7" y="792.7"/><use href="#r" x="1921.5" y="777.8"/><use href="#r" x="1896.5" y="759.7"/><use href="#r" x="1929.4" y="735.5"/><use href="#r" x="1965.7" y="790"/><use href="#r" x="1949" y="786.9"/><use href="#r" x="2001.7" y="756.1"/><use href="#r" x="1958.8" y="755.8"/><use href="#r" x="1985.8" y="753.1"/><use href="#r" x="1927.6" y="729.4"/><use href="#r" x="1948.8" y="753.9"/><use href="#r" x="1984.2" y="767.1"/><use href="#r" x="1833.2" y="755.2"/><use href="#r" x="1836.2" y="766.8"/><use href="#r" x="1957.7" y="763"/><use href="#r" x="1911.9" y="732.6"/><use href="#r" x="1822.6" y="767.6"/><use href="#r" x="1984" y="763.1"/><use href="#r" x="1987.2" y="780"/><use href="#r" x="1959.7" y="806.4"/><use href="#r" x="1935.3" y="787"/><use href="#r" x="1984.6" y="759"/><use href="#r" x="1949.3" y="754.3"/><use href="#r" x="1986" y="766"/><use href="#r" x="1939.5" y="819.2"/><use href="#r" x="1963.1" y="729.8"/><use href="#r" x="1893.8" y="738.8"/><use href="#r" x="1977.4" y="742"/><use href="#r" x="1955.4" y="765.7"/><use href="#r" x="1960.7" y="735.9"/><use href="#r" x="1880.5" y="787.9"/><use href="#r" x="1979.1" y="753.4"/><use href="#r" x="1894.9" y="732.4"/><use href="#r" x="1983.5" y="765.6"/><use href="#r" x="1910" y="787"/><use href="#r" x="1921" y="754.3"/><use href="#r" x="1957.4" y="737.7"/><use href="#r" x="1989.2" y="760.4"/><use href="#r" x="1939.6" y="751.3"/><use href="#r" x="1953.5" y="785.7"/><use href="#r" x="1964.1" y="762.9"/><use href="#r" x="1803.4" y="748.9"/><use href="#r" x="1964.6" y="730.6"/><use href="#r" x="1936.1" y="772.4"/><use href="#r" x="1977.8" y="792.9"/><use href="#r" x="1966" y="810.1"/><use href="#r" x="1978" y="736.6"/><use href="#r" x="1949.8" y="752.3"/><use href="#r" x="1921.9" y="803.8"/><use href="#r" x="1809.4" y="739"/><use href="#r" x="1891.6" y="767.2"/><use href="#r" x="1931" y="805"/><use href="#r" x="1853.9" y="764.6"/><use href="#r" x="2005.8" y="742.1"/><use href="#r" x="1842.2" y="775.7"/><use href="#r" x="1989.2" y="730.4"/><use href="#r" x="1987.6" y="772.3"/><use href="#r" x="1960.9" y="733.2"/><use href="#r" x="1950.4" y="734.6"/><use href="#r" x="1900.4" y="810.7"/><use href="#r" x="1785.7" y="737.7"/><use href="#r" x="1989.3" y="744.1"/><use href="#r" x="1894.5" y="747.4"/><use href="#r" x="1987.3" y="764.6"/><use href="#r" x="1979" y="752.2"/><use href="#r" x="1949.9" y="822.9"/><use href="#r" x="1950.6" y="788.1"/><use href="#r" x="1931.2" y="743.4"/><use href="#r" x="1880.1" y="737.7"/><use href="#r" x="1973.1" y="745.3"/><use href="#r" x="1941.2" y="795.8"/><use href="#r" x="1967.8" y="740.9"/><use href="#r" x="1895" y="782.2"/><use href="#r" x="1868.6" y="731.6"/><use href="#r" x="1906.6" y="787.2"/><use href="#r" x="1932.2" y="800"/><use href="#r" x="1990.5" y="771.5"/><use href="#r" x="1887.7" y="753.4"/><use href="#r" x="1950.9" y="758.5"/><use href="#r" x="1923.8" y="748.7"/><use href="#r" x="1958.1" y="793.4"/><use href="#r" x="1876.3" y="745.6"/><use href="#r" x="1947.2" y="779.1"/><use href="#r" x="1975.2" y="751.5"/><use href="#r" x="1913.8" y="731"/><use href="#r" x="1960" y="808.5"/><use href="#r" x="1874.1" y="767.4"/><use href="#r" x="1918.3" y="747.8"/><use href="#r" x="1910.5" y="755.5"/><use href="#r" x="1878.1" y="765.4"/><use href="#r" x="1941.6" y="741.3"/><use href="#r" x="2003.1" y="744.3"/><use href="#r" x="1854.9" y="777.8"/><use href="#r" x="1984.6" y="749.2"/><use href="#r" x="1969.3" y="760.7"/><use href="#r" x="1828.6" y="806.4"/><use href="#r" x="1926.4" y="762.5"/><use href="#r" x="1954" y="738.9"/><use href="#r" x="1975.9" y="774.4"/><use href="#r" x="1900.7" y="749.7"/><use href="#r" x="1925" y="741.9"/><use href="#r" x="1990" y="753.2"/><use href="#r" x="1963" y="747.1"/><use href="#r" x="1976.9" y="743.4"/><use href="#r" x="2005" y="737.1"/><use href="#r" x="1937.5" y="793"/><use href="#r" x="1926.1" y="759.6"/><use href="#r" x="1994.8" y="767.6"/><use href="#r" x="1832.7" y="812.8"/><use href="#r" x="1973.1" y="764"/><use href="#r" x="1940.7" y="729.4"/><use href="#r" x="1959" y="773"/><use href="#r" x="1888.2" y="749.3"/><use href="#r" x="1922.3" y="733.2"/><use href="#r" x="1993.5" y="775.2"/><use href="#r" x="1947.9" y="752.8"/><use href="#r" x="1881" y="739.8"/><use href="#r" x="1782.8" y="742.8"/><use href="#r" x="1955.9" y="756.6"/><use href="#r" x="1918.4" y="744"/><use href="#r" x="1970.1" y="808.1"/><use href="#r" x="1941.4" y="763.2"/><use href="#r" x="1939.4" y="750.2"/><use href="#r" x="1929.1" y="747"/><use href="#r" x="1939.2" y="732.2"/><use href="#r" x="1966" y="764.5"/><use href="#r" x="1921.7" y="740.5"/><use href="#r" x="1954.6" y="773.1"/><use href="#r" x="1881.2" y="746.4"/><use href="#r" x="1897.7" y="732"/><use href="#r" x="1953.4" y="782.3"/><use href="#r" x="1941.2" y="729.7"/><use href="#r" x="1977" y="734.9"/><use href="#r" x="1975.1" y="760.4"/><use href="#r" x="1894.7" y="750.9"/><use href="#r" x="1890.1" y="745.5"/><use href="#r" x="1999.8" y="739.3"/><use href="#r" x="1952.9" y="797.7"/><use href="#r" x="1999.8" y="733.9"/><use href="#r" x="1909.8" y="750.6"/><use href="#r" x="1876.1" y="786.8"/><use href="#r" x="1863.1" y="764.2"/><use href="#r" x="1950.6" y="778.6"/><use href="#r" x="1970.9" y="732"/><use href="#r" x="1965.1" y="731.7"/><use href="#r" x="1920.2" y="756.1"/><use href="#r" x="1992.3" y="734.2"/><use href="#r" x="1986.2" y="772"/><use href="#r" x="1876.2" y="730.8"/><use href="#r" x="1897" y="730.2"/><use href="#r" x="1962.7" y="742"/><use href="#r" x="1973.8" y="731.1"/><use href="#r" x="1946" y="734.8"/><use href="#r" x="1942.4" y="817.3"/><use href="#r" x="1800.5" y="773.3"/><use href="#r" x="1925.5" y="776.3"/><use href="#r" x="1805.4" y="821.8"/><use href="#r" x="1952.5" y="802.1"/><use href="#r" x="1970" y="763.9"/><use href="#r" x="2004" y="744.6"/><use href="#r" x="1974.5" y="744.1"/><use href="#r" x="1944.2" y="768.1"/><use href="#r" x="1984.5" y="768.8"/><use href="#r" x="1973.7" y="757.5"/><use href="#r" x="1892.1" y="753.6"/><use href="#r" x="1895.3" y="761.4"/><use href="#r" x="1907.6" y="732.8"/><use href="#r" x="1941.6" y="749.9"/><use href="#r" x="1975.4" y="731.6"/><use href="#r" x="1941" y="774.4"/><use href="#r" x="1975.7" y="743.5"/><use href="#r" x="1958.1" y="808.2"/><use href="#r" x="1980" y="808.6"/><use href="#r" x="1944.9" y="739.4"/><use href="#r" x="1967.4" y="730.3"/><use href="#r" x="1930.8" y="769.8"/><use href="#r" x="1959.7" y="807.3"/><use href="#r" x="1976.6" y="807.8"/><use href="#r" x="1978.3" y="734.1"/><use href="#r" x="1984.9" y="735.7"/><use href="#r" x="1993.8" y="748.4"/><use href="#r" x="1872.9" y="769.1"/><use href="#r" x="1965.6" y="799.8"/><use href="#r" x="1982.7" y="795.2"/><use href="#r" x="1956.2" y="764.3"/><use href="#r" x="1923.8" y="762.8"/><use href="#r" x="1944.7" y="799.9"/><use href="#r" x="1932.6" y="736.4"/><use href="#r" x="1872.8" y="736.8"/><use href="#r" x="1860.4" y="769.9"/><use href="#r" x="1901" y="754"/><use href="#r" x="1949" y="734"/><use href="#r" x="1999.2" y="752.3"/><use href="#r" x="1971.7" y="753.3"/><use href="#r" x="1995.8" y="801.2"/><use href="#r" x="1837.2" y="756.4"/><use href="#r" x="1986.9" y="767.6"/><use href="#r" x="1945.5" y="754.3"/><use href="#r" x="1974.1" y="782.7"/><use href="#r" x="1956.9" y="739.7"/><use href="#r" x="1949.3" y="769.9"/><use href="#r" x="1971.3" y="730.8"/><use href="#r" x="1898.9" y="739.9"/><use href="#r" x="1946" y="732.7"/><use href="#r" x="1882.4" y="735.8"/><use href="#r" x="1847" y="787.4"/><use href="#r" x="1935.3" y="773"/><use href="#r" x="1966.6" y="747.6"/><use href="#r" x="1951.3" y="808.8"/><use href="#r" x="1967.2" y="770.8"/><use href="#r" x="1935.3" y="737.4"/><use href="#r" x="1974.5" y="741.4"/><use href="#r" x="1920.2" y="749.9"/><use href="#r" x="1990.7" y="732.3"/><use href="#r" x="1989.3" y="746.2"/><use href="#r" x="1997.4" y="742.5"/><use href="#r" x="1991.1" y="820.8"/><use href="#r" x="1933.9" y="761.8"/><use href="#r" x="1994.1" y="768.5"/><use href="#r" x="1963.2" y="768.7"/><use href="#r" x="1981.2" y="741.1"/><use href="#r" x="1813.6" y="780.3"/><use href="#r" x="1983.3" y="778"/><use href="#r" x="1957.8" y="782.7"/><use href="#r" x="1901.5" y="744.8"/><use href="#r" x="1894.9" y="763.5"/><use href="#r" x="1990.3" y="802.5"/><use href="#r" x="1916" y="760.8"/><use href="#r" x="1923.5" y="777.2"/><use href="#r" x="1963.5" y="766.7"/><use href="#r" x="1998" y="747"/><use href="#r" x="1973.5" y="769.5"/><use href="#r" x="1921.7" y="795.6"/><use href="#r" x="1922.6" y="741.6"/><use href="#r" x="1878.1" y="763.8"/><use href="#r" x="1983.3" y="808.4"/><use href="#r" x="1928.7" y="770.3"/><use href="#r" x="1979.7" y="808.4"/><use href="#r" x="1961.8" y="809.5"/><use href="#r" x="1962.6" y="776.8"/><use href="#r" x="1986.5" y="809.7"/><use href="#r" x="1922.9" y="768.4"/><use href="#r" x="1982.7" y="769.8"/><use href="#r" x="1884.4" y="797.7"/><use href="#r" x="1865.3" y="731.8"/><use href="#r" x="1948.5" y="751.9"/><use href="#r" x="1955.4" y="731.7"/><use href="#r" x="1955.3" y="748.1"/><use href="#r" x="1908.3" y="756.7"/><use href="#r" x="1997.6" y="775.7"/><use href="#r" x="1971.3" y="796.7"/><use href="#r" x="1962.6" y="791.5"/><use href="#r" x="1939.8" y="782.2"/><use href="#r" x="1910.2" y="734.7"/><use href="#r" x="1880.3" y="745.6"/><use href="#r" x="2002.2" y="736.2"/><use href="#r" x="1949.9" y="740.6"/><use href="#r" x="1947.6" y="812.4"/><use href="#r" x="1992.1" y="739.6"/><use href="#r" x="1997" y="764"/><use href="#r" x="1894.9" y="753.5"/><use href="#r" x="1989.5" y="740.6"/><use href="#r" x="1966.3" y="813.2"/><use href="#r" x="1929.8" y="774.9"/><use href="#r" x="1860.1" y="730.3"/><use href="#r" x="1984.9" y="765.5"/><use href="#r" x="1999.2" y="732.7"/><use href="#r" x="1880.3" y="731.2"/><use href="#r" x="1998.9" y="737.2"/><use href="#r" x="1848.2" y="751.4"/><use href="#r" x="1919.7" y="750.7"/><use href="#r" x="1910.7" y="744.4"/><use href="#r" x="1904.6" y="729.6"/><use href="#r" x="1926.8" y="766"/><use href="#r" x="1946.2" y="755.5"/><use href="#r" x="1968.1" y="751"/><use href="#r" x="1967.8" y="756.3"/><use href="#r" x="1933" y="769.9"/><use href="#r" x="1927.9" y="735.5"/><use href="#r" x="1948.6" y="764.7"/><use href="#r" x="1961.8" y="771.2"/><use href="#r" x="1936" y="753.9"/><use href="#r" x="1889.6" y="772.1"/><use href="#r" x="1839.7" y="795.9"/><use href="#r" x="1935.5" y="748.9"/><use href="#r" x="1893.5" y="771"/><use href="#r" x="1983.3" y="754.9"/><use href="#r" x="1893.9" y="765.9"/><use href="#r" x="1900" y="783"/><use href="#r" x="1939.2" y="742.6"/><use href="#r" x="1906.7" y="770.1"/><use href="#r" x="1943.4" y="732.1"/><use href="#r" x="1977" y="779.7"/><use href="#r" x="1915.1" y="760.7"/><use href="#r" x="1922.6" y="742.9"/><use href="#r" x="1873.5" y="754.5"/><use href="#r" x="1951.5" y="771.6"/><use href="#r" x="1979" y="731.2"/><use href="#r" x="1829.9" y="795.1"/><use href="#r" x="1864.6" y="759.3"/><use href="#r" x="1964.9" y="746.9"/><use href="#r" x="1896.4" y="795.8"/><use href="#r" x="1974" y="775"/><use href="#r" x="1902.2" y="729.3"/><use href="#r" x="1962.1" y="781.9"/><use href="#r" x="1977.8" y="737.3"/><use href="#r" x="1921.3" y="744.2"/><use href="#r" x="1953.5" y="763.9"/><use href="#r" x="1988.1" y="754.1"/><use href="#r" x="1968.1" y="779"/><use href="#r" x="1948.2" y="738.6"/><use href="#r" x="1971.4" y="752.3"/><use href="#r" x="1976.8" y="806"/><use href="#r" x="1968.8" y="788"/><use href="#r" x="1957.3" y="738.6"/><use href="#r" x="1853.1" y="800.7"/><use href="#r" x="1849" y="743.5"/><use href="#r" x="1973.4" y="747.3"/><use href="#r" x="1980.9" y="733.8"/><use href="#r" x="1980.7" y="747.8"/><use href="#r" x="1994.6" y="729.4"/><use href="#r" x="1924.9" y="761.1"/><use href="#r" x="1869.3" y="772.8"/><use href="#r" x="1952.3" y="748.8"/><use href="#r" x="1928.2" y="774.9"/><use href="#r" x="1908.2" y="768.8"/><use href="#r" x="1905.8" y="734.9"/><use href="#r" x="1854.8" y="792.8"/><use href="#r" x="1980.1" y="769.2"/><use href="#r" x="1990.1" y="767.6"/><use href="#r" x="1942.6" y="765.9"/><use href="#r" x="1902" y="755.2"/><use href="#r" x="1946.5" y="748.8"/><use href="#r" x="1984.1" y="759.8"/><use href="#r" x="1918.6" y="793"/><use href="#r" x="2001.3" y="751"/><use href="#r" x="1939.8" y="778.3"/><use href="#r" x="1828.3" y="807.4"/><use href="#r" x="1870.4" y="786.2"/><use href="#r" x="1992.7" y="730.5"/><use href="#r" x="1963.4" y="760.7"/><use href="#r" x="1975.9" y="737.3"/><use href="#r" x="1844.3" y="810.4"/><use href="#r" x="1958.5" y="779.3"/><use href="#r" x="1970.4" y="775.8"/><use href="#r" x="1904.5" y="740.5"/><use href="#r" x="1999.7" y="738"/><use href="#r" x="1917.6" y="750.6"/><use href="#r" x="1925.9" y="764.4"/><use href="#r" x="1933.2" y="747.6"/><use href="#r" x="1952.6" y="748"/><use href="#r" x="1965" y="775.9"/><use href="#r" x="1925.4" y="797.3"/><use href="#r" x="1940" y="734.1"/><use href="#r" x="1985.6" y="759.2"/><use href="#r" x="1949.1" y="766"/><use href="#r" x="1888.7" y="809.5"/><use href="#r" x="1924.6" y="748.6"/><use href="#r" x="1936.7" y="810.5"/><use href="#r" x="1897.9" y="770.6"/><use href="#r" x="1912.9" y="814.9"/><use href="#r" x="1968.4" y="784.5"/><use href="#r" x="1973.6" y="754.6"/><use href="#r" x="1970" y="762.9"/><use href="#r" x="1864.2" y="787.9"/><use href="#r" x="1903.5" y="772.9"/><use href="#r" x="1894.6" y="733"/><use href="#r" x="1967.4" y="817.3"/><use href="#r" x="1977.3" y="769.7"/><use href="#r" x="1972.6" y="748"/><use href="#r" x="1989.6" y="788.9"/><use href="#r" x="1949.9" y="773.5"/><use href="#r" x="1985.4" y="737.9"/><use href="#r" x="1910.6" y="751.2"/><use href="#r" x="1955" y="770.5"/><use href="#r" x="1926.6" y="740.4"/><use href="#r" x="1954.9" y="774.1"/><use href="#r" x="1950" y="762.8"/><use href="#r" x="1974.7" y="759.9"/><use href="#r" x="1952.6" y="734.5"/><use href="#r" x="1981.9" y="757.8"/><use href="#r" x="1953.5" y="752.2"/><use href="#r" x="1893.8" y="732.3"/><use href="#r" x="1924.8" y="793.5"/><use href="#r" x="1981.3" y="795.4"/><use href="#r" x="1955.4" y="753.2"/><use href="#r" x="1929.9" y="764.5"/><use href="#r" x="1975" y="739.6"/><use href="#r" x="1928.1" y="790"/><use href="#r" x="1920.4" y="751.3"/><use href="#r" x="1942.2" y="780"/><use href="#r" x="1944.1" y="775.7"/><use href="#r" x="1895.4" y="774.8"/><use href="#r" x="1922.5" y="732.2"/><use href="#r" x="1966.3" y="758.8"/><use href="#r" x="1904.5" y="747.7"/><use href="#r" x="1999.5" y="754.5"/><use href="#r" x="1939.5" y="771.3"/><use href="#r" x="1932.9" y="772.6"/><use href="#r" x="1964.3" y="741.4"/><use href="#r" x="1988.8" y="730.2"/><use href="#r" x="2004.7" y="729.7"/><use href="#r" x="1929.2" y="796.7"/><use href="#r" x="1963.1" y="748.8"/><use href="#r" x="1910.5" y="763.8"/><use href="#r" x="1963.5" y="773.1"/><use href="#r" x="1920.4" y="783.1"/><use href="#r" x="1947.7" y="742.1"/><use href="#r" x="1950.1" y="760.9"/><use href="#r" x="1958" y="797"/><use href="#r" x="1995.3" y="749.4"/><use href="#r" x="1954.2" y="762.6"/><use href="#r" x="1919.8" y="747.3"/><use href="#r" x="1980.7" y="769.7"/><use href="#r" x="1916.2" y="770.5"/><use href="#r" x="1874.3" y="754.7"/><use href="#r" x="1919.5" y="755"/><use href="#r" x="1964.4" y="737.4"/><use href="#r" x="1938.7" y="744"/><use href="#r" x="1912.7" y="771.8"/><use href="#r" x="1989.8" y="761.9"/><use href="#r" x="2004.1" y="733.8"/><use href="#r" x="1898.3" y="777"/><use href="#r" x="1961.8" y="778.6"/><use href="#r" x="1935.2" y="775.4"/><use href="#r" x="1962.2" y="766.2"/><use href="#r" x="1969.7" y="767.3"/><use href="#r" x="1994.4" y="739.1"/><use href="#r" x="1937" y="770.9"/><use href="#r" x="1863.3" y="729.4"/><use href="#r" x="1955.7" y="748.7"/><use href="#r" x="1923.5" y="734.2"/><use href="#r" x="1908.1" y="749.5"/><use href="#r" x="1989.9" y="777.6"/><use href="#r" x="1940.9" y="760.3"/><use href="#r" x="1946.2" y="745.5"/><use href="#r" x="1955.2" y="760.8"/><use href="#r" x="1910.2" y="770.8"/><use href="#r" x="1989.8" y="748.6"/><use href="#r" x="1827.7" y="757.7"/><use href="#r" x="1945.9" y="746.2"/><use href="#r" x="1921.9" y="757.4"/><use href="#r" x="1939.6" y="745.6"/><use href="#r" x="1968.1" y="775.2"/><use href="#r" x="1928.8" y="767.2"/><use href="#r" x="1891.3" y="790.1"/><use href="#r" x="1836.1" y="732.3"/><use href="#r" x="1979.6" y="730.7"/><use href="#r" x="1938.8" y="750.8"/><use href="#r" x="1949.5" y="737"/><use href="#r" x="1998.4" y="751.4"/><use href="#r" x="1957.1" y="731.7"/><use href="#r" x="1851.1" y="732.4"/><use href="#r" x="1943" y="786.2"/><use href="#r" x="2000.7" y="750.1"/><use href="#r" x="1940.3" y="772.3"/><use href="#r" x="1961.3" y="751"/><use href="#r" x="1948.8" y="814.9"/><use href="#r" x="1970.2" y="756.3"/><use href="#r" x="1939.7" y="787.4"/><use href="#r" x="1895.6" y="752.7"/><use href="#r" x="1906.7" y="731.1"/><use href="#r" x="1909.5" y="764.8"/><use href="#r" x="2001.4" y="764.5"/><use href="#r" x="1918.9" y="736.1"/><use href="#r" x="1985" y="777.3"/><use href="#r" x="1997.1" y="751.4"/><use href="#r" x="1973.6" y="746.8"/><use href="#r" x="1969" y="735.4"/><use href="#r" x="1984.3" y="735.6"/><use href="#r" x="1952.5" y="812.6"/><use href="#r" x="1948.9" y="761.2"/><use href="#r" x="1935.6" y="788.5"/><use href="#r" x="1934.1" y="773.2"/><use href="#r" x="2004.8" y="737.8"/><use href="#r" x="1885.7" y="736.8"/><use href="#r" x="1983.6" y="778.4"/><use href="#r" x="1999.1" y="738.7"/><use href="#r" x="1926.2" y="781.4"/><use href="#r" x="1975" y="775.2"/><use href="#r" x="1922.7" y="819.9"/><use href="#r" x="1769.8" y="731"/><use href="#r" x="1963.9" y="741.4"/><use href="#r" x="1971.8" y="784"/><use href="#r" x="1989.2" y="755.6"/><use href="#r" x="1842.2" y="816.9"/><use href="#r" x="1988" y="761.7"/><use href="#r" x="1944.3" y="781.3"/><use href="#r" x="1961" y="745.3"/><use href="#r" x="1965.5" y="748"/><use href="#r" x="1979.7" y="794.8"/><use href="#r" x="1882.8" y="820.9"/><use href="#r" x="1954.5" y="777.8"/><use href="#r" x="1932.2" y="739.5"/><use href="#r" x="1936.4" y="736.4"/><use href="#r" x="1961.5" y="785.1"/><use href="#r" x="1955.4" y="769.3"/><use href="#r" x="1974.7" y="772.6"/><use href="#r" x="1950.6" y="754.2"/><use href="#r" x="1955.2" y="774.9"/><use href="#r" x="1942" y="771.9"/><use href="#r" x="2001" y="759"/><use href="#r" x="1951.5" y="742.7"/><use href="#r" x="1972.9" y="788.8"/><use href="#r" x="1860.1" y="765.9"/><use href="#r" x="1855.4" y="782.8"/><use href="#r" x="1951.6" y="736.1"/><use href="#r" x="1962.4" y="753.6"/><use href="#r" x="1996.2" y="739.1"/><use href="#r" x="1958" y="767.4"/><use href="#r" x="1949.8" y="790.7"/><use href="#r" x="1939.8" y="774.4"/><use href="#r" x="1999.3" y="733.7"/><use href="#r" x="1933.2" y="730.2"/><use href="#r" x="1964" y="779.3"/><use href="#r" x="1934.2" y="773.1"/><use href="#r" x="1844.6" y="802"/><use href="#r" x="1890.6" y="777.5"/><use href="#r" x="1894.4" y="772.8"/><use href="#r" x="2003.5" y="761.1"/><use href="#r" x="1920" y="737.3"/><use href="#r" x="1978" y="730"/><use href="#r" x="1954.9" y="802.7"/><use href="#r" x="1925" y="734.1"/><use href="#r" x="1886.2" y="752"/><use href="#r" x="1919.3" y="781.7"/><use href="#r" x="1873" y="739.8"/><use href="#r" x="1909.5" y="732.1"/><use href="#r" x="1953.2" y="773.7"/><use href="#r" x="1959.9" y="789.3"/><use href="#r" x="1933.9" y="738.7"/><use href="#r" x="1999.2" y="734.2"/><use href="#r" x="1988.7" y="749"/><use href="#r" x="1872.5" y="760.7"/><use href="#r" x="1961.2" y="752.2"/><use href="#r" x="1940.8" y="789.2"/><use href="#r" x="1898.6" y="805.1"/><use href="#r" x="1975.4" y="787.7"/><use href="#r" x="1976.3" y="730.9"/><use href="#r" x="1939.3" y="758.8"/><use href="#r" x="1959.4" y="770.9"/><use href="#r" x="1990.7" y="781.3"/><use href="#r" x="1986.5" y="757.2"/><use href="#r" x="1918.7" y="738.4"/><use href="#r" x="1935.9" y="733.2"/><use href="#r" x="1942.9" y="781.4"/><use href="#r" x="1966" y="769.7"/><use href="#r" x="1999.8" y="756"/><use href="#r" x="1917.4" y="763"/><use href="#r" x="1906.6" y="781.6"/><use href="#r" x="1954" y="754"/><use href="#r" x="1875.6" y="794.3"/><use href="#r" x="1981.3" y="773.2"/><use href="#r" x="1977.1" y="746.4"/><use href="#r" x="1945.3" y="729.4"/><use href="#r" x="1934.5" y="733.2"/><use href="#r" x="1843.3" y="794.4"/><use href="#r" x="1982.2" y="776.2"/><use href="#r" x="1925.7" y="786"/><use href="#r" x="1985.2" y="793.1"/><use href="#r" x="1936.2" y="767.5"/><use href="#r" x="1909" y="750.1"/><use href="#r" x="1941.4" y="755.8"/><use href="#r" x="1962.9" y="731.4"/><use href="#r" x="1844.2" y="787.3"/><use href="#r" x="1912.7" y="739.5"/><use href="#r" x="1874.9" y="742"/><use href="#r" x="1893.2" y="775.4"/><use href="#r" x="2004.7" y="753.7"/><use href="#r" x="1951.6" y="733.3"/><use href="#r" x="1954.1" y="789.3"/><use href="#r" x="1980.2" y="768.7"/><use href="#r" x="2000.2" y="768.6"/><use href="#r" x="1928.5" y="752"/><use href="#r" x="1939.7" y="750.8"/><use href="#r" x="1948.7" y="748.9"/><use href="#r" x="1998.6" y="766.5"/><use href="#r" x="1980.1" y="731.2"/><use href="#r" x="1954.4" y="734.8"/><use href="#r" x="1979.7" y="800.7"/><use href="#r" x="1983.1" y="794.1"/><use href="#r" x="1952.5" y="732.5"/><use href="#r" x="1854.9" y="736.3"/><use href="#r" x="1963.8" y="751.7"/><use href="#r" x="1912.2" y="743.3"/><use href="#r" x="1991.9" y="738.7"/><use href="#r" x="1958.4" y="779.3"/><use href="#r" x="1802.8" y="816.1"/><use href="#r" x="1952" y="743.8"/><use href="#r" x="1972" y="757.6"/><use href="#r" x="1953" y="785.8"/><use href="#r" x="1963.1" y="785.7"/><use href="#r" x="1855.3" y="808.8"/><use href="#r" x="1958.3" y="740.6"/><use href="#r" x="1981.7" y="782.9"/><use href="#r" x="1783.4" y="740.8"/><use href="#r" x="1934.2" y="780.7"/><use href="#r" x="1956.4" y="729.4"/><use href="#r" x="1965.7" y="789.7"/><use href="#r" x="1923.8" y="730.2"/><use href="#r" x="1957.5" y="766.3"/><use href="#r" x="1926.6" y="735.8"/><use href="#r" x="1947.1" y="743.5"/><use href="#r" x="1901.7" y="755.5"/><use href="#r" x="1971.9" y="788.9"/><use href="#r" x="1991" y="747.4"/><use href="#r" x="1915.3" y="751.7"/><use href="#r" x="2004" y="745.8"/><use href="#r" x="1858" y="807.3"/><use href="#r" x="1887.5" y="771.3"/><use href="#r" x="1946.8" y="750"/><use href="#r" x="2002.6" y="760.7"/><use href="#r" x="1978.3" y="760.4"/><use href="#r" x="1988.5" y="735.3"/><use href="#r" x="1889.4" y="755.7"/><use href="#r" x="1980.2" y="759.2"/><use href="#r" x="1832.6" y="765.7"/><use href="#r" x="1914.9" y="760.6"/><use href="#r" x="1928.2" y="730.4"/><use href="#r" x="1825.6" y="737.2"/><use href="#r" x="2004.3" y="737.6"/><use href="#r" x="1967.1" y="819.3"/><use href="#r" x="1943.2" y="763.5"/><use href="#r" x="1980.8" y="742.4"/><use href="#r" x="1993.5" y="748.2"/><use href="#r" x="1936.5" y="781.1"/><use href="#r" x="1898.1" y="735.9"/><use href="#r" x="1991.8" y="733.1"/><use href="#r" x="1970.2" y="734.1"/><use href="#r" x="1969" y="789.3"/><use href="#r" x="1949.7" y="780.9"/><use href="#r" x="1985.1" y="735"/><use href="#r" x="1995.8" y="733"/><use href="#r" x="1927.4" y="739.4"/><use href="#r" x="1933.6" y="758.4"/><use href="#r" x="1974.9" y="801.5"/><use href="#r" x="1953.7" y="785.1"/><use href="#r" x="1987.3" y="730.6"/><use href="#r" x="1979.1" y="753.1"/><use href="#r" x="1984.4" y="738.7"/><use href="#r" x="2004.6" y="732.1"/><use href="#r" x="1992.8" y="759.9"/><use href="#r" x="1983.6" y="778.1"/><use href="#r" x="1992.7" y="773.3"/><use href="#r" x="1963.5" y="740.9"/><use href="#r" x="1931.3" y="777.9"/><use href="#r" x="1956.9" y="730.8"/><use href="#r" x="1937.2" y="763.5"/><use href="#r" x="2004.2" y="739.4"/><use href="#r" x="1807" y="798.7"/><use href="#r" x="1934.2" y="770.7"/><use href="#r" x="1997.9" y="730.2"/><use href="#r" x="1818.5" y="734.1"/><use href="#r" x="1977.1" y="816.3"/><use href="#r" x="1982.8" y="745.3"/><use href="#r" x="1874" y="782.6"/><use href="#r" x="1848.9" y="772.5"/><use href="#r" x="1908.2" y="780.9"/><use href="#r" x="1965.9" y="767.7"/><use href="#r" x="1954.8" y="740.9"/><use href="#r" x="1965" y="749.5"/><use href="#r" x="1993.4" y="748.1"/><use href="#r" x="1962.9" y="785.5"/><use href="#r" x="1972.6" y="733.2"/><use href="#r" x="1951.9" y="755"/><use href="#r" x="1907.1" y="729.6"/><use href="#r" x="1952.5" y="771"/><use href="#r" x="2003.6" y="741.7"/><use href="#r" x="1942.4" y="762.1"/><use href="#r" x="1989.7" y="760.1"/><use href="#r" x="1986.3" y="740.5"/><use href="#r" x="1843.9" y="731.4"/><use href="#r" x="1982.6" y="745.5"/><use href="#r" x="1981.3" y="784"/><use href="#r" x="1935.8" y="737"/><use href="#r" x="1991.9" y="747.9"/><use href="#r" x="1960.4" y="760.8"/><use href="#r" x="1921.4" y="781.4"/><use href="#r" x="1984.8" y="742.5"/><use href="#r" x="1911.8" y="730.2"/><use href="#r" x="1851.9" y="805.6"/><use href="#r" x="1915.2" y="764"/><use href="#r" x="1920.1" y="775"/><use href="#r" x="1942.6" y="772.8"/><use href="#r" x="1917.5" y="738.3"/><use href="#r" x="1806.8" y="802.9"/><use href="#r" x="1876.2" y="730.5"/><use href="#r" x="1926.7" y="730.1"/><use href="#r" x="1917.6" y="730.7"/><use href="#r" x="1972.8" y="810.9"/><use href="#r" x="1929.1" y="754.1"/><use href="#r" x="1933.1" y="756.3"/><use href="#r" x="1806.5" y="814.3"/><use href="#r" x="1952.9" y="749.5"/><use href="#r" x="1829.7" y="791"/><use href="#r" x="1958.1" y="805.5"/><use href="#r" x="1851.5" y="755.3"/><use href="#r" x="1897.4" y="739.3"/><use href="#r" x="1985.3" y="787.5"/><use href="#r" x="1885.7" y="760.9"/><use href="#r" x="1994.3" y="756.9"/><use href="#r" x="1916.9" y="819.8"/><use href="#r" x="1884.5" y="765.6"/><use href="#r" x="1962.7" y="731.2"/><use href="#r" x="1822.9" y="735.8"/><use href="#r" x="1966.1" y="782.8"/><use href="#r" x="1961.5" y="757.3"/><use href="#r" x="1935.3" y="754.4"/><use href="#r" x="1920.6" y="781.6"/><use href="#r" x="1939.2" y="742.9"/><use href="#r" x="1995.7" y="736.8"/><use href="#r" x="1832.6" y="735.8"/><use href="#r" x="1953.4" y="756.1"/><use href="#r" x="1982.4" y="750.7"/><use href="#r" x="1954" y="739.2"/><use href="#r" x="1919.7" y="770.7"/><use href="#r" x="1973.8" y="756.1"/><use href="#b" x="1984.7" y="744.7"/><use href="#b" x="1868" y="775.2"/><use href="#b" x="1855.1" y="742.7"/><use href="#b" x="1888.9" y="818.2"/><use href="#b" x="1923.1" y="814.2"/><use href="#b" x="1986.1" y="744.4"/><use href="#b" x="1882.7" y="743.2"/><use href="#b" x="1902.3" y="777.5"/><use href="#b" x="1942.5" y="761.6"/><use href="#b" x="1835" y="810.1"/><use href="#b" x="1971.1" y="807.5"/><use href="#b" x="1941.9" y="790.6"/><use href="#b" x="1905.4" y="813.5"/><use href="#b" x="1838.6" y="818.7"/><use href="#b" x="1773.8" y="820.9"/><use href="#b" x="1928" y="785.2"/><use href="#b" x="1838.6" y="783.4"/><use href="#b" x="1796.8" y="731.3"/><use href="#b" x="1972.8" y="740.9"/><use href="#b" x="2000.8" y="814.7"/><use href="#b" x="1957.8" y="735.5"/><use href="#b" x="1885.9" y="782.1"/><use href="#b" x="1796.3" y="809.9"/><use href="#b" x="1843.1" y="760.4"/><use href="#b" x="1957" y="771.1"/><use href="#b" x="1914.2" y="789.4"/><use href="#b" x="1792.7" y="816.7"/><use href="#b" x="1962.1" y="766.5"/><use href="#b" x="1943.4" y="790.1"/><use href="#b" x="1970" y="811.1"/><use href="#b" x="1996.4" y="808.6"/><use href="#b" x="1985.4" y="803.4"/><use href="#b" x="1878.4" y="761.7"/><use href="#b" x="1910.4" y="797"/><use href="#r" x="1753.6" y="963.6"/><use href="#r" x="1691.2" y="972.3"/><use href="#r" x="1622.6" y="982.2"/><use href="#r" x="1667.1" y="981.4"/><use href="#r" x="1652.6" y="986.3"/><use href="#r" x="1661.5" y="993.2"/><use href="#r" x="1701.1" y="995.6"/><use href="#r" x="1759.5" y="991.3"/><use href="#r" x="1603.4" y="997.6"/><use href="#r" x="1670.6" y="1004.1"/><use href="#r" x="1735.9" y="1003.5"/><use href="#r" x="1739.7" y="1006.9"/><use href="#r" x="1569.1" y="1008.1"/><use href="#r" x="1581.4" y="1013"/><use href="#r" x="1613.7" y="1018"/><use href="#r" x="1605.7" y="1025.9"/><use href="#r" x="1641.9" y="1025.3"/><use href="#r" x="1654.8" y="1028.9"/><use href="#r" x="1672" y="1031.6"/><use href="#r" x="1570.7" y="1030.2"/><use href="#r" x="1548.4" y="1035.2"/><use href="#r" x="1566.6" y="1038.6"/><use href="#r" x="1615.6" y="1044.5"/><use href="#r" x="1767" y="1057"/><use href="#r" x="1553.9" y="1063.3"/><use href="#r" x="1668.1" y="1076.4"/><use href="#r" x="1594.9" y="1100.9"/><use href="#r" x="1679" y="1104.5"/><use href="#r" x="1549.9" y="1108.4"/><use href="#r" x="1678.6" y="1118.9"/><use href="#r" x="1538.5" y="1124.8"/><use href="#r" x="1544.4" y="1133.1"/><use href="#r" x="1559.8" y="1137.5"/><use href="#r" x="1703.7" y="1132.2"/><use href="#r" x="1642.7" y="1136.1"/><use href="#r" x="1636.8" y="1155.9"/><use href="#r" x="1608.7" y="1157.5"/><use href="#r" x="1531.1" y="1176.1"/><use href="#b" x="1581.6" y="976.8"/><use href="#b" x="1755.5" y="971.9"/><use href="#b" x="1670.6" y="978.8"/><use href="#b" x="1688.3" y="979.8"/><use href="#b" x="1751.6" y="989.1"/><use href="#b" x="1765.6" y="992.6"/><use href="#b" x="1677.6" y="1002.1"/><use href="#b" x="1733.8" y="1010.9"/><use href="#b" x="1725.1" y="1015.4"/><use href="#b" x="1716.2" y="1024.3"/><use href="#b" x="1594.5" y="1028.3"/><use href="#b" x="1691.8" y="1029.7"/><use href="#b" x="1726.4" y="1035.2"/><use href="#b" x="1719.1" y="1041.1"/><use href="#b" x="1744.3" y="1040.1"/><use href="#b" x="1561.8" y="1057"/><use href="#b" x="1590.9" y="1054.6"/><use href="#b" x="1620" y="1053.6"/><use href="#b" x="1593.5" y="1062.9"/><use href="#b" x="1598.2" y="1064.3"/><use href="#b" x="1700.1" y="1058.9"/><use href="#b" x="1765" y="1061.3"/><use href="#b" x="1760.5" y="1066.5"/><use href="#b" x="1538.1" y="1069.8"/><use href="#b" x="1590.9" y="1070.4"/><use href="#b" x="1582.4" y="1076.4"/><use href="#b" x="1643.9" y="1077.1"/><use href="#b" x="1682.9" y="1081.1"/><use href="#b" x="1588.5" y="1087"/><use href="#b" x="1531.1" y="1093.6"/><use href="#b" x="1574.7" y="1106.8"/><use href="#b" x="1585" y="1113.8"/><use href="#b" x="1653.2" y="1106.4"/><use href="#b" x="1628.5" y="1111.8"/><use href="#b" x="1626.5" y="1114.9"/><use href="#b" x="1765" y="1105.4"/><use href="#b" x="1542.8" y="1117.9"/><use href="#b" x="1540.4" y="1122.3"/><use href="#b" x="1608.7" y="1121.3"/><use href="#b" x="1683.3" y="1121.9"/><use href="#b" x="1742.3" y="1117.9"/><use href="#b" x="1589.5" y="1130.6"/><use href="#b" x="1684.5" y="1131.8"/><use href="#b" x="1557.9" y="1132.2"/><use href="#b" x="1746.2" y="1133.5"/><use href="#b" x="1755.1" y="1130.8"/><use href="#b" x="1656.8" y="1137.5"/><use href="#b" x="1654.8" y="1141.1"/><use href="#b" x="1532.5" y="1139.5"/><use href="#b" x="1538.9" y="1141.1"/><use href="#b" x="1533.1" y="1147"/><use href="#b" x="1548" y="1148.6"/><use href="#b" x="1535.1" y="1153.5"/><use href="#b" x="1673.6" y="1146"/><use href="#b" x="1631.1" y="1148.6"/><use href="#b" x="1620.2" y="1151.9"/><use href="#b" x="1655.6" y="1151.5"/><use href="#b" x="1651.8" y="1154.9"/><use href="#b" x="1680.3" y="1151.9"/><use href="#b" x="1691.2" y="1151"/><use href="#b" x="1735.7" y="1152.3"/><use href="#b" x="1563.2" y="1155.9"/><use href="#b" x="1574.5" y="1153.3"/><use href="#b" x="1754.7" y="1159.5"/><use href="#b" x="1750.6" y="1162.8"/><use href="#b" x="1730.4" y="1162.4"/><use href="#b" x="1628.5" y="1161.8"/><use href="#b" x="1648.3" y="1166.2"/><use href="#b" x="1665.7" y="1164.2"/><use href="#b" x="1690.2" y="1163.2"/><use href="#b" x="1767" y="1168.8"/><use href="#b" x="1542.8" y="1169.4"/><use href="#b" x="1552.3" y="1167.8"/><use href="#b" x="1573.7" y="1168.8"/><use href="#b" x="1686.3" y="1170.3"/><use href="#b" x="1589.9" y="1172.7"/><use href="#b" x="1596.2" y="1171.7"/><use href="#b" x="1604.4" y="1171.7"/><use href="#b" x="1607.3" y="1175.3"/><use href="#b" x="1610.7" y="1176.7"/><use href="#b" x="1596.8" y="1178.3"/><use href="#b" x="1598.8" y="1179.2"/><use href="#b" x="1562.2" y="1174.7"/><use href="#b" x="1556.9" y="1177.7"/><use href="#b" x="1551.9" y="1178.7"/><use href="#b" x="1544" y="1175.3"/><use href="#b" x="1541.4" y="1178.3"/><use href="#b" x="1544" y="1180.6"/><use href="#b" x="1565.8" y="1180.6"/><use href="#b" x="1534.9" y="1182.6"/><use href="#b" x="1540" y="1181.6"/><use href="#b" x="1550.3" y="1183.6"/><use href="#b" x="1645.3" y="1178.1"/><use href="#b" x="1654.8" y="1174.1"/><use href="#b" x="1660.2" y="1175.7"/><use href="#b" x="1679.5" y="1177.1"/><use href="#b" x="1683.3" y="1177.7"/><use href="#b" x="1703.7" y="1173.7"/><use href="#b" x="1711.2" y="1174.1"/><use href="#b" x="1756.7" y="1175.7"/><use href="#b" x="1716.5" y="1181.6"/><use href="#b" x="1706.7" y="1186"/><use href="#b" x="1687.3" y="1185"/><use href="#b" x="1696.2" y="1190.1"/><use href="#b" x="1651.2" y="1185.6"/><use href="#b" x="1663.7" y="1187"/><use href="#b" x="1623.5" y="1183.2"/><use href="#b" x="1612.7" y="1184.6"/><use href="#b" x="1628.5" y="1189.1"/><use href="#b" x="1632.1" y="1188"/><use href="#b" x="1610.7" y="1188"/><use href="#b" x="1616.6" y="1190.5"/><use href="#b" x="1596.8" y="1188.5"/><use href="#b" x="1587.5" y="1188.5"/><use href="#b" x="1581.6" y="1185.6"/><use href="#b" x="1578" y="1187.6"/><use href="#b" x="1573.5" y="1189.5"/><use href="#b" x="1521.6" y="1185.6"/><use href="#b" x="1526.2" y="1190.9"/><use href="#b" x="1533.1" y="1190.9"/><use href="#b" x="1534.5" y="1188.5"/><use href="#b" x="1540.4" y="1190.5"/><use href="#b" x="1545.4" y="1191.9"/><use href="#b" x="1548.4" y="1188.5"/><use href="#b" x="1552.9" y="1190.1"/><use href="#b" x="1555.3" y="1186.6"/><use href="#b" x="1558.8" y="1190.9"/><use href="#b" x="1561.2" y="1189.9"/><use href="#r" x="1884.8" y="960"/><use href="#r" x="1887.3" y="974.4"/><use href="#r" x="1840.8" y="984.1"/><use href="#r" x="1802.6" y="998.6"/><use href="#r" x="1956.4" y="983.2"/><use href="#r" x="1977.2" y="984.3"/><use href="#r" x="1986.7" y="1004.1"/><use href="#r" x="1937.6" y="1020"/><use href="#r" x="1842.8" y="1026.7"/><use href="#r" x="1775.5" y="1032.8"/><use href="#r" x="1805.2" y="1033.6"/><use href="#r" x="1830.9" y="1041.7"/><use href="#r" x="1799.7" y="1045.5"/><use href="#r" x="1840.6" y="1049"/><use href="#r" x="1881.8" y="1047.1"/><use href="#r" x="1922.4" y="1052.6"/><use href="#r" x="1950.5" y="1061.5"/><use href="#r" x="1945.7" y="1073.2"/><use href="#r" x="1959" y="1072.8"/><use href="#r" x="1913.4" y="1086.6"/><use href="#r" x="1929.3" y="1085.7"/><use href="#r" x="1859.6" y="1095.2"/><use href="#r" x="1798.3" y="1098.1"/><use href="#r" x="1990" y="1092.6"/><use href="#r" x="1971.4" y="1100.9"/><use href="#r" x="1974.2" y="1104.5"/><use href="#r" x="1981.7" y="1112.4"/><use href="#r" x="1990.6" y="1114.9"/><use href="#r" x="1889.7" y="1116.9"/><use href="#r" x="1986.3" y="1134.7"/><use href="#r" x="1992.2" y="1138.1"/><use href="#r" x="1778.9" y="1136.7"/><use href="#r" x="1851.7" y="1145.6"/><use href="#r" x="1888.3" y="1152.5"/><use href="#r" x="1897.6" y="1154.3"/><use href="#r" x="1983.1" y="1151.4"/><use href="#r" x="1952" y="1158.9"/><use href="#r" x="1976.8" y="1162.2"/><use href="#r" x="1940.6" y="1171.3"/><use href="#r" x="1803.6" y="1174.7"/><use href="#r" x="1876.8" y="1183.6"/><use href="#b" x="1862.6" y="963.6"/><use href="#b" x="1860" y="968.3"/><use href="#b" x="1868.9" y="970.3"/><use href="#b" x="1784.8" y="971.3"/><use href="#b" x="1914.8" y="965.5"/><use href="#b" x="1922.4" y="971.3"/><use href="#b" x="1901.2" y="974.4"/><use href="#b" x="1907.9" y="975.8"/><use href="#b" x="1957.6" y="965.3"/><use href="#b" x="1955.6" y="967.5"/><use href="#b" x="1974.4" y="960"/><use href="#b" x="1976.4" y="963.6"/><use href="#b" x="1978.7" y="968.9"/><use href="#b" x="1943.5" y="977.2"/><use href="#b" x="1957" y="977.2"/><use href="#b" x="1961.9" y="987.1"/><use href="#b" x="1975.2" y="989.3"/><use href="#b" x="1972.4" y="992.1"/><use href="#b" x="1867.3" y="983.2"/><use href="#b" x="1892.1" y="985.7"/><use href="#b" x="1890.1" y="996.2"/><use href="#b" x="1804.2" y="992.3"/><use href="#b" x="1782.4" y="994"/><use href="#b" x="1787.8" y="996"/><use href="#b" x="1911.1" y="1005.1"/><use href="#b" x="1907.1" y="1008.1"/><use href="#b" x="1964.3" y="1002.9"/><use href="#b" x="1978.7" y="1003.5"/><use href="#b" x="1958.4" y="1011.5"/><use href="#b" x="1977.8" y="1013.8"/><use href="#b" x="1984.7" y="1013"/><use href="#b" x="1922.4" y="1017.8"/><use href="#b" x="1814.5" y="1022.9"/><use href="#b" x="1827.4" y="1024.3"/><use href="#b" x="1829.7" y="1026.7"/><use href="#b" x="1853.5" y="1020"/><use href="#b" x="1866.3" y="1023.3"/><use href="#b" x="1859.6" y="1028.7"/><use href="#b" x="1884.4" y="1028.7"/><use href="#b" x="1890.7" y="1033.2"/><use href="#b" x="1886.1" y="1034.2"/><use href="#b" x="1914" y="1025.3"/><use href="#b" x="1921.4" y="1029.3"/><use href="#b" x="1925.7" y="1028.3"/><use href="#b" x="1941.5" y="1021.9"/><use href="#b" x="1974.4" y="1024.9"/><use href="#b" x="1952" y="1030.8"/><use href="#b" x="1907.1" y="1035.2"/><use href="#b" x="1934.8" y="1038.8"/><use href="#b" x="1986.7" y="1038.8"/><use href="#b" x="1948.7" y="1047.5"/><use href="#b" x="1972.8" y="1045.1"/><use href="#b" x="1830.9" y="1048.5"/><use href="#b" x="1912.5" y="1051.6"/><use href="#b" x="1899.2" y="1057"/><use href="#b" x="1877.8" y="1055.6"/><use href="#b" x="1818.9" y="1058.3"/><use href="#b" x="1822.4" y="1066.9"/><use href="#b" x="1811.9" y="1073.2"/><use href="#b" x="1967.3" y="1063.9"/><use href="#b" x="1921.4" y="1071.8"/><use href="#b" x="1927.9" y="1074.4"/><use href="#b" x="1931.9" y="1078.7"/><use href="#b" x="1937.6" y="1071.4"/><use href="#b" x="1975.2" y="1074.8"/><use href="#b" x="1957" y="1078.7"/><use href="#b" x="1856.7" y="1079.3"/><use href="#b" x="1853.1" y="1085.7"/><use href="#b" x="1840.2" y="1083.3"/><use href="#b" x="1830.7" y="1085.1"/><use href="#b" x="1882.8" y="1088.2"/><use href="#b" x="1894.3" y="1083.7"/><use href="#b" x="1922.4" y="1086.1"/><use href="#b" x="1933.2" y="1090"/><use href="#b" x="1926.3" y="1095"/><use href="#b" x="1936.2" y="1098.5"/><use href="#b" x="1945.5" y="1094"/><use href="#b" x="1788.8" y="1090"/><use href="#b" x="1878.8" y="1099.9"/><use href="#b" x="1902.2" y="1099.5"/><use href="#b" x="1908.5" y="1102.9"/><use href="#b" x="1966.5" y="1103.9"/><use href="#b" x="1976.4" y="1099.9"/><use href="#b" x="1850.7" y="1110.4"/><use href="#b" x="1883.4" y="1113"/><use href="#b" x="1878.4" y="1118.3"/><use href="#b" x="1870.5" y="1124.6"/><use href="#b" x="1909.1" y="1114"/><use href="#b" x="1913.1" y="1114"/><use href="#b" x="1908.5" y="1118.3"/><use href="#b" x="1946.7" y="1113"/><use href="#b" x="1956.4" y="1112.4"/><use href="#b" x="1948.7" y="1118.9"/><use href="#b" x="1942.1" y="1122.7"/><use href="#b" x="1925.3" y="1121.7"/><use href="#b" x="1920" y="1124.2"/><use href="#b" x="1925.7" y="1130.2"/><use href="#b" x="1954" y="1127.6"/><use href="#b" x="1800.7" y="1121.7"/><use href="#b" x="1809.6" y="1122.3"/><use href="#b" x="1785.8" y="1124.2"/><use href="#b" x="1840.2" y="1128.6"/><use href="#b" x="1807.2" y="1131.6"/><use href="#b" x="1801" y="1133.7"/><use href="#b" x="1789.4" y="1135.5"/><use href="#b" x="1771.6" y="1134.5"/><use href="#b" x="1780.9" y="1138.7"/><use href="#b" x="1914" y="1138.7"/><use href="#b" x="1965.3" y="1139.5"/><use href="#b" x="1850.7" y="1142.1"/><use href="#b" x="1855.7" y="1146"/><use href="#b" x="1835.3" y="1146"/><use href="#b" x="1956" y="1150"/><use href="#b" x="1944.1" y="1153.9"/><use href="#b" x="1910.1" y="1153.9"/><use href="#b" x="1881.4" y="1156.9"/><use href="#b" x="1852.7" y="1156.3"/><use href="#b" x="1828.9" y="1153.5"/><use href="#b" x="1831.7" y="1157.9"/><use href="#b" x="1837.3" y="1157.5"/><use href="#b" x="1815.5" y="1161.3"/><use href="#b" x="1792.3" y="1155.3"/><use href="#b" x="1800.3" y="1155.3"/><use href="#b" x="1955" y="1166.2"/><use href="#b" x="1877.4" y="1171.3"/><use href="#b" x="1938.2" y="1174.3"/><use href="#b" x="1789.4" y="1177.3"/><use href="#b" x="1863.4" y="1179.1"/><use href="#b" x="1887.3" y="1182"/><use href="#b" x="1831.3" y="1183.2"/><use href="#b" x="1914.8" y="1179.3"/><use href="#r" x="1762.5" y="738"/><use href="#r" x="1767.6" y="739.2"/><use href="#r" x="1762.5" y="753.1"/><use href="#r" x="1755.1" y="773.9"/><use href="#r" x="1707.2" y="799.6"/><use href="#r" x="1641.9" y="805.5"/><use href="#r" x="1688.3" y="806.9"/><use href="#r" x="1682.5" y="809.5"/><use href="#r" x="1722.1" y="810.9"/><use href="#r" x="1708.6" y="826.7"/><use href="#r" x="1745.2" y="832.6"/><use href="#r" x="1764" y="830.2"/><use href="#r" x="1700.7" y="852.4"/><use href="#r" x="1711.6" y="857.8"/><use href="#r" x="1727.8" y="868.8"/><use href="#r" x="1666.1" y="873.6"/><use href="#r" x="1684.5" y="871.2"/><use href="#r" x="1642.3" y="876.7"/><use href="#r" x="1626.5" y="885.1"/><use href="#r" x="1538.9" y="893"/><use href="#r" x="1682.5" y="891"/><use href="#r" x="1701.3" y="889"/><use href="#r" x="1722.1" y="895.3"/><use href="#r" x="1747.2" y="895"/><use href="#r" x="1686.5" y="903.9"/><use href="#r" x="1761.5" y="909.8"/><use href="#r" x="1767.6" y="910.8"/><use href="#r" x="1655.8" y="917.7"/><use href="#r" x="1688.5" y="918.3"/><use href="#r" x="1700.7" y="924.6"/><use href="#r" x="1653.2" y="928"/><use href="#r" x="1759.7" y="930"/><use href="#r" x="1764" y="937.9"/><use href="#r" x="1611.1" y="941.9"/><use href="#r" x="1695.8" y="944"/><use href="#r" x="1720.1" y="945.8"/><use href="#r" x="1585.9" y="957.3"/><use href="#b" x="1704.1" y="743.2"/><use href="#b" x="1767" y="815.4"/><use href="#b" x="1748.8" y="847.1"/><use href="#b" x="1716.5" y="850"/><use href="#b" x="1696.8" y="856.4"/><use href="#b" x="1688.3" y="871.6"/><use href="#b" x="1714" y="871.2"/><use href="#b" x="1762.7" y="868.8"/><use href="#b" x="1701.1" y="882.5"/><use href="#b" x="1713.6" y="895.3"/><use href="#b" x="1703.3" y="906.4"/><use href="#b" x="1712.6" y="909.2"/><use href="#b" x="1656.6" y="909.8"/><use href="#b" x="1672.4" y="917.1"/><use href="#b" x="1628.9" y="918.7"/><use href="#b" x="1686.3" y="934.5"/><use href="#b" x="1623" y="944"/><use href="#b" x="1729.4" y="943"/><use href="#b" x="1737.7" y="951.3"/><use href="#b" x="1660.7" y="954.3"/><use href="#b" x="1698.1" y="959.3"/><use href="#b" x="1737.9" y="958.3"/><use href="#b" x="1614.6" y="959.3"/><use href="#r" x="1781.5" y="824.1"/><use href="#r" x="1771.4" y="830.6"/><use href="#r" x="1802.6" y="823.7"/><use href="#r" x="1815.5" y="833.2"/><use href="#r" x="1827.4" y="841.9"/><use href="#r" x="1837.3" y="823.7"/><use href="#r" x="1841.8" y="830.6"/><use href="#r" x="1858" y="829.3"/><use href="#r" x="1874.9" y="823.7"/><use href="#r" x="1879.8" y="823.3"/><use href="#r" x="1891.7" y="831.6"/><use href="#r" x="1884.8" y="839.9"/><use href="#r" x="1925.7" y="831.2"/><use href="#r" x="1932.6" y="834.6"/><use href="#r" x="1941.2" y="823.3"/><use href="#r" x="1943.1" y="828.7"/><use href="#r" x="1948.1" y="830.1"/><use href="#r" x="1952" y="829.3"/><use href="#r" x="1953" y="834.6"/><use href="#r" x="1962.5" y="834"/><use href="#r" x="1966.5" y="823.7"/><use href="#r" x="1973.2" y="827.1"/><use href="#r" x="1979.7" y="821.1"/><use href="#r" x="1994.2" y="835.2"/><use href="#r" x="1995.6" y="840.1"/><use href="#r" x="1989.6" y="844.5"/><use href="#r" x="1927.9" y="841.9"/><use href="#r" x="1915.4" y="845.9"/><use href="#r" x="1930.3" y="844.5"/><use href="#r" x="1950.1" y="846.1"/><use href="#r" x="1779.9" y="848.5"/><use href="#r" x="1837.9" y="850.8"/><use href="#r" x="1848.5" y="849.1"/><use href="#r" x="1864.6" y="851"/><use href="#r" x="1886.3" y="852"/><use href="#r" x="1814.9" y="860.7"/><use href="#r" x="1832.3" y="858"/><use href="#r" x="1927.9" y="858.4"/><use href="#r" x="1930.3" y="862.3"/><use href="#r" x="1898.6" y="861.3"/><use href="#r" x="1974.8" y="856.4"/><use href="#r" x="1979.1" y="859.3"/><use href="#r" x="1960.9" y="861.3"/><use href="#r" x="1957" y="864.9"/><use href="#r" x="1972.8" y="866.9"/><use href="#r" x="1835.3" y="868.8"/><use href="#r" x="1841.2" y="875.6"/><use href="#r" x="1874.9" y="876.8"/><use href="#r" x="1911.1" y="876.2"/><use href="#r" x="1930.7" y="872.2"/><use href="#r" x="1934.2" y="880.1"/><use href="#r" x="1956.6" y="876.2"/><use href="#r" x="1973.8" y="873.2"/><use href="#r" x="1980.7" y="876.2"/><use href="#r" x="1820" y="882.7"/><use href="#r" x="1838.2" y="887.4"/><use href="#r" x="1943.1" y="888.6"/><use href="#r" x="1981.1" y="888.6"/><use href="#r" x="1983.7" y="887.6"/><use href="#r" x="1945.1" y="894"/><use href="#r" x="1949.1" y="897.9"/><use href="#r" x="1933.2" y="899.9"/><use href="#r" x="1824" y="898.9"/><use href="#r" x="1831.7" y="905.8"/><use href="#r" x="1920" y="903.9"/><use href="#r" x="1913.1" y="908.2"/><use href="#r" x="1943.1" y="906.8"/><use href="#r" x="1966.5" y="909.2"/><use href="#r" x="1961.9" y="912.8"/><use href="#r" x="1990.2" y="905.8"/><use href="#r" x="1771" y="910.8"/><use href="#r" x="1918" y="915.7"/><use href="#r" x="1969.8" y="920.1"/><use href="#r" x="1975.2" y="918.3"/><use href="#r" x="1982.3" y="916.7"/><use href="#r" x="1987.3" y="924.2"/><use href="#r" x="1938.2" y="922.7"/><use href="#r" x="1913.8" y="925.6"/><use href="#r" x="1804.2" y="928.6"/><use href="#r" x="1966.3" y="934.1"/><use href="#r" x="1912.5" y="938.9"/><use href="#r" x="1983.3" y="942.5"/><use href="#r" x="1973.2" y="945.4"/><use href="#r" x="1975.2" y="948.4"/><use href="#r" x="1941.2" y="950.4"/><use href="#r" x="1912.5" y="951.4"/><use href="#r" x="1884.8" y="957.3"/><use href="#b" x="1826.4" y="825.3"/><use href="#b" x="1866.9" y="825.7"/><use href="#b" x="1911.9" y="822.7"/><use href="#b" x="1804.2" y="834.6"/><use href="#b" x="1810.5" y="838"/><use href="#b" x="1832.3" y="840.1"/><use href="#b" x="1915" y="839"/><use href="#b" x="1935.2" y="843.5"/><use href="#b" x="1966.5" y="831.6"/><use href="#b" x="1989.6" y="837.6"/><use href="#b" x="1954" y="849.4"/><use href="#b" x="1965.9" y="845.5"/><use href="#b" x="1971.8" y="850.4"/><use href="#b" x="1786.8" y="862.9"/><use href="#b" x="1889.3" y="867.7"/><use href="#b" x="1895.2" y="862.9"/><use href="#b" x="1904.1" y="872.2"/><use href="#b" x="1963.5" y="870.2"/><use href="#b" x="1969.8" y="867.9"/><use href="#b" x="1929.3" y="877.7"/><use href="#b" x="1944.1" y="880.7"/><use href="#b" x="1966.5" y="883.7"/><use href="#b" x="1960.3" y="887.6"/><use href="#b" x="1918" y="887.4"/><use href="#b" x="1792.3" y="901.5"/><use href="#b" x="1815.1" y="898.9"/><use href="#b" x="1833.3" y="903.9"/><use href="#b" x="1906.5" y="899.5"/><use href="#b" x="1905.1" y="902.5"/><use href="#b" x="1955.4" y="902.5"/><use href="#b" x="1961.9" y="902.9"/><use href="#b" x="1939.2" y="905.8"/><use href="#b" x="1956.4" y="912.8"/><use href="#b" x="1973.2" y="910.8"/><use href="#b" x="1995" y="914.7"/><use href="#b" x="1843.8" y="913.2"/><use href="#b" x="1983.7" y="917.1"/><use href="#b" x="1910.5" y="926.2"/><use href="#b" x="1972.8" y="928.6"/><use href="#b" x="1958" y="932.6"/><use href="#b" x="1986.7" y="933"/><use href="#b" x="1947.1" y="935.5"/><use href="#b" x="1914" y="934.5"/><use href="#b" x="1918.4" y="938.9"/><use href="#b" x="1940.2" y="942.5"/><use href="#b" x="1946.1" y="942.5"/><use href="#b" x="1959.9" y="941.5"/><use href="#b" x="1880.8" y="944.4"/><use href="#b" x="1944.1" y="948.4"/><use href="#b" x="1935.6" y="950.8"/><use href="#b" x="1918.4" y="949.4"/><use href="#b" x="1814.5" y="950.4"/><use href="#b" x="1817.5" y="956.7"/><use href="#b" x="1842.6" y="953.7"/><use href="#b" x="1847.6" y="955.7"/><use href="#b" x="1980.3" y="952.9"/><use href="#b" x="1973.8" y="958.3"/></g>
<path d="M1488.65 807.85H2047.50M1922.60 703.65V1215.30" stroke="#000" stroke-width="4.5" stroke-dasharray="17.65 17.65" fill="none"/>
<path d="M1484.35 1192.40H1488.65M1514.30 1215.30V1219.60M1484.35 1076.15H1488.65M1641.10 1215.30V1219.60M1484.35 959.90H1488.65M1767.90 1215.30V1219.60M1484.35 843.65H1488.65M1894.70 1215.30V1219.60M1484.35 727.40H1488.65M2021.50 1215.30V1219.60" stroke="#353a3e" stroke-width="4.6" fill="none"/>
<rect x="1488.65" y="703.65" width="558.85" height="511.65" fill="none" stroke="#353a3e" stroke-width="4.6" stroke-linejoin="round"/>
<text x="1462.16" y="1198.90" font-size="28.4" fill="#231815" textLength="14.75" lengthAdjust="spacingAndGlyphs">0</text>
<text x="1508.01" y="1247.10" font-size="28.4" fill="#231815" textLength="14.75" lengthAdjust="spacingAndGlyphs">0</text>
<text x="1445.48" y="1082.65" font-size="28.4" fill="#231815">25</text>
<text x="1631.08" y="1247.10" font-size="28.4" fill="#231815">25</text>
<text x="1445.40" y="966.40" font-size="28.4" fill="#231815">50</text>
<text x="1757.48" y="1247.10" font-size="28.4" fill="#231815">50</text>
<text x="1445.48" y="850.15" font-size="28.4" fill="#231815">75</text>
<text x="1884.87" y="1247.10" font-size="28.4" fill="#231815">75</text>
<text x="1432.66" y="733.90" font-size="28.4" fill="#231815" textLength="44.26" lengthAdjust="spacingAndGlyphs">100</text>
<text x="2001.27" y="1247.10" font-size="28.4" fill="#231815" textLength="44.26" lengthAdjust="spacingAndGlyphs">100</text>
<text x="1420.00" y="1211.94" transform="rotate(-90 1420.00 1211.94)" font-size="27.1" fill="#000">clinic−RadmC score (cutoff value=82.7)</text>
<text x="1581.66" y="1287.60" font-size="27.1" fill="#000" textLength="424.83" lengthAdjust="spacingAndGlyphs">clinic−mC score (cutoff value=80.5)</text>
<circle cx="1590.8" cy="680.6" r="9.8" fill="#df202e" stroke="#231815" stroke-width="1"/>
<circle cx="1840.3" cy="680.6" r="9.8" fill="#2a74ae" stroke="#231815" stroke-width="1"/>
<text x="1628.20" y="689.40" font-size="24.5" fill="#000" textLength="105.87" lengthAdjust="spacingAndGlyphs">Malignant</text>
<text x="1877.77" y="689.40" font-size="24.5" fill="#000" textLength="76.90" lengthAdjust="spacingAndGlyphs">Benign</text>
<text x="1506.64" y="745.70" font-size="33.4" fill="#231815" textLength="48.85" lengthAdjust="spacingAndGlyphs">72*</text>
<text x="1986.96" y="1203.90" font-size="33.4" fill="#231815" textLength="36.19" lengthAdjust="spacingAndGlyphs">30</text>
<text x="2024.41" y="1194.60" font-size="22.8" fill="#231815">#</text>
</g>
</svg>
</body></html>
